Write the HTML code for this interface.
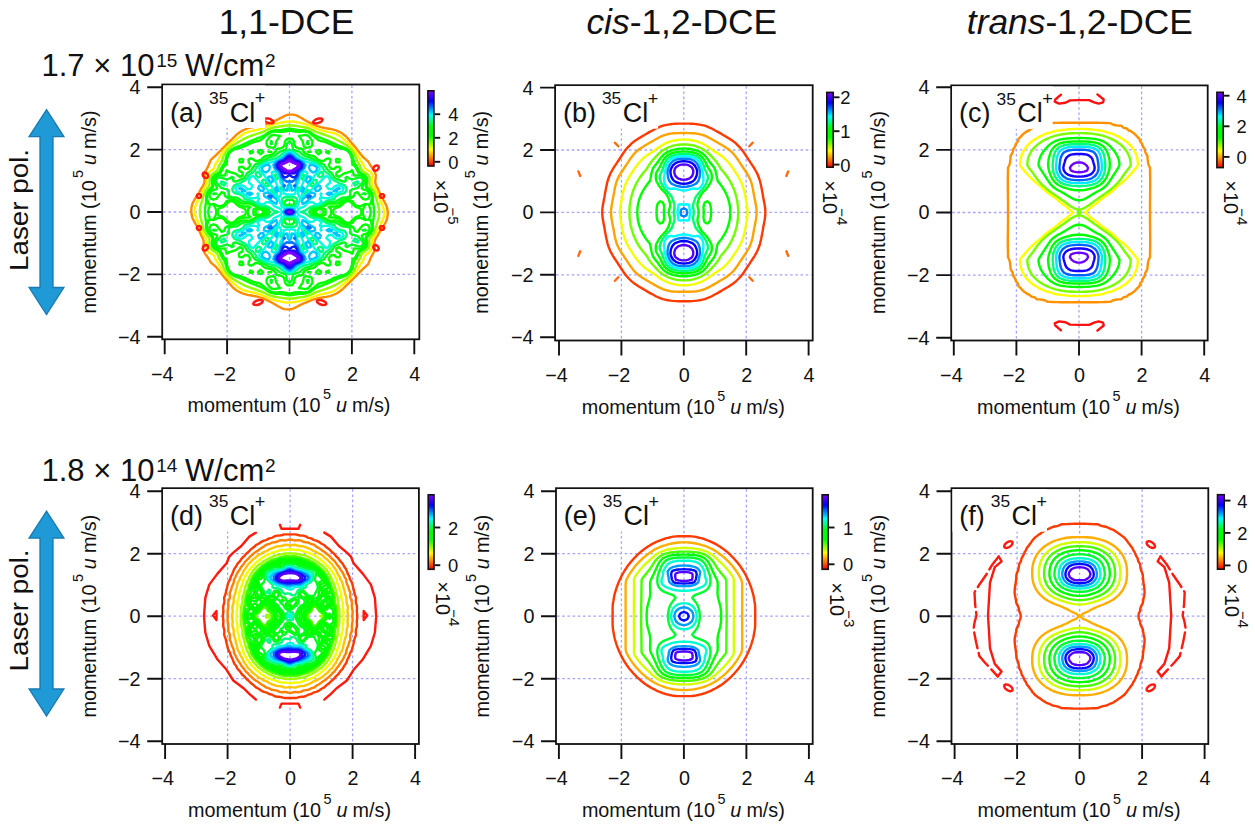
<!DOCTYPE html><html><head><meta charset="utf-8"><style>html,body{margin:0;padding:0;background:#fff;}svg{display:block}text{font-family:'Liberation Sans', sans-serif;fill:#111}</style></head><body><svg width="1255" height="826" viewBox="0 0 1255 826"><defs><linearGradient id="cbg" x1="0" y1="0" x2="0" y2="1"><stop offset="0.000" stop-color="#8000ff"/><stop offset="0.140" stop-color="#0000ff"/><stop offset="0.320" stop-color="#00ffff"/><stop offset="0.480" stop-color="#00ff00"/><stop offset="0.600" stop-color="#00ff00"/><stop offset="0.780" stop-color="#ffff00"/><stop offset="0.890" stop-color="#ff8000"/><stop offset="1.000" stop-color="#ff0000"/></linearGradient></defs><rect width="1255" height="826" fill="#fff"/><text x="218.7" y="34.3" font-size="35.4">1,1-DCE</text><text x="586.4" y="34.0" font-size="35.4"><tspan font-style="italic">cis</tspan>-1,2-DCE</text><text x="966.8" y="34.0" font-size="35.4"><tspan font-style="italic">trans</tspan>-1,2-DCE</text><text x="41.5" y="75.8" font-size="31.0">1.7 × 10</text><text x="156.3" y="66.8" font-size="19.0">15</text><text x="176.5" y="75.8" font-size="31.0" xml:space="preserve"> W/cm</text><text x="265.0" y="66.8" font-size="19.0">2</text><text x="41.5" y="480.8" font-size="31.0">1.8 × 10</text><text x="156.3" y="471.8" font-size="19.0">14</text><text x="176.5" y="480.8" font-size="31.0" xml:space="preserve"> W/cm</text><text x="265.0" y="471.8" font-size="19.0">2</text><path d="M46.5 109.7L63.9 136.6L53.0 136.6L53.0 287.5L63.9 287.5L46.5 314.5L29.1 287.5L40.0 287.5L40.0 136.6L29.1 136.6Z" fill="#1f9ad6" stroke="#1679b0" stroke-width="1.3" stroke-linejoin="miter"/><g transform="translate(27.6 271.0) rotate(-90) scale(1.07 1)"><text x="0.0" y="0.0" font-size="26.0">Laser pol.</text></g><path d="M46.5 511.2L63.9 538.1L53.0 538.1L53.0 689.0L63.9 689.0L46.5 716.0L29.1 689.0L40.0 689.0L40.0 538.1L29.1 538.1Z" fill="#1f9ad6" stroke="#1679b0" stroke-width="1.3" stroke-linejoin="miter"/><g transform="translate(27.6 671.5) rotate(-90) scale(1.07 1)"><text x="0.0" y="0.0" font-size="26.0">Laser pol.</text></g><path d="M227.1 85.5V338.3 M163.2 274.4H418.3 M289.5 85.5V338.3 M163.2 212.0H418.3 M351.9 85.5V338.3 M163.2 149.6H418.3" stroke="#a4a4ff" stroke-width="1.3" stroke-dasharray="2.6 2.6" fill="none"/><clipPath id="cpa"><rect x="162.2" y="84.5" width="257.1" height="254.8"/></clipPath><g clip-path="url(#cpa)"><g fill="none" stroke-width="2.4" stroke-linejoin="round" stroke-linecap="round"><path d="M294.7,114.9 292.1,114.6 289.5,114.6 286.9,115.0 286.8,115.0 284.3,116.2 281.6,117.5 281.3,117.7 279.0,118.8 276.4,120.1 276.0,120.3 273.8,121.2 271.2,122.3 269.7,122.9 268.5,123.3 265.9,124.3 263.3,125.2 262.0,125.5 260.7,125.9 258.1,126.3 255.4,126.7 252.8,127.1 250.2,127.6 248.4,128.1 247.6,128.4 244.9,129.5 242.3,130.6 242.1,130.8 239.7,132.3 238.1,133.4 237.1,134.2 235.2,136.0 234.5,136.7 232.6,138.6 231.8,139.3 229.9,141.2 229.2,141.8 227.1,143.9 226.6,144.4 224.5,146.5 224.0,147.0 221.9,149.1 221.4,149.8 219.4,151.7 218.7,152.5 216.7,154.3 216.1,155.1 213.9,157.0 213.5,157.3 211.1,159.6 210.9,159.8 209.8,162.2 208.8,164.8 208.3,165.9 207.6,167.4 206.1,170.1 205.6,170.9 204.8,172.7 204.3,175.3 204.4,177.9 204.6,180.6 204.2,183.2 203.0,185.8 203.0,185.8 201.3,188.4 200.4,190.2 199.9,191.0 198.4,193.7 197.8,194.7 196.7,196.3 195.2,198.6 194.9,198.9 193.5,201.5 192.5,203.5 192.3,204.1 191.6,206.8 191.3,209.4 191.3,212.0 191.6,214.6 192.2,217.2 192.5,218.0 193.4,219.9 194.7,222.5 195.2,223.2 196.2,225.1 197.7,227.7 197.8,227.8 199.0,230.3 200.2,233.0 200.4,233.3 201.3,235.6 202.7,238.2 203.0,239.0 203.6,240.8 203.7,243.4 203.3,246.1 203.2,248.7 203.9,251.3 205.1,253.9 205.6,254.5 207.2,256.6 208.3,258.3 209.0,259.2 210.4,261.8 210.9,262.5 213.0,264.4 213.5,264.8 216.1,267.0 216.1,267.0 218.2,269.7 218.7,270.2 220.2,272.3 221.4,273.7 222.3,274.9 224.0,277.0 224.4,277.5 226.6,280.1 226.7,280.1 228.8,282.8 229.2,283.3 231.0,285.4 231.8,286.3 233.4,288.0 234.5,288.8 236.8,290.6 237.1,290.8 239.7,292.2 241.9,293.2 242.3,293.4 244.9,294.2 247.6,294.9 250.2,295.3 252.8,295.7 253.6,295.9 255.4,296.2 258.1,296.8 260.7,297.6 263.2,298.5 263.3,298.5 265.9,299.7 268.5,300.9 268.9,301.1 271.2,302.3 273.8,303.7 273.9,303.7 276.4,305.3 278.1,306.3 279.0,306.8 281.6,308.1 283.7,309.0 284.3,309.1 286.9,309.4 289.5,309.4 292.1,309.0 292.2,309.0 294.7,307.8 297.4,306.5 297.7,306.3 300.0,305.2 302.6,303.9 303.0,303.7 305.2,302.8 307.8,301.7 309.3,301.1 310.5,300.7 313.1,299.7 315.7,298.8 317.0,298.5 318.3,298.1 320.9,297.7 323.6,297.3 326.2,296.9 328.8,296.4 330.6,295.9 331.4,295.6 334.1,294.5 336.7,293.4 336.9,293.2 339.3,291.7 340.9,290.6 341.9,289.8 343.8,288.0 344.5,287.3 346.4,285.4 347.2,284.7 349.1,282.8 349.8,282.2 351.9,280.1 352.4,279.6 354.5,277.5 355.0,277.0 357.1,274.9 357.6,274.2 359.6,272.3 360.3,271.5 362.3,269.7 362.9,268.9 365.1,267.0 365.5,266.7 367.9,264.4 368.1,264.2 369.2,261.8 370.2,259.2 370.7,258.1 371.4,256.6 372.9,253.9 373.4,253.1 374.2,251.3 374.7,248.7 374.6,246.1 374.4,243.4 374.8,240.8 376.0,238.2 376.0,238.2 377.7,235.6 378.6,233.8 379.1,233.0 380.6,230.3 381.2,229.3 382.3,227.7 383.8,225.4 384.1,225.1 385.5,222.5 386.5,220.5 386.7,219.9 387.4,217.2 387.7,214.6 387.7,212.0 387.4,209.4 386.8,206.8 386.5,206.0 385.6,204.1 384.3,201.5 383.8,200.8 382.8,198.9 381.3,196.3 381.2,196.2 380.0,193.7 378.8,191.0 378.6,190.7 377.7,188.4 376.3,185.8 376.0,185.0 375.4,183.2 375.3,180.6 375.7,177.9 375.8,175.3 375.1,172.7 373.9,170.1 373.4,169.5 371.8,167.4 370.7,165.7 370.0,164.8 368.6,162.2 368.1,161.5 366.0,159.6 365.5,159.2 362.9,157.0 362.9,157.0 360.8,154.3 360.3,153.8 358.8,151.7 357.6,150.3 356.7,149.1 355.0,147.0 354.6,146.5 352.4,143.9 352.3,143.9 350.2,141.2 349.8,140.7 348.0,138.6 347.2,137.7 345.6,136.0 344.5,135.2 342.2,133.4 341.9,133.2 339.3,131.8 337.1,130.8 336.7,130.6 334.1,129.8 331.4,129.1 328.8,128.7 326.2,128.3 325.4,128.1 323.6,127.8 320.9,127.2 318.3,126.4 315.8,125.5 315.7,125.5 313.1,124.3 310.5,123.1 310.1,122.9 307.8,121.7 305.2,120.3 305.1,120.3 302.6,118.7 300.9,117.7 300.0,117.2 297.4,115.9 295.3,115.0 294.7,114.9Z" stroke="#ff8c00"/><path d="M300.0,122.9 297.4,122.2 294.7,121.8 292.1,121.5 289.5,121.5 286.9,121.6 284.3,122.0 281.6,122.5 280.1,122.9 279.0,123.1 276.4,123.7 273.8,124.4 271.2,125.2 270.3,125.5 268.5,126.2 265.9,127.2 263.3,128.1 263.1,128.1 260.7,128.9 258.1,129.6 255.4,130.2 252.8,130.7 252.5,130.8 250.2,131.3 247.6,132.1 244.9,133.1 244.4,133.4 242.3,134.7 240.5,136.0 239.7,136.6 237.1,138.6 237.1,138.7 234.5,140.7 233.8,141.2 231.8,142.8 230.6,143.9 229.2,145.0 227.7,146.5 226.6,147.6 225.2,149.1 224.0,150.6 223.1,151.7 221.4,154.3 221.4,154.4 219.8,157.0 218.7,159.3 218.6,159.6 216.6,162.2 216.1,163.1 215.1,164.8 214.5,167.4 213.5,168.9 212.3,170.1 210.9,170.9 208.9,172.7 208.3,173.5 207.4,175.3 207.1,177.9 207.1,180.6 207.0,183.2 206.0,185.8 205.6,186.3 204.1,188.4 203.0,190.3 202.6,191.0 201.4,193.7 200.4,195.8 200.1,196.3 198.8,198.9 197.8,200.9 197.4,201.5 196.2,204.1 195.2,206.8 195.2,207.0 194.8,209.4 194.8,212.0 195.2,214.4 195.2,214.6 196.0,217.2 197.0,219.9 197.8,221.5 198.2,222.5 199.4,225.1 200.4,227.4 200.5,227.7 201.7,230.3 202.7,233.0 203.0,233.6 204.1,235.6 205.6,237.9 205.9,238.2 206.7,240.8 206.7,243.4 206.4,246.1 206.4,248.7 207.7,251.3 208.3,252.1 210.9,253.5 211.8,253.9 213.5,255.1 214.5,256.6 215.4,259.2 216.1,260.3 217.0,261.8 218.7,264.1 218.9,264.4 220.1,267.0 221.4,269.1 221.6,269.7 223.3,272.3 224.0,273.2 225.2,274.9 226.6,276.5 227.6,277.5 229.2,279.3 230.2,280.1 231.8,281.8 233.1,282.8 234.5,284.1 236.0,285.4 237.1,286.4 239.2,288.0 239.7,288.3 242.3,289.7 244.5,290.6 244.9,290.7 247.6,291.4 250.2,291.9 252.8,292.5 255.4,293.2 255.6,293.2 258.1,293.9 260.7,294.7 263.3,295.8 263.5,295.9 265.9,296.8 268.5,297.9 270.0,298.5 271.2,299.0 273.8,299.8 276.4,300.6 279.0,301.1 279.0,301.1 281.6,301.8 284.3,302.2 286.9,302.5 289.5,302.5 292.1,302.4 294.7,302.0 297.4,301.5 298.9,301.1 300.0,300.9 302.6,300.3 305.2,299.6 307.8,298.8 308.7,298.5 310.5,297.8 313.1,296.8 315.7,295.9 315.9,295.9 318.3,295.1 320.9,294.4 323.6,293.8 326.2,293.3 326.5,293.2 328.8,292.7 331.4,291.9 334.1,290.9 334.6,290.6 336.7,289.3 338.5,288.0 339.3,287.4 341.9,285.4 341.9,285.3 344.5,283.3 345.2,282.8 347.2,281.2 348.4,280.1 349.8,279.0 351.3,277.5 352.4,276.4 353.8,274.9 355.0,273.4 355.9,272.3 357.6,269.7 357.6,269.6 359.2,267.0 360.3,264.7 360.4,264.4 362.4,261.8 362.9,260.9 363.9,259.2 364.5,256.6 365.5,255.1 366.7,253.9 368.1,253.1 370.1,251.3 370.7,250.5 371.6,248.7 371.9,246.1 371.9,243.4 372.0,240.8 373.0,238.2 373.4,237.7 374.9,235.6 376.0,233.7 376.4,233.0 377.6,230.3 378.6,228.2 378.9,227.7 380.2,225.1 381.2,223.1 381.6,222.5 382.8,219.9 383.8,217.2 383.8,217.0 384.2,214.6 384.2,212.0 383.8,209.6 383.8,209.4 383.0,206.8 382.0,204.1 381.2,202.5 380.8,201.5 379.6,198.9 378.6,196.6 378.5,196.3 377.3,193.7 376.3,191.0 376.0,190.4 374.9,188.4 373.4,186.1 373.1,185.8 372.3,183.2 372.3,180.6 372.6,177.9 372.6,175.3 371.3,172.7 370.7,171.9 368.1,170.5 367.2,170.1 365.5,168.9 364.5,167.4 363.6,164.8 362.9,163.7 362.0,162.2 360.3,159.9 360.1,159.6 358.9,157.0 357.6,154.9 357.4,154.3 355.7,151.7 355.0,150.8 353.8,149.1 352.4,147.5 351.4,146.5 349.8,144.7 348.8,143.9 347.2,142.2 345.9,141.2 344.5,139.9 343.0,138.6 341.9,137.6 339.8,136.0 339.3,135.7 336.7,134.3 334.5,133.4 334.1,133.3 331.4,132.6 328.8,132.1 326.2,131.5 323.6,130.8 323.4,130.8 320.9,130.1 318.3,129.3 315.7,128.2 315.5,128.1 313.1,127.2 310.5,126.1 309.0,125.5 307.8,125.0 305.2,124.2 302.6,123.4 300.0,122.9 300.0,122.9Z" stroke="#fff300"/><path d="M292.1,125.5 289.5,125.3 286.9,125.5 286.6,125.5 284.3,125.8 281.6,126.2 279.0,126.6 276.4,127.0 273.8,127.5 271.4,128.1 271.2,128.2 268.5,129.2 265.9,130.4 265.1,130.8 263.3,131.6 260.7,132.6 258.2,133.4 258.1,133.4 255.4,134.3 252.8,135.2 250.6,136.0 250.2,136.2 247.6,137.2 244.9,138.4 244.6,138.6 242.3,139.8 239.7,141.2 239.7,141.2 237.1,142.7 235.2,143.9 234.5,144.2 231.8,146.0 231.2,146.5 229.2,148.1 228.2,149.1 226.6,151.0 226.0,151.7 224.4,154.3 224.0,155.3 223.2,157.0 222.3,159.6 221.4,161.9 221.2,162.2 219.5,164.8 218.7,166.6 218.4,167.4 217.3,170.1 216.1,171.3 214.3,172.7 213.5,173.2 210.9,175.1 210.7,175.3 209.6,177.9 209.5,180.6 209.7,183.2 209.2,185.8 208.3,187.0 207.2,188.4 205.6,190.5 205.3,191.0 204.2,193.7 203.3,196.3 203.0,197.3 202.5,198.9 201.8,201.5 201.0,204.1 200.4,206.5 200.3,206.8 199.9,209.4 199.8,212.0 200.0,214.6 200.4,217.0 200.4,217.2 201.1,219.9 201.9,222.5 202.6,225.1 203.0,226.4 203.4,227.7 204.2,230.3 205.3,233.0 205.6,233.5 207.2,235.6 208.3,237.0 209.2,238.2 209.6,240.8 209.4,243.4 209.3,246.1 210.3,248.7 210.9,249.2 213.5,250.9 214.2,251.3 216.1,252.7 217.3,253.9 218.4,256.6 218.7,257.4 219.5,259.2 221.2,261.8 221.4,262.1 222.3,264.4 223.3,267.0 224.0,268.6 224.5,269.7 226.0,272.3 226.6,273.0 228.2,274.9 229.2,276.0 231.1,277.5 231.8,278.1 234.5,279.9 234.9,280.1 237.1,281.5 239.5,282.8 239.7,282.9 242.3,284.3 244.5,285.4 244.9,285.6 247.6,286.7 250.2,287.7 250.9,288.0 252.8,288.6 255.4,289.5 258.1,290.5 258.4,290.6 260.7,291.4 263.3,292.4 265.1,293.2 265.9,293.6 268.5,294.8 271.2,295.8 271.3,295.9 273.8,296.5 276.4,297.0 279.0,297.4 281.6,297.9 284.3,298.2 286.5,298.5 286.9,298.5 289.5,298.7 292.1,298.5 292.4,298.5 294.7,298.2 297.4,297.8 300.0,297.4 302.6,297.0 305.2,296.5 307.6,295.9 307.8,295.8 310.5,294.8 313.1,293.6 313.9,293.2 315.7,292.4 318.3,291.4 320.8,290.6 320.9,290.6 323.6,289.7 326.2,288.8 328.4,288.0 328.8,287.8 331.4,286.8 334.1,285.6 334.4,285.4 336.7,284.2 339.3,282.8 339.3,282.8 341.9,281.3 343.8,280.1 344.5,279.8 347.2,278.0 347.8,277.5 349.8,275.9 350.8,274.9 352.4,273.0 353.0,272.3 354.6,269.7 355.0,268.7 355.8,267.0 356.7,264.4 357.6,262.1 357.8,261.8 359.5,259.2 360.3,257.4 360.6,256.6 361.7,253.9 362.9,252.7 364.7,251.3 365.5,250.8 368.1,248.9 368.3,248.7 369.4,246.1 369.5,243.4 369.3,240.8 369.8,238.2 370.7,237.0 371.8,235.6 373.4,233.5 373.7,233.0 374.8,230.3 375.7,227.7 376.0,226.7 376.5,225.1 377.2,222.5 378.0,219.9 378.6,217.5 378.7,217.2 379.1,214.6 379.2,212.0 379.0,209.4 378.6,207.0 378.6,206.8 377.9,204.1 377.1,201.5 376.4,198.9 376.0,197.6 375.6,196.3 374.8,193.7 373.7,191.0 373.4,190.5 371.8,188.4 370.7,187.0 369.8,185.8 369.4,183.2 369.6,180.6 369.7,177.9 368.7,175.3 368.1,174.8 365.5,173.1 364.8,172.7 362.9,171.3 361.7,170.1 360.6,167.4 360.3,166.6 359.5,164.8 357.8,162.2 357.6,161.9 356.7,159.6 355.7,157.0 355.0,155.4 354.5,154.3 353.0,151.7 352.4,151.0 350.8,149.1 349.8,148.0 347.9,146.5 347.2,145.9 344.5,144.1 344.1,143.9 341.9,142.5 339.5,141.2 339.3,141.1 336.7,139.7 334.5,138.6 334.1,138.4 331.4,137.3 328.8,136.3 328.1,136.0 326.2,135.4 323.6,134.5 320.9,133.5 320.6,133.4 318.3,132.6 315.7,131.6 313.9,130.8 313.1,130.4 310.5,129.2 307.8,128.2 307.7,128.1 305.2,127.5 302.6,127.0 300.0,126.6 297.4,126.1 294.7,125.8 292.5,125.5 292.1,125.5Z" stroke="#8eff00"/><path d="M305.2,130.4 302.6,130.2 300.0,130.2 297.4,130.0 294.7,129.5 292.1,129.0 289.5,128.7 286.9,129.0 284.3,129.5 281.6,130.0 279.0,130.2 276.4,130.2 273.8,130.4 272.6,130.8 271.2,131.2 268.5,132.4 267.0,133.4 265.9,134.3 263.3,135.7 262.6,136.0 260.7,137.1 258.1,138.0 256.4,138.6 255.4,139.2 252.8,140.1 250.2,141.2 250.1,141.2 247.6,142.4 244.9,143.6 244.4,143.9 242.3,144.8 239.7,146.0 238.3,146.5 237.1,146.9 234.5,147.9 232.2,149.1 231.8,149.3 229.2,151.6 229.1,151.7 227.4,154.3 226.6,156.2 226.3,157.0 225.6,159.6 225.1,162.2 224.0,163.8 223.4,164.8 221.6,167.4 221.4,167.9 220.6,170.1 218.8,172.7 218.7,172.7 216.1,174.3 214.4,175.3 213.5,176.1 212.1,177.9 211.8,180.6 212.2,183.2 212.4,185.8 210.9,188.2 210.7,188.4 208.3,190.8 208.1,191.0 206.8,193.7 206.2,196.3 206.1,198.9 206.1,201.5 205.8,204.1 205.6,204.8 205.3,206.8 205.0,209.4 204.9,212.0 205.0,214.6 205.3,217.2 205.6,219.1 205.8,219.9 206.1,222.5 206.1,225.1 206.2,227.7 206.8,230.3 208.1,233.0 208.3,233.2 210.7,235.6 210.9,235.8 212.4,238.2 212.2,240.8 211.8,243.4 212.0,246.1 213.5,248.0 214.4,248.7 216.1,249.7 218.7,251.3 218.8,251.3 220.6,253.9 221.4,256.1 221.6,256.6 223.4,259.2 224.0,260.2 225.1,261.8 225.6,264.4 226.3,267.0 226.6,267.7 227.4,269.7 229.1,272.3 229.2,272.4 231.8,274.7 232.2,274.9 234.5,276.1 237.1,277.1 238.3,277.5 239.7,278.1 242.3,279.2 244.4,280.1 244.9,280.4 247.6,281.6 250.1,282.8 250.2,282.8 252.8,283.9 255.4,284.8 256.5,285.4 258.1,286.0 260.7,286.9 262.6,288.0 263.3,288.3 265.9,289.7 267.0,290.6 268.5,291.6 271.2,292.8 272.6,293.2 273.8,293.6 276.4,293.8 279.0,293.8 281.6,294.0 284.3,294.5 286.9,295.0 289.5,295.3 292.1,295.0 294.7,294.5 297.4,294.0 300.0,293.8 302.6,293.8 305.2,293.6 306.4,293.2 307.8,292.8 310.5,291.6 312.0,290.6 313.1,289.7 315.7,288.3 316.4,288.0 318.3,286.9 320.9,286.0 322.6,285.4 323.6,284.8 326.2,283.9 328.8,282.8 328.9,282.8 331.4,281.6 334.1,280.4 334.6,280.1 336.7,279.2 339.3,278.0 340.7,277.5 341.9,277.1 344.5,276.1 346.8,274.9 347.2,274.7 349.8,272.4 349.9,272.3 351.6,269.7 352.4,267.8 352.7,267.0 353.4,264.4 353.9,261.8 355.0,260.2 355.6,259.2 357.4,256.6 357.6,256.1 358.4,253.9 360.2,251.3 360.3,251.3 362.9,249.7 364.6,248.7 365.5,247.9 366.9,246.1 367.2,243.4 366.8,240.8 366.6,238.2 368.1,235.8 368.3,235.6 370.7,233.2 370.9,233.0 372.2,230.3 372.8,227.7 372.9,225.1 372.9,222.5 373.2,219.9 373.4,219.2 373.7,217.2 374.0,214.6 374.1,212.0 374.0,209.4 373.7,206.8 373.4,204.9 373.2,204.1 372.9,201.5 372.9,198.9 372.8,196.3 372.2,193.7 370.9,191.0 370.7,190.8 368.3,188.4 368.1,188.2 366.6,185.8 366.8,183.2 367.2,180.6 367.0,177.9 365.5,176.0 364.6,175.3 362.9,174.3 360.3,172.7 360.2,172.7 358.4,170.1 357.6,167.9 357.4,167.4 355.6,164.8 355.0,163.8 353.9,162.2 353.4,159.6 352.7,157.0 352.4,156.3 351.6,154.3 349.9,151.7 349.8,151.6 347.2,149.3 346.8,149.1 344.5,147.9 341.9,146.9 340.7,146.5 339.3,145.9 336.7,144.8 334.6,143.9 334.1,143.6 331.4,142.4 328.9,141.2 328.8,141.2 326.2,140.1 323.6,139.2 322.5,138.6 320.9,138.0 318.3,137.1 316.4,136.0 315.7,135.7 313.1,134.3 312.0,133.4 310.5,132.4 307.8,131.2 306.4,130.8 305.2,130.4Z M232.7,201.5 234.5,202.4 236.3,204.1 237.1,205.1 239.6,206.8 239.7,206.8 242.3,207.6 244.9,209.0 245.3,209.4 245.9,212.0 245.3,214.6 244.9,215.0 242.3,216.4 239.7,217.2 239.6,217.2 237.1,218.9 236.3,219.9 234.5,221.6 232.7,222.5 231.8,222.7 229.2,222.6 229.0,222.5 226.6,220.0 226.5,219.9 224.0,217.5 223.5,217.2 221.4,216.5 218.7,215.3 218.1,214.6 217.6,212.0 218.1,209.4 218.7,208.7 221.4,207.5 223.5,206.8 224.0,206.5 226.5,204.1 226.6,204.0 229.0,201.5 229.2,201.4 231.8,201.3 232.7,201.5Z M350.0,201.5 352.4,204.0 352.5,204.1 355.0,206.5 355.5,206.8 357.6,207.5 360.3,208.7 360.9,209.4 361.4,212.0 360.9,214.6 360.3,215.3 357.6,216.5 355.5,217.2 355.0,217.5 352.5,219.9 352.4,220.0 350.0,222.5 349.8,222.6 347.2,222.7 346.3,222.5 344.5,221.6 342.7,219.9 341.9,218.9 339.4,217.2 339.3,217.2 336.7,216.4 334.1,215.0 333.7,214.6 333.1,212.0 333.7,209.4 334.1,209.0 336.7,207.6 339.3,206.8 339.4,206.8 341.9,205.1 342.7,204.1 344.5,202.4 346.3,201.5 347.2,201.3 349.8,201.4 350.0,201.5Z M260.9,209.4 263.3,211.2 263.8,212.0 263.3,212.8 260.9,214.6 260.7,214.7 258.1,214.8 257.1,214.6 255.4,212.4 255.3,212.0 255.4,211.6 257.1,209.4 258.1,209.2 260.7,209.3 260.9,209.4Z M321.9,209.4 323.6,211.6 323.7,212.0 323.6,212.4 321.9,214.6 320.9,214.8 318.3,214.7 318.1,214.6 315.7,212.8 315.2,212.0 315.7,211.2 318.1,209.4 318.3,209.3 320.9,209.2 321.9,209.4Z" stroke="#0eff00"/><path d="M289.5,130.6 288.1,130.8 286.9,131.0 284.3,131.5 281.6,131.7 279.0,131.8 276.4,131.5 273.8,131.6 271.2,132.2 268.8,133.4 268.5,133.7 265.9,135.8 265.5,136.0 263.3,138.2 262.1,138.6 260.7,140.2 258.1,141.1 257.0,141.2 255.4,141.6 252.8,142.4 250.2,143.7 249.5,143.9 247.6,144.7 244.9,146.3 243.9,146.5 242.3,146.9 239.7,148.2 237.1,148.5 235.0,149.1 234.5,149.3 231.8,150.7 230.7,151.7 229.2,153.4 228.6,154.3 227.6,157.0 227.0,159.6 226.9,162.2 226.6,163.3 226.2,164.8 224.0,166.4 223.3,167.4 221.9,170.1 221.4,171.4 220.7,172.7 218.7,173.6 216.1,175.1 215.8,175.3 213.5,177.2 212.9,177.9 212.6,180.6 213.0,183.2 213.4,185.8 212.2,188.4 210.9,189.3 209.1,191.0 208.3,192.5 207.7,193.7 207.1,196.3 207.2,198.9 207.8,201.5 208.3,203.6 210.1,204.1 209.4,206.8 208.5,209.4 208.3,212.0 208.5,214.6 209.4,217.2 210.1,219.9 208.3,220.4 207.8,222.5 207.2,225.1 207.1,227.7 207.7,230.3 208.3,231.5 209.1,233.0 210.9,234.7 212.2,235.6 213.4,238.2 213.0,240.8 212.5,243.4 212.9,246.1 213.5,246.8 215.8,248.7 216.1,248.9 218.7,250.4 220.7,251.3 221.4,252.6 221.9,253.9 223.3,256.6 224.0,257.6 226.2,259.2 226.6,260.7 226.9,261.8 227.0,264.4 227.6,267.0 228.6,269.7 229.2,270.6 230.7,272.3 231.8,273.3 234.5,274.7 235.0,274.9 237.1,275.5 239.7,275.8 242.3,277.1 243.9,277.5 244.9,277.7 247.6,279.3 249.5,280.1 250.2,280.3 252.8,281.6 255.4,282.4 257.0,282.8 258.1,282.9 260.7,283.8 262.1,285.4 263.3,285.8 265.5,288.0 265.9,288.2 268.5,290.3 268.8,290.6 271.2,291.8 273.8,292.4 276.4,292.5 279.0,292.2 281.6,292.3 284.3,292.5 286.9,293.0 288.1,293.2 289.5,293.4 290.9,293.2 292.1,293.0 294.7,292.5 297.4,292.3 300.0,292.2 302.6,292.5 305.2,292.4 307.8,291.8 310.2,290.6 310.5,290.3 313.1,288.2 313.5,288.0 315.7,285.8 316.9,285.4 318.3,283.8 320.9,282.9 322.0,282.8 323.6,282.4 326.2,281.6 328.8,280.3 329.5,280.1 331.4,279.3 334.1,277.7 335.1,277.5 336.7,277.1 339.3,275.8 341.9,275.5 344.0,274.9 344.5,274.7 347.2,273.3 348.3,272.3 349.8,270.6 350.4,269.7 351.4,267.0 352.0,264.4 352.1,261.8 352.4,260.7 352.8,259.2 355.0,257.6 355.7,256.6 357.1,253.9 357.6,252.6 358.3,251.3 360.3,250.4 362.9,248.9 363.2,248.7 365.5,246.8 366.1,246.1 366.4,243.4 366.0,240.8 365.6,238.2 366.8,235.6 368.1,234.7 369.9,233.0 370.7,231.5 371.3,230.3 371.9,227.7 371.8,225.1 371.2,222.5 370.7,220.4 368.9,219.9 369.6,217.2 370.5,214.6 370.7,212.0 370.5,209.4 369.6,206.8 368.9,204.1 370.7,203.6 371.2,201.5 371.8,198.9 371.9,196.3 371.3,193.7 370.7,192.5 369.9,191.0 368.1,189.3 366.8,188.4 365.6,185.8 366.0,183.2 366.5,180.6 366.1,177.9 365.5,177.2 363.2,175.3 362.9,175.1 360.3,173.6 358.3,172.7 357.6,171.4 357.1,170.1 355.7,167.4 355.0,166.4 352.8,164.8 352.4,163.3 352.1,162.2 352.0,159.6 351.4,157.0 350.4,154.3 349.8,153.4 348.3,151.7 347.2,150.7 344.5,149.3 344.0,149.1 341.9,148.5 339.3,148.2 336.7,146.9 335.1,146.5 334.1,146.3 331.4,144.7 329.5,143.9 328.8,143.7 326.2,142.4 323.6,141.6 322.0,141.2 320.9,141.1 318.3,140.2 316.9,138.6 315.7,138.2 313.5,136.0 313.1,135.8 310.5,133.7 310.2,133.4 307.8,132.2 305.2,131.6 302.6,131.5 300.0,131.8 297.4,131.7 294.7,131.5 292.1,131.0 290.9,130.8 289.5,130.6Z M253.0,272.3 252.8,272.5 250.2,272.8 249.6,272.3 250.2,270.6 252.8,271.7 253.0,272.3Z M271.2,272.3 271.2,272.3 268.5,272.4 268.4,272.3 268.5,272.2 271.2,272.2 271.2,272.3Z M310.6,272.3 310.5,272.4 307.8,272.3 307.8,272.3 307.8,272.2 310.5,272.2 310.6,272.3Z M329.4,272.3 328.8,272.8 326.2,272.5 326.0,272.3 326.2,271.7 328.8,270.6 329.4,272.3Z M242.6,261.8 243.2,264.4 242.3,265.1 239.7,264.7 239.4,264.4 239.6,261.8 239.7,261.7 242.3,261.6 242.6,261.8Z M339.4,261.8 339.6,264.4 339.3,264.7 336.7,265.1 335.8,264.4 336.4,261.8 336.7,261.6 339.3,261.7 339.4,261.8Z M235.2,201.5 237.1,203.3 238.1,204.1 239.7,205.4 242.3,206.2 244.9,206.5 247.6,206.4 250.2,206.7 250.4,206.8 250.2,206.9 248.0,209.4 247.6,211.4 247.5,212.0 247.6,212.6 248.0,214.6 250.2,217.1 250.4,217.2 250.2,217.3 247.6,217.6 244.9,217.5 242.3,217.8 239.7,218.6 238.1,219.9 237.1,220.7 235.2,222.5 234.5,222.9 231.8,223.5 229.2,223.6 226.6,222.8 226.2,222.5 224.7,219.9 224.0,219.2 221.4,218.0 218.7,217.7 216.1,218.8 214.2,219.9 213.5,220.0 212.1,219.9 213.5,219.3 214.8,217.2 216.0,214.6 216.1,213.5 216.2,212.0 216.1,210.5 216.0,209.4 214.8,206.8 213.5,204.7 212.1,204.1 213.5,204.0 214.2,204.1 216.1,205.2 218.7,206.3 221.4,206.0 224.0,204.8 224.7,204.1 226.2,201.5 226.6,201.2 229.2,200.4 231.8,200.5 234.5,201.1 235.2,201.5Z M352.8,201.5 354.3,204.1 355.0,204.8 357.6,206.0 360.3,206.3 362.9,205.2 364.8,204.1 365.5,204.0 366.9,204.1 365.5,204.7 364.2,206.8 363.0,209.4 362.9,210.5 362.8,212.0 362.9,213.5 363.0,214.6 364.2,217.2 365.5,219.3 366.9,219.9 365.5,220.0 364.8,219.9 362.9,218.8 360.3,217.7 357.6,218.0 355.0,219.2 354.3,219.9 352.8,222.5 352.4,222.8 349.8,223.6 347.2,223.5 344.5,222.9 343.8,222.5 341.9,220.7 340.9,219.9 339.3,218.6 336.7,217.8 334.1,217.5 331.4,217.6 328.8,217.3 328.6,217.2 328.8,217.1 331.0,214.6 331.4,212.6 331.5,212.0 331.4,211.4 331.0,209.4 328.8,206.9 328.6,206.8 328.8,206.7 331.4,206.4 334.1,206.5 336.7,206.2 339.3,205.4 340.9,204.1 341.9,203.3 343.8,201.5 344.5,201.1 347.2,200.5 349.8,200.4 352.4,201.2 352.8,201.5Z M263.0,209.4 263.3,209.6 265.0,212.0 263.3,214.4 263.0,214.6 260.7,215.2 258.1,215.5 255.4,215.5 253.5,214.6 253.4,212.0 253.5,209.4 255.4,208.5 258.1,208.5 260.7,208.8 263.0,209.4Z M325.5,209.4 325.6,212.0 325.5,214.6 323.6,215.5 320.9,215.5 318.3,215.2 316.0,214.6 315.7,214.4 314.0,212.0 315.7,209.6 316.0,209.4 318.3,208.8 320.9,208.5 323.6,208.5 325.5,209.4Z M243.2,159.6 242.6,162.2 242.3,162.4 239.7,162.3 239.6,162.2 239.4,159.6 239.7,159.3 242.3,158.9 243.2,159.6Z M339.6,159.6 339.4,162.2 339.3,162.3 336.7,162.4 336.4,162.2 335.8,159.6 336.7,158.9 339.3,159.3 339.6,159.6Z M253.0,151.7 252.8,152.3 250.2,153.4 249.6,151.7 250.2,151.2 252.8,151.5 253.0,151.7Z M271.2,151.7 271.2,151.8 268.5,151.8 268.4,151.7 268.5,151.6 271.2,151.7 271.2,151.7Z M310.6,151.7 310.5,151.8 307.8,151.8 307.8,151.7 307.8,151.7 310.5,151.6 310.6,151.7Z M329.4,151.7 328.8,153.4 326.2,152.3 326.0,151.7 326.2,151.5 328.8,151.2 329.4,151.7Z" stroke="#00ff00"/><path d="M273.8,276.3 271.2,276.4 268.5,277.0 267.6,277.5 266.5,280.1 266.7,282.8 268.4,285.4 268.5,285.6 270.6,288.0 271.2,288.5 273.8,289.2 276.4,288.6 279.0,288.3 280.0,288.0 279.0,287.1 278.2,285.4 276.4,282.9 276.4,282.8 275.7,280.1 275.1,277.5 273.8,276.3Z M310.5,277.0 307.8,276.4 305.2,276.3 303.9,277.5 303.3,280.1 302.6,282.8 302.6,282.9 300.8,285.4 300.0,287.1 299.0,288.0 300.0,288.3 302.6,288.6 305.2,289.2 307.8,288.5 308.4,288.0 310.5,285.6 310.6,285.4 312.3,282.8 312.5,280.1 311.4,277.5 310.5,277.0Z M289.5,138.4 288.6,138.6 286.9,139.0 285.1,141.2 284.6,143.9 284.3,145.2 283.7,146.5 281.6,148.1 279.0,148.5 276.7,149.1 276.4,149.3 275.4,151.7 273.8,153.3 272.0,154.3 271.2,154.7 268.5,155.4 265.9,155.9 264.0,157.0 263.3,157.5 261.4,159.6 260.7,160.0 258.1,160.9 255.4,161.0 253.4,159.6 252.8,158.9 250.2,158.4 248.5,159.6 248.7,162.2 250.2,164.6 250.3,164.8 250.2,165.1 249.2,167.4 247.6,168.7 244.9,169.0 243.3,167.4 242.3,166.8 239.7,167.0 239.1,167.4 238.8,170.1 239.7,171.1 242.3,172.3 242.5,172.7 242.7,175.3 242.3,175.7 239.7,176.8 237.5,175.3 237.1,174.7 234.5,173.2 232.0,172.7 231.8,172.7 229.2,171.9 226.6,170.4 225.9,172.7 225.1,175.3 224.0,175.5 221.4,175.4 218.7,175.5 216.1,176.9 214.9,177.9 214.1,180.6 214.8,183.2 216.1,185.5 216.3,185.8 217.2,188.4 216.1,189.3 213.5,190.0 211.6,191.0 210.9,191.6 209.7,193.7 209.4,196.3 210.9,198.7 211.3,198.9 213.5,199.6 216.0,198.9 216.1,198.9 218.4,196.3 218.7,195.7 220.6,193.7 221.4,192.2 224.0,193.0 224.3,193.7 225.4,196.3 226.6,197.2 229.2,198.3 231.8,198.9 231.9,198.9 234.5,199.5 237.1,200.5 238.6,201.5 239.7,202.5 242.3,203.6 244.9,203.6 247.6,203.4 250.2,203.6 251.5,204.1 252.8,204.9 255.4,206.2 257.3,206.8 258.1,207.0 260.7,207.6 263.3,208.3 265.8,209.4 265.9,209.5 267.3,212.0 265.9,214.5 265.8,214.6 263.3,215.7 260.7,216.4 258.1,217.0 257.3,217.2 255.4,217.8 252.8,219.1 251.5,219.9 250.2,220.4 247.6,220.6 244.9,220.4 242.3,220.4 239.7,221.5 238.6,222.5 237.1,223.5 234.5,224.5 231.9,225.1 231.8,225.1 229.2,225.7 226.6,226.8 225.4,227.7 224.3,230.3 224.0,231.0 221.4,231.8 220.6,230.3 218.7,228.3 218.4,227.7 216.1,225.1 216.0,225.1 213.5,224.4 211.3,225.1 210.9,225.3 209.4,227.7 209.7,230.3 210.9,232.4 211.6,233.0 213.5,234.0 216.1,234.7 217.2,235.6 216.3,238.2 216.1,238.5 214.8,240.8 214.1,243.4 214.9,246.1 216.1,247.1 218.7,248.5 221.4,248.6 224.0,248.5 225.1,248.7 225.9,251.3 226.6,253.6 229.2,252.1 231.8,251.3 232.0,251.3 234.5,250.8 237.1,249.3 237.5,248.7 239.7,247.2 242.3,248.3 242.7,248.7 242.5,251.3 242.3,251.7 239.7,252.9 238.8,253.9 239.1,256.6 239.7,257.0 242.3,257.2 243.3,256.6 244.9,255.0 247.6,255.3 249.2,256.6 250.2,258.9 250.3,259.2 250.2,259.4 248.7,261.8 248.5,264.4 250.2,265.6 252.8,265.1 253.4,264.4 255.4,263.0 258.1,263.1 260.7,264.0 261.4,264.4 263.3,266.5 264.0,267.0 265.9,268.1 268.5,268.6 271.2,269.3 272.0,269.7 273.8,270.7 275.4,272.3 276.4,274.7 276.7,274.9 279.0,275.5 281.6,275.9 283.7,277.5 284.3,278.8 284.6,280.1 285.1,282.8 286.9,285.0 288.6,285.4 289.5,285.6 290.4,285.4 292.1,285.0 293.9,282.8 294.4,280.1 294.7,278.8 295.3,277.5 297.4,275.9 300.0,275.5 302.3,274.9 302.6,274.7 303.6,272.3 305.2,270.7 307.0,269.7 307.8,269.3 310.5,268.6 313.1,268.1 315.0,267.0 315.7,266.5 317.6,264.4 318.3,264.0 320.9,263.1 323.6,263.0 325.6,264.4 326.2,265.1 328.8,265.6 330.5,264.4 330.3,261.8 328.8,259.4 328.7,259.2 328.8,258.9 329.8,256.6 331.4,255.3 334.1,255.0 335.7,256.6 336.7,257.2 339.3,257.0 339.9,256.6 340.2,253.9 339.3,252.9 336.7,251.7 336.5,251.3 336.3,248.7 336.7,248.3 339.3,247.2 341.5,248.7 341.9,249.3 344.5,250.8 347.0,251.3 347.2,251.3 349.8,252.1 352.4,253.6 353.1,251.3 353.9,248.7 355.0,248.5 357.6,248.6 360.3,248.5 362.9,247.1 364.1,246.1 364.9,243.4 364.2,240.8 362.9,238.5 362.7,238.2 361.8,235.6 362.9,234.7 365.5,234.0 367.4,233.0 368.1,232.4 369.3,230.3 369.6,227.7 368.1,225.3 367.7,225.1 365.5,224.4 363.0,225.1 362.9,225.1 360.6,227.7 360.3,228.3 358.4,230.3 357.6,231.8 355.0,231.0 354.7,230.3 353.6,227.7 352.4,226.8 349.8,225.7 347.2,225.1 347.1,225.1 344.5,224.5 341.9,223.5 340.4,222.5 339.3,221.5 336.7,220.4 334.1,220.4 331.4,220.6 328.8,220.4 327.5,219.9 326.2,219.1 323.6,217.8 321.7,217.2 320.9,217.0 318.3,216.4 315.7,215.7 313.2,214.6 313.1,214.5 311.7,212.0 313.1,209.5 313.2,209.4 315.7,208.3 318.3,207.6 320.9,207.0 321.7,206.8 323.6,206.2 326.2,204.9 327.5,204.1 328.8,203.6 331.4,203.4 334.1,203.6 336.7,203.6 339.3,202.5 340.4,201.5 341.9,200.5 344.5,199.5 347.1,198.9 347.2,198.9 349.8,198.3 352.4,197.2 353.6,196.3 354.7,193.7 355.0,193.0 357.6,192.2 358.4,193.7 360.3,195.7 360.6,196.3 362.9,198.9 363.0,198.9 365.5,199.6 367.7,198.9 368.1,198.7 369.6,196.3 369.3,193.7 368.1,191.6 367.4,191.0 365.5,190.0 362.9,189.3 361.8,188.4 362.7,185.8 362.9,185.5 364.2,183.2 364.9,180.6 364.1,177.9 362.9,176.9 360.3,175.5 357.6,175.4 355.0,175.5 353.9,175.3 353.1,172.7 352.4,170.4 349.8,171.9 347.2,172.7 347.0,172.7 344.5,173.2 341.9,174.7 341.5,175.3 339.3,176.8 336.7,175.7 336.3,175.3 336.5,172.7 336.7,172.3 339.3,171.1 340.2,170.1 339.9,167.4 339.3,167.0 336.7,166.8 335.7,167.4 334.1,169.0 331.4,168.7 329.8,167.4 328.8,165.1 328.7,164.8 328.8,164.6 330.3,162.2 330.5,159.6 328.8,158.4 326.2,158.9 325.6,159.6 323.6,161.0 320.9,160.9 318.3,160.0 317.6,159.6 315.7,157.5 315.0,157.0 313.1,155.9 310.5,155.4 307.8,154.7 307.0,154.3 305.2,153.3 303.6,151.7 302.6,149.3 302.3,149.1 300.0,148.5 297.4,148.1 295.3,146.5 294.7,145.2 294.4,143.9 293.9,141.2 292.1,139.0 290.4,138.6 289.5,138.4Z M260.7,269.7 258.1,271.7 257.9,272.3 258.1,272.6 260.7,274.1 263.1,272.3 260.7,269.7Z M320.9,271.7 318.3,269.7 315.9,272.3 318.3,274.1 320.9,272.6 321.1,272.3 320.9,271.7Z M289.5,219.9 289.5,220.2 289.5,219.9 289.5,219.9 289.5,219.9Z M289.5,204.1 289.5,204.1 289.5,204.1 289.5,203.8 289.5,204.1Z M260.7,149.9 258.1,151.4 257.9,151.7 258.1,152.3 260.7,154.3 263.1,151.7 260.7,149.9Z M320.9,151.4 318.3,149.9 315.9,151.7 318.3,154.3 320.9,152.3 321.1,151.7 320.9,151.4Z M279.0,135.7 276.4,135.4 273.8,134.8 271.2,135.5 270.6,136.0 268.5,138.4 268.4,138.6 266.7,141.2 266.5,143.9 267.6,146.5 268.5,147.0 271.2,147.6 273.8,147.7 275.1,146.5 275.7,143.9 276.4,141.2 276.4,141.1 278.2,138.6 279.0,136.9 280.0,136.0 279.0,135.7Z M307.8,135.5 305.2,134.8 302.6,135.4 300.0,135.7 299.0,136.0 300.0,136.9 300.8,138.6 302.6,141.1 302.6,141.2 303.3,143.9 303.9,146.5 305.2,147.7 307.8,147.6 310.5,147.0 311.4,146.5 312.5,143.9 312.3,141.2 310.6,138.6 310.5,138.4 308.4,136.0 307.8,135.5Z" stroke="#00ff00"/><path d="M271.2,279.8 270.6,280.1 271.0,282.8 271.2,283.0 271.6,282.8 271.8,280.1 271.2,279.8Z M289.5,141.2 289.5,141.2 286.9,143.9 286.9,143.9 286.5,146.5 286.1,149.1 284.3,150.4 281.6,151.2 279.9,151.7 279.0,152.2 276.6,154.3 276.4,154.5 273.8,156.1 271.2,156.8 270.5,157.0 268.5,157.6 265.9,159.0 265.2,159.6 263.3,160.8 260.8,162.2 260.7,162.3 258.1,163.2 255.4,164.3 254.8,164.8 253.1,167.4 252.8,167.9 251.2,170.1 250.2,170.9 247.6,172.7 247.6,172.7 245.9,175.3 244.9,177.3 244.5,177.9 242.3,179.0 239.7,179.9 238.3,180.6 237.1,181.2 234.5,181.6 232.9,180.6 233.5,177.9 231.8,176.9 230.8,177.9 229.2,178.6 226.6,179.3 224.0,178.7 221.5,177.9 221.4,177.9 218.7,177.4 217.7,177.9 216.1,179.7 215.8,180.6 216.1,181.6 217.1,183.2 218.7,185.1 219.3,185.8 221.4,187.8 223.0,188.4 224.0,188.7 226.6,189.1 228.9,191.0 228.6,193.7 229.1,196.3 229.2,196.3 231.8,197.1 234.5,197.4 237.1,197.7 238.7,198.9 239.7,199.4 242.3,201.1 243.7,201.5 244.9,201.7 247.6,201.8 250.2,202.1 252.8,203.0 254.5,204.1 255.4,204.7 258.1,205.8 260.7,206.5 261.9,206.8 263.3,207.1 265.9,207.9 268.4,209.4 268.5,209.7 269.9,212.0 268.5,214.3 268.4,214.6 265.9,216.1 263.3,216.9 261.9,217.2 260.7,217.5 258.1,218.2 255.4,219.3 254.5,219.9 252.8,221.0 250.2,221.9 247.6,222.2 244.9,222.3 243.7,222.5 242.3,222.9 239.7,224.6 238.7,225.1 237.1,226.3 234.5,226.6 231.8,226.9 229.2,227.7 229.1,227.7 228.6,230.3 228.9,233.0 226.6,234.9 224.0,235.3 223.0,235.6 221.4,236.2 219.3,238.2 218.7,238.9 217.1,240.8 216.1,242.4 215.8,243.4 216.1,244.3 217.7,246.1 218.7,246.6 221.4,246.1 221.5,246.1 224.0,245.3 226.6,244.7 229.2,245.4 230.8,246.1 231.8,247.1 233.5,246.1 232.9,243.4 234.5,242.4 237.1,242.8 238.3,243.4 239.7,244.1 242.3,245.0 244.5,246.1 244.9,246.7 245.9,248.7 247.6,251.3 247.6,251.3 250.2,253.1 251.2,253.9 252.8,256.1 253.1,256.6 254.8,259.2 255.4,259.7 258.1,260.8 260.7,261.7 260.8,261.8 263.3,263.2 265.2,264.4 265.9,265.0 268.5,266.4 270.5,267.0 271.2,267.2 273.8,267.9 276.4,269.5 276.6,269.7 279.0,271.8 279.9,272.3 281.6,272.8 284.3,273.6 286.1,274.9 286.5,277.5 286.9,280.1 286.9,280.1 289.5,282.8 289.5,282.8 289.5,282.8 292.1,280.1 292.1,280.1 292.5,277.5 292.9,274.9 294.7,273.6 297.4,272.8 299.1,272.3 300.0,271.8 302.4,269.7 302.6,269.5 305.2,267.9 307.8,267.2 308.5,267.0 310.5,266.4 313.1,265.0 313.8,264.4 315.7,263.2 318.2,261.8 318.3,261.7 320.9,260.8 323.6,259.7 324.2,259.2 325.9,256.6 326.2,256.1 327.8,253.9 328.8,253.1 331.4,251.3 331.4,251.3 333.1,248.7 334.1,246.7 334.5,246.1 336.7,245.0 339.3,244.1 340.7,243.4 341.9,242.8 344.5,242.4 346.1,243.4 345.5,246.1 347.2,247.1 348.2,246.1 349.8,245.4 352.4,244.7 355.0,245.3 357.5,246.1 357.6,246.1 360.3,246.6 361.3,246.1 362.9,244.3 363.2,243.4 362.9,242.4 361.9,240.8 360.3,238.9 359.7,238.2 357.6,236.2 356.0,235.6 355.0,235.3 352.4,234.9 350.1,233.0 350.4,230.3 349.9,227.7 349.8,227.7 347.2,226.9 344.5,226.6 341.9,226.3 340.3,225.1 339.3,224.6 336.7,222.9 335.3,222.5 334.1,222.3 331.4,222.2 328.8,221.9 326.2,221.0 324.5,219.9 323.6,219.3 320.9,218.2 318.3,217.5 317.1,217.2 315.7,216.9 313.1,216.1 310.6,214.6 310.5,214.3 309.1,212.0 310.5,209.7 310.6,209.4 313.1,207.9 315.7,207.1 317.1,206.8 318.3,206.5 320.9,205.8 323.6,204.7 324.5,204.1 326.2,203.0 328.8,202.1 331.4,201.8 334.1,201.7 335.3,201.5 336.7,201.1 339.3,199.4 340.3,198.9 341.9,197.7 344.5,197.4 347.2,197.1 349.8,196.3 349.9,196.3 350.4,193.7 350.1,191.0 352.4,189.1 355.0,188.7 356.0,188.4 357.6,187.8 359.7,185.8 360.3,185.1 361.9,183.2 362.9,181.6 363.2,180.6 362.9,179.7 361.3,177.9 360.3,177.4 357.6,177.9 357.5,177.9 355.0,178.7 352.4,179.3 349.8,178.6 348.2,177.9 347.2,176.9 345.5,177.9 346.1,180.6 344.5,181.6 341.9,181.2 340.7,180.6 339.3,179.9 336.7,179.0 334.5,177.9 334.1,177.3 333.1,175.3 331.4,172.7 331.4,172.7 328.8,170.9 327.8,170.1 326.2,167.9 325.9,167.4 324.2,164.8 323.6,164.3 320.9,163.2 318.3,162.3 318.2,162.2 315.7,160.8 313.8,159.6 313.1,159.0 310.5,157.6 308.5,157.0 307.8,156.8 305.2,156.1 302.6,154.5 302.4,154.3 300.0,152.2 299.1,151.7 297.4,151.2 294.7,150.4 292.9,149.1 292.5,146.5 292.1,143.9 292.1,143.9 289.5,141.2 289.5,141.2Z M307.8,279.8 307.2,280.1 307.4,282.8 307.8,283.0 308.0,282.8 308.4,280.1 307.8,279.8Z M266.0,240.8 265.9,240.9 265.8,240.8 265.9,240.7 266.0,240.8Z M313.2,240.8 313.1,240.9 313.0,240.8 313.1,240.7 313.2,240.8Z M216.1,230.1 213.5,229.6 213.2,230.3 213.5,230.5 216.1,230.5 216.3,230.3 216.1,230.1Z M365.5,229.6 362.9,230.1 362.7,230.3 362.9,230.5 365.5,230.5 365.8,230.3 365.5,229.6Z M294.2,219.9 294.3,222.5 292.1,224.2 289.5,224.4 286.9,224.2 284.7,222.5 284.8,219.9 286.9,218.7 289.5,218.2 292.1,218.7 294.2,219.9Z M294.3,201.5 294.2,204.1 292.1,205.3 289.5,205.8 286.9,205.3 284.8,204.1 284.7,201.5 286.9,199.8 289.5,199.6 292.1,199.8 294.3,201.5Z M216.1,193.5 213.5,193.5 213.2,193.7 213.5,194.4 216.1,193.9 216.3,193.7 216.1,193.5Z M365.5,193.5 362.9,193.5 362.7,193.7 362.9,193.9 365.5,194.4 365.8,193.7 365.5,193.5Z M266.0,183.2 265.9,183.3 265.8,183.2 265.9,183.1 266.0,183.2Z M313.2,183.2 313.1,183.3 313.0,183.2 313.1,183.1 313.2,183.2Z M271.2,141.0 271.0,141.2 270.6,143.9 271.2,144.2 271.8,143.9 271.6,141.2 271.2,141.0Z M307.8,141.0 307.4,141.2 307.2,143.9 307.8,144.2 308.4,143.9 308.0,141.2 307.8,141.0Z" stroke="#00ff20"/><path d="M292.1,150.9 289.5,149.8 286.9,150.9 285.8,151.7 284.3,152.7 281.7,154.3 281.6,154.4 279.0,156.6 278.5,157.0 276.4,157.9 273.8,158.8 271.2,159.4 270.5,159.6 268.5,160.2 265.9,161.5 264.8,162.2 263.3,162.9 260.7,164.1 259.0,164.8 258.1,165.7 256.2,167.4 255.4,169.5 255.1,170.1 252.8,172.5 252.6,172.7 250.2,174.0 248.9,175.3 247.6,177.8 247.5,177.9 244.9,180.5 244.7,180.6 242.3,181.6 240.0,183.2 239.7,183.3 237.1,184.2 234.5,185.4 233.9,185.8 232.4,188.4 232.7,191.0 234.5,193.1 236.9,193.7 237.1,193.7 239.7,194.4 242.3,195.7 243.1,196.3 244.7,198.9 244.9,199.0 247.6,199.7 250.2,200.2 252.8,201.1 253.4,201.5 255.4,202.7 257.0,204.1 258.1,204.6 260.7,205.3 263.3,205.7 265.9,206.0 267.9,206.8 268.5,207.0 271.2,208.7 272.1,209.4 273.8,210.6 276.4,211.3 277.9,212.0 276.4,212.7 273.8,213.4 272.1,214.6 271.2,215.3 268.5,217.0 267.9,217.2 265.9,218.0 263.3,218.3 260.7,218.7 258.1,219.4 257.0,219.9 255.4,221.3 253.4,222.5 252.8,222.9 250.2,223.8 247.6,224.3 244.9,225.0 244.7,225.1 243.1,227.7 242.3,228.3 239.7,229.6 237.1,230.3 236.9,230.3 234.5,230.9 232.7,233.0 232.4,235.6 233.9,238.2 234.5,238.6 237.1,239.8 239.7,240.7 240.0,240.8 242.3,242.4 244.7,243.4 244.9,243.5 247.5,246.1 247.6,246.2 248.9,248.7 250.2,250.0 252.6,251.3 252.8,251.5 255.1,253.9 255.4,254.5 256.2,256.6 258.1,258.3 259.0,259.2 260.7,259.9 263.3,261.1 264.8,261.8 265.9,262.5 268.5,263.8 270.5,264.4 271.2,264.6 273.8,265.2 276.4,266.1 278.5,267.0 279.0,267.4 281.6,269.6 281.7,269.7 284.3,271.3 285.8,272.3 286.9,273.1 289.5,274.2 292.1,273.1 293.2,272.3 294.7,271.3 297.3,269.7 297.4,269.6 300.0,267.4 300.5,267.0 302.6,266.1 305.2,265.2 307.8,264.6 308.5,264.4 310.5,263.8 313.1,262.5 314.2,261.8 315.7,261.1 318.3,259.9 320.0,259.2 320.9,258.3 322.8,256.6 323.6,254.5 323.9,253.9 326.2,251.5 326.4,251.3 328.8,250.0 330.1,248.7 331.4,246.2 331.5,246.1 334.1,243.5 334.3,243.4 336.7,242.4 339.0,240.8 339.3,240.7 341.9,239.8 344.5,238.6 345.1,238.2 346.6,235.6 346.3,233.0 344.5,230.9 342.1,230.3 341.9,230.3 339.3,229.6 336.7,228.3 335.9,227.7 334.3,225.1 334.1,225.0 331.4,224.3 328.8,223.8 326.2,222.9 325.6,222.5 323.6,221.3 322.0,219.9 320.9,219.4 318.3,218.7 315.7,218.3 313.1,218.0 311.1,217.2 310.5,217.0 307.8,215.3 306.9,214.6 305.2,213.4 302.6,212.7 301.1,212.0 302.6,211.3 305.2,210.6 306.9,209.4 307.8,208.7 310.5,207.0 311.1,206.8 313.1,206.0 315.7,205.7 318.3,205.3 320.9,204.6 322.0,204.1 323.6,202.7 325.6,201.5 326.2,201.1 328.8,200.2 331.4,199.7 334.1,199.0 334.3,198.9 335.9,196.3 336.7,195.7 339.3,194.4 341.9,193.7 342.1,193.7 344.5,193.1 346.3,191.0 346.6,188.4 345.1,185.8 344.5,185.4 341.9,184.2 339.3,183.3 339.0,183.2 336.7,181.6 334.3,180.6 334.1,180.5 331.5,177.9 331.4,177.8 330.1,175.3 328.8,174.0 326.4,172.7 326.2,172.5 323.9,170.1 323.6,169.5 322.8,167.4 320.9,165.7 320.0,164.8 318.3,164.1 315.7,162.9 314.2,162.2 313.1,161.5 310.5,160.2 308.5,159.6 307.8,159.4 305.2,158.8 302.6,157.9 300.5,157.0 300.0,156.6 297.4,154.4 297.3,154.3 294.7,152.7 293.2,151.7 292.1,150.9Z M261.1,248.7 260.7,249.4 259.0,251.3 258.1,252.0 256.2,251.3 255.8,248.7 258.1,246.6 260.7,247.7 261.1,248.7Z M323.2,248.7 322.8,251.3 320.9,252.0 320.0,251.3 318.3,249.4 317.9,248.7 318.3,247.7 320.9,246.6 323.2,248.7Z M278.1,246.1 277.3,248.7 276.4,249.9 274.6,248.7 275.3,246.1 276.4,244.2 278.1,246.1Z M303.7,246.1 304.4,248.7 302.6,249.9 301.7,248.7 300.9,246.1 302.6,244.2 303.7,246.1Z M268.6,238.2 268.5,238.3 267.8,240.8 266.0,243.4 265.9,243.5 263.3,244.4 262.3,243.4 262.4,240.8 263.3,240.0 265.2,238.2 265.9,237.5 268.5,238.1 268.6,238.2Z M313.8,238.2 315.7,240.0 316.6,240.8 316.7,243.4 315.7,244.4 313.1,243.5 313.0,243.4 311.2,240.8 310.5,238.3 310.4,238.2 310.5,238.1 313.1,237.5 313.8,238.2Z M224.0,238.4 221.4,240.0 220.6,240.8 221.4,242.6 224.0,241.7 225.8,240.8 224.0,238.4Z M357.6,240.0 355.0,238.4 353.2,240.8 355.0,241.7 357.6,242.6 358.4,240.8 357.6,240.0Z M281.7,233.0 282.2,235.6 281.6,237.2 280.0,235.6 281.6,233.0 281.6,232.9 281.7,233.0Z M297.4,233.0 299.0,235.6 297.4,237.2 296.8,235.6 297.3,233.0 297.4,232.9 297.4,233.0Z M274.9,230.3 273.8,233.0 273.8,233.0 271.2,234.0 270.7,233.0 271.2,232.5 272.9,230.3 273.8,229.6 274.9,230.3Z M306.1,230.3 307.8,232.5 308.3,233.0 307.8,234.0 305.2,233.0 305.2,233.0 304.1,230.3 305.2,229.6 306.1,230.3Z M292.9,217.2 294.7,218.1 296.1,219.9 296.9,222.5 297.0,225.1 294.7,226.7 292.1,226.7 289.5,226.7 286.9,226.7 284.3,226.7 282.0,225.1 282.1,222.5 282.9,219.9 284.3,218.1 286.1,217.2 286.9,217.1 289.5,216.9 292.1,217.1 292.9,217.2Z M297.0,198.9 296.9,201.5 296.1,204.1 294.7,205.9 292.9,206.8 292.1,206.9 289.5,207.1 286.9,206.9 286.1,206.8 284.3,205.9 282.9,204.1 282.1,201.5 282.0,198.9 284.3,197.3 286.9,197.3 289.5,197.3 292.1,197.3 294.7,197.3 297.0,198.9Z M273.8,191.0 274.9,193.7 273.8,194.4 272.9,193.7 271.2,191.5 270.7,191.0 271.2,190.0 273.8,191.0 273.8,191.0Z M308.3,191.0 307.8,191.5 306.1,193.7 305.2,194.4 304.1,193.7 305.2,191.0 305.2,191.0 307.8,190.0 308.3,191.0Z M282.2,188.4 281.7,191.0 281.6,191.1 281.6,191.0 280.0,188.4 281.6,186.8 282.2,188.4Z M299.0,188.4 297.4,191.0 297.4,191.1 297.3,191.0 296.8,188.4 297.4,186.8 299.0,188.4Z M266.0,180.6 267.8,183.2 268.5,185.7 268.6,185.8 268.5,185.9 265.9,186.5 265.2,185.8 263.3,184.0 262.4,183.2 262.3,180.6 263.3,179.6 265.9,180.5 266.0,180.6Z M316.7,180.6 316.6,183.2 315.7,184.0 313.8,185.8 313.1,186.5 310.5,185.9 310.4,185.8 310.5,185.7 311.2,183.2 313.0,180.6 313.1,180.5 315.7,179.6 316.7,180.6Z M224.0,182.3 221.4,181.4 220.6,183.2 221.4,184.0 224.0,185.6 225.8,183.2 224.0,182.3Z M357.6,181.4 355.0,182.3 353.2,183.2 355.0,185.6 357.6,184.0 358.4,183.2 357.6,181.4Z M277.3,175.3 278.1,177.9 276.4,179.8 275.3,177.9 274.6,175.3 276.4,174.1 277.3,175.3Z M304.4,175.3 303.7,177.9 302.6,179.8 300.9,177.9 301.7,175.3 302.6,174.1 304.4,175.3Z M259.0,172.7 260.7,174.6 261.1,175.3 260.7,176.3 258.1,177.4 255.8,175.3 256.2,172.7 258.1,172.0 259.0,172.7Z M322.8,172.7 323.2,175.3 320.9,177.4 318.3,176.3 317.9,175.3 318.3,174.6 320.0,172.7 320.9,172.0 322.8,172.7Z" stroke="#00ff7f"/><path d="M300.0,226.4 298.9,227.7 297.9,230.3 298.9,233.0 300.0,234.4 300.7,235.6 301.8,238.2 302.6,240.4 302.9,240.8 303.9,243.4 305.2,245.7 305.4,246.1 306.8,248.7 307.3,251.3 305.2,252.7 302.6,252.0 301.9,251.3 300.0,248.7 300.0,248.6 299.2,246.1 298.9,243.4 298.3,240.8 297.4,240.0 296.8,238.2 296.0,235.6 295.5,233.0 295.3,230.3 294.7,230.2 292.1,229.2 289.5,229.6 286.9,229.2 284.3,230.2 283.7,230.3 283.5,233.0 283.0,235.6 282.2,238.2 281.6,240.0 280.7,240.8 280.1,243.4 279.8,246.1 279.0,248.6 279.0,248.7 277.1,251.3 276.4,252.0 273.8,252.7 271.7,251.3 272.2,248.7 273.6,246.1 273.8,245.7 275.1,243.4 276.1,240.8 276.4,240.4 277.2,238.2 278.3,235.6 279.0,234.4 280.1,233.0 281.1,230.3 280.1,227.7 279.0,226.4 277.4,227.7 276.9,230.3 276.4,230.6 274.8,233.0 273.8,234.8 272.7,235.6 271.4,238.2 271.2,238.4 269.7,240.8 268.5,242.0 267.5,243.4 265.9,246.1 265.9,246.1 264.4,248.7 263.3,249.5 262.1,251.3 260.7,253.0 259.6,253.9 259.5,256.6 260.7,257.5 262.7,259.2 263.3,259.5 265.9,260.6 268.5,261.3 271.2,261.6 271.4,261.8 273.8,262.7 276.4,264.0 277.5,264.4 279.0,265.3 281.6,266.7 282.1,267.0 284.3,269.1 284.8,269.7 286.9,271.3 289.5,272.2 292.1,271.3 294.2,269.7 294.7,269.1 296.9,267.0 297.4,266.7 300.0,265.3 301.5,264.4 302.6,264.0 305.2,262.7 307.6,261.8 307.8,261.6 310.5,261.3 313.1,260.6 315.7,259.5 316.3,259.2 318.3,257.5 319.5,256.6 319.4,253.9 318.3,253.0 316.9,251.3 315.7,249.5 314.6,248.7 313.1,246.1 313.1,246.1 311.5,243.4 310.5,242.0 309.3,240.8 307.8,238.4 307.6,238.2 306.3,235.6 305.2,234.8 304.2,233.0 302.6,230.6 302.1,230.3 301.6,227.7 300.0,226.4Z M328.8,177.3 326.2,175.9 323.9,177.9 323.6,178.3 321.3,180.6 320.9,181.1 318.8,183.2 318.3,183.3 315.8,185.8 315.7,185.9 313.1,188.4 313.0,188.4 310.5,190.6 310.2,191.0 307.8,193.1 307.4,193.7 305.2,195.6 303.1,196.3 302.6,196.6 300.5,198.9 300.0,200.1 299.3,201.5 298.1,204.1 297.4,206.6 297.3,206.8 294.7,207.9 292.1,207.9 289.5,207.8 286.9,207.9 284.3,207.9 281.7,206.8 281.6,206.6 280.9,204.1 279.7,201.5 279.0,200.1 278.5,198.9 276.4,196.6 275.9,196.3 273.8,195.6 271.6,193.7 271.2,193.1 268.8,191.0 268.5,190.6 266.0,188.4 265.9,188.4 263.3,185.9 263.2,185.8 260.7,183.3 260.2,183.2 258.1,181.1 257.7,180.6 255.4,178.3 255.1,177.9 252.8,175.9 250.2,177.3 249.8,177.9 248.9,180.6 249.3,183.2 250.2,183.7 252.6,185.8 251.0,188.4 250.2,189.0 247.6,189.2 246.3,188.4 244.9,186.7 243.2,185.8 242.3,185.4 239.7,185.5 238.7,185.8 237.1,186.5 235.4,188.4 236.5,191.0 237.1,191.4 239.7,192.3 242.3,193.3 243.1,193.7 244.9,195.0 246.4,196.3 247.6,197.2 250.2,198.0 252.8,198.2 255.4,198.1 258.1,196.8 259.2,198.9 258.1,200.2 257.5,201.5 258.1,202.0 260.4,204.1 260.7,204.2 263.3,204.3 264.0,204.1 265.9,202.4 268.5,202.0 271.2,203.0 272.7,204.1 273.8,205.8 275.5,206.8 276.4,207.2 279.0,208.2 281.0,209.4 281.6,211.1 281.7,212.0 281.6,212.9 281.0,214.6 279.0,215.8 276.4,216.8 275.5,217.2 273.8,218.2 272.7,219.9 271.2,221.0 268.5,222.0 265.9,221.6 264.0,219.9 263.3,219.7 260.7,219.8 260.4,219.9 258.1,222.0 257.5,222.5 258.1,223.8 259.2,225.1 258.1,227.2 255.4,225.9 252.8,225.8 250.2,226.0 247.6,226.8 246.4,227.7 244.9,229.0 243.1,230.3 242.3,230.7 239.7,231.7 237.1,232.6 236.5,233.0 235.4,235.6 237.1,237.5 238.7,238.2 239.7,238.5 242.3,238.6 243.2,238.2 244.9,237.3 246.3,235.6 247.6,234.8 250.2,235.0 251.0,235.6 252.6,238.2 250.2,240.3 249.3,240.8 248.9,243.4 249.8,246.1 250.2,246.7 252.8,248.1 255.1,246.1 255.4,245.7 257.7,243.4 258.1,242.9 260.2,240.8 260.7,240.7 263.2,238.2 263.3,238.1 265.9,235.6 266.0,235.6 268.5,233.4 268.8,233.0 271.2,230.9 271.6,230.3 273.8,228.4 275.9,227.7 276.4,227.4 278.5,225.1 279.0,223.9 279.7,222.5 280.9,219.9 281.6,217.4 281.7,217.2 284.3,216.1 286.9,216.1 289.5,216.2 292.1,216.1 294.7,216.1 297.3,217.2 297.4,217.4 298.1,219.9 299.3,222.5 300.0,223.9 300.5,225.1 302.6,227.4 303.1,227.7 305.2,228.4 307.4,230.3 307.8,230.9 310.2,233.0 310.5,233.4 313.0,235.6 313.1,235.6 315.7,238.1 315.8,238.2 318.3,240.7 318.8,240.8 320.9,242.9 321.3,243.4 323.6,245.7 323.9,246.1 326.2,248.1 328.8,246.7 329.2,246.1 330.1,243.4 329.7,240.8 328.8,240.3 326.4,238.2 328.0,235.6 328.8,235.0 331.4,234.8 332.7,235.6 334.1,237.3 335.8,238.2 336.7,238.6 339.3,238.5 340.3,238.2 341.9,237.5 343.6,235.6 342.5,233.0 341.9,232.6 339.3,231.7 336.7,230.7 335.9,230.3 334.1,229.0 332.6,227.7 331.4,226.8 328.8,226.0 326.2,225.8 323.6,225.9 320.9,227.2 319.8,225.1 320.9,223.8 321.5,222.5 320.9,222.0 318.6,219.9 318.3,219.8 315.7,219.7 315.0,219.9 313.1,221.6 310.5,222.0 307.8,221.0 306.3,219.9 305.2,218.2 303.5,217.2 302.6,216.8 300.0,215.8 298.0,214.6 297.4,212.9 297.3,212.0 297.4,211.1 298.0,209.4 300.0,208.2 302.6,207.2 303.5,206.8 305.2,205.8 306.3,204.1 307.8,203.0 310.5,202.0 313.1,202.4 315.0,204.1 315.7,204.3 318.3,204.2 318.6,204.1 320.9,202.0 321.5,201.5 320.9,200.2 319.8,198.9 320.9,196.8 323.6,198.1 326.2,198.2 328.8,198.0 331.4,197.2 332.6,196.3 334.1,195.0 335.9,193.7 336.7,193.3 339.3,192.3 341.9,191.4 342.5,191.0 343.6,188.4 341.9,186.5 340.3,185.8 339.3,185.5 336.7,185.4 335.8,185.8 334.1,186.7 332.7,188.4 331.4,189.2 328.8,189.0 328.0,188.4 326.4,185.8 328.8,183.7 329.7,183.2 330.1,180.6 329.2,177.9 328.8,177.3Z M290.2,235.6 289.9,238.2 289.5,238.8 289.1,238.2 288.8,235.6 289.5,233.6 290.2,235.6Z M258.4,230.3 258.1,230.6 257.5,230.3 258.1,228.8 258.4,230.3Z M321.5,230.3 320.9,230.6 320.6,230.3 320.9,228.8 321.5,230.3Z M292.1,152.7 289.5,151.8 286.9,152.7 284.8,154.3 284.3,154.9 282.1,157.0 281.6,157.3 279.0,158.7 277.5,159.6 276.4,160.0 273.8,161.3 271.4,162.2 271.2,162.4 268.5,162.7 265.9,163.4 263.3,164.5 262.7,164.8 260.7,166.5 259.5,167.4 259.6,170.1 260.7,171.0 262.1,172.7 263.3,174.5 264.4,175.3 265.9,177.9 265.9,177.9 267.5,180.6 268.5,182.0 269.7,183.2 271.2,185.6 271.4,185.8 272.7,188.4 273.8,189.2 274.8,191.0 276.4,193.4 276.9,193.7 277.4,196.3 279.0,197.6 280.1,196.3 281.1,193.7 280.1,191.0 279.0,189.6 278.3,188.4 277.2,185.8 276.4,183.6 276.1,183.2 275.1,180.6 273.8,178.3 273.6,177.9 272.2,175.3 271.7,172.7 273.8,171.3 276.4,172.0 277.1,172.7 279.0,175.3 279.0,175.4 279.8,177.9 280.1,180.6 280.7,183.2 281.6,184.0 282.2,185.8 283.0,188.4 283.5,191.0 283.7,193.7 284.3,193.8 286.9,194.8 289.5,194.4 292.1,194.8 294.7,193.8 295.3,193.7 295.5,191.0 296.0,188.4 296.8,185.8 297.4,184.0 298.3,183.2 298.9,180.6 299.2,177.9 300.0,175.4 300.0,175.3 301.9,172.7 302.6,172.0 305.2,171.3 307.3,172.7 306.8,175.3 305.4,177.9 305.2,178.3 303.9,180.6 302.9,183.2 302.6,183.6 301.8,185.8 300.7,188.4 300.0,189.6 298.9,191.0 297.9,193.7 298.9,196.3 300.0,197.6 301.6,196.3 302.1,193.7 302.6,193.4 304.2,191.0 305.2,189.2 306.3,188.4 307.6,185.8 307.8,185.6 309.3,183.2 310.5,182.0 311.5,180.6 313.1,177.9 313.1,177.9 314.6,175.3 315.7,174.5 316.9,172.7 318.3,171.0 319.4,170.1 319.5,167.4 318.3,166.5 316.3,164.8 315.7,164.5 313.1,163.4 310.5,162.7 307.8,162.4 307.6,162.2 305.2,161.3 302.6,160.0 301.5,159.6 300.0,158.7 297.4,157.3 296.9,157.0 294.7,154.9 294.2,154.3 292.1,152.7Z M258.4,193.7 258.1,195.2 257.5,193.7 258.1,193.4 258.4,193.7Z M321.5,193.7 320.9,195.2 320.6,193.7 320.9,193.4 321.5,193.7Z M289.9,185.8 290.2,188.4 289.5,190.4 288.8,188.4 289.1,185.8 289.5,185.2 289.9,185.8Z" stroke="#00ffdf"/><path d="M294.7,234.3 292.1,233.4 291.5,235.6 291.3,238.2 289.5,240.6 287.7,238.2 287.5,235.6 286.9,233.4 284.3,234.3 283.8,235.6 283.2,238.2 283.0,240.8 282.2,243.4 281.6,244.1 280.9,246.1 280.0,248.7 279.1,251.3 279.0,251.4 276.4,253.9 276.2,253.9 273.9,256.6 273.8,257.8 273.2,259.2 273.8,259.5 275.2,261.8 276.4,262.5 279.0,263.8 280.5,264.4 281.6,265.1 284.2,267.0 284.3,267.1 286.7,269.7 286.9,269.8 289.5,270.9 292.1,269.8 292.3,269.7 294.7,267.1 294.8,267.0 297.4,265.1 298.5,264.4 300.0,263.8 302.6,262.5 303.8,261.8 305.2,259.5 305.8,259.2 305.2,257.8 305.1,256.6 302.8,253.9 302.6,253.9 300.0,251.4 299.9,251.3 299.0,248.7 298.1,246.1 297.4,244.1 296.8,243.4 296.0,240.8 295.8,238.2 295.2,235.6 294.7,234.3Z M268.5,253.2 265.9,251.5 263.3,252.7 262.3,253.9 262.1,256.6 263.3,257.6 265.9,258.9 267.8,259.2 268.5,259.3 268.9,259.2 270.1,256.6 269.0,253.9 268.5,253.2Z M315.7,252.7 313.1,251.5 310.5,253.2 310.0,253.9 308.9,256.6 310.1,259.2 310.5,259.3 311.2,259.2 313.1,258.9 315.7,257.6 316.9,256.6 316.7,253.9 315.7,252.7Z M271.2,241.3 269.2,243.4 268.5,244.9 268.0,246.1 268.5,247.2 271.2,247.5 272.0,246.1 273.2,243.4 271.2,241.3Z M307.8,241.3 305.8,243.4 307.0,246.1 307.8,247.5 310.5,247.2 311.0,246.1 310.5,244.9 309.8,243.4 307.8,241.3Z M263.3,232.9 263.2,233.0 260.7,233.1 258.2,235.6 259.1,238.2 260.7,238.7 261.2,238.2 263.3,236.1 263.9,235.6 263.3,233.0 263.3,232.9Z M315.7,232.9 315.7,233.0 315.1,235.6 315.7,236.1 317.8,238.2 318.3,238.7 319.9,238.2 320.8,235.6 318.3,233.1 315.8,233.0 315.7,232.9Z M239.7,235.0 239.3,235.6 239.7,235.8 242.2,235.6 239.7,235.0Z M276.4,232.1 275.8,233.0 275.1,235.6 276.4,236.9 277.1,235.6 278.1,233.0 276.4,232.1Z M302.6,232.1 300.9,233.0 301.9,235.6 302.6,236.9 303.9,235.6 303.2,233.0 302.6,232.1Z M339.3,235.0 336.8,235.6 339.3,235.8 339.7,235.6 339.3,235.0Z M244.9,232.7 242.3,232.8 241.9,233.0 242.3,235.4 244.9,233.2 245.5,233.0 244.9,232.7Z M336.7,232.8 334.1,232.7 333.5,233.0 334.1,233.2 336.7,235.4 337.1,233.0 336.7,232.8Z M250.2,228.9 247.6,229.8 246.9,230.3 247.6,231.4 250.2,231.4 252.4,230.3 250.2,228.9Z M276.4,220.2 273.8,221.4 272.2,222.5 271.2,223.3 269.2,225.1 268.5,225.6 265.9,226.8 264.4,227.7 263.9,230.3 265.9,231.3 268.5,231.5 269.9,230.3 271.2,229.5 273.2,227.7 273.8,226.8 276.2,225.1 276.4,224.4 277.0,222.5 276.4,220.2Z M305.2,221.4 302.6,220.2 302.0,222.5 302.6,224.4 302.8,225.1 305.2,226.8 305.8,227.7 307.8,229.5 309.1,230.3 310.5,231.5 313.1,231.3 315.1,230.3 314.6,227.7 313.1,226.8 310.5,225.6 309.8,225.1 307.8,223.3 306.8,222.5 305.2,221.4Z M331.4,229.8 328.8,228.9 326.6,230.3 328.8,231.4 331.4,231.4 332.1,230.3 331.4,229.8Z M292.1,208.8 289.5,208.6 286.9,208.8 285.0,209.4 284.3,210.0 283.2,212.0 284.3,214.0 285.0,214.6 286.9,215.2 289.5,215.4 292.1,215.2 294.0,214.6 294.7,214.0 295.8,212.0 294.7,210.0 294.0,209.4 292.1,208.8Z M268.5,192.5 265.9,192.7 263.9,193.7 264.4,196.3 265.9,197.2 268.5,198.4 269.2,198.9 271.2,200.7 272.2,201.5 273.8,202.6 276.4,203.8 277.0,201.5 276.4,199.6 276.2,198.9 273.8,197.2 273.2,196.3 271.2,194.5 269.9,193.7 268.5,192.5Z M313.1,192.7 310.5,192.5 309.1,193.7 307.8,194.5 305.8,196.3 305.2,197.2 302.8,198.9 302.6,199.6 302.0,201.5 302.6,203.8 305.2,202.6 306.8,201.5 307.8,200.7 309.8,198.9 310.5,198.4 313.1,197.2 314.6,196.3 315.1,193.7 313.1,192.7Z M250.2,192.6 247.6,192.6 246.9,193.7 247.6,194.2 250.2,195.1 252.4,193.7 250.2,192.6Z M331.4,192.6 328.8,192.6 326.6,193.7 328.8,195.1 331.4,194.2 332.1,193.7 331.4,192.6Z M244.9,190.8 242.3,188.6 241.9,191.0 242.3,191.2 244.9,191.3 245.5,191.0 244.9,190.8Z M260.7,185.3 259.1,185.8 258.2,188.4 260.7,190.9 263.2,191.0 263.3,191.1 263.3,191.0 263.9,188.4 263.3,187.9 261.2,185.8 260.7,185.3Z M276.4,187.1 275.1,188.4 275.8,191.0 276.4,191.9 278.1,191.0 277.1,188.4 276.4,187.1Z M302.6,187.1 301.9,188.4 300.9,191.0 302.6,191.9 303.2,191.0 303.9,188.4 302.6,187.1Z M318.3,185.3 317.8,185.8 315.7,187.9 315.1,188.4 315.7,191.0 315.7,191.1 315.8,191.0 318.3,190.9 320.8,188.4 319.9,185.8 318.3,185.3Z M336.7,188.6 334.1,190.8 333.5,191.0 334.1,191.3 336.7,191.2 337.1,191.0 336.7,188.6Z M239.7,188.2 239.3,188.4 239.7,189.0 242.2,188.4 239.7,188.2Z M292.1,154.2 289.5,153.1 286.9,154.2 286.7,154.3 284.3,156.9 284.2,157.0 281.6,158.9 280.5,159.6 279.0,160.2 276.4,161.5 275.2,162.2 273.8,164.5 273.2,164.8 273.8,166.2 273.9,167.4 276.2,170.1 276.4,170.1 279.0,172.6 279.1,172.7 280.0,175.3 280.9,177.9 281.6,179.9 282.2,180.6 283.0,183.2 283.2,185.8 283.8,188.4 284.3,189.7 286.9,190.6 287.5,188.4 287.7,185.8 289.5,183.4 291.3,185.8 291.5,188.4 292.1,190.6 294.7,189.7 295.2,188.4 295.8,185.8 296.0,183.2 296.8,180.6 297.4,179.9 298.1,177.9 299.0,175.3 299.9,172.7 300.0,172.6 302.6,170.1 302.8,170.1 305.1,167.4 305.2,166.2 305.8,164.8 305.2,164.5 303.8,162.2 302.6,161.5 300.0,160.2 298.5,159.6 297.4,158.9 294.8,157.0 294.7,156.9 292.3,154.3 292.1,154.2Z M339.3,188.2 336.8,188.4 339.3,189.0 339.7,188.4 339.3,188.2Z M271.2,176.5 268.5,176.8 268.0,177.9 268.5,179.1 269.2,180.6 271.2,182.7 273.2,180.6 272.0,177.9 271.2,176.5Z M310.5,176.8 307.8,176.5 307.0,177.9 305.8,180.6 307.8,182.7 309.8,180.6 310.5,179.1 311.0,177.9 310.5,176.8Z M268.5,164.7 267.8,164.8 265.9,165.1 263.3,166.4 262.1,167.4 262.3,170.1 263.3,171.3 265.9,172.5 268.5,170.8 269.0,170.1 270.1,167.4 268.9,164.8 268.5,164.7Z M310.5,164.7 310.1,164.8 308.9,167.4 310.0,170.1 310.5,170.8 313.1,172.5 315.7,171.3 316.7,170.1 316.9,167.4 315.7,166.4 313.1,165.1 311.2,164.8 310.5,164.7Z" stroke="#00c6ff"/><path d="M292.1,242.2 289.5,242.7 286.9,242.2 285.4,243.4 284.3,243.9 282.3,246.1 281.6,246.8 281.0,248.7 280.4,251.3 279.0,253.4 278.5,253.9 276.4,255.7 275.6,256.6 275.3,259.2 276.4,260.7 277.3,261.8 279.0,262.8 281.6,263.8 282.9,264.4 284.3,265.5 285.6,267.0 286.9,268.3 289.5,269.6 292.1,268.3 293.4,267.0 294.7,265.5 296.1,264.4 297.4,263.8 300.0,262.8 301.7,261.8 302.6,260.7 303.7,259.2 303.4,256.6 302.6,255.7 300.5,253.9 300.0,253.4 298.6,251.3 298.0,248.7 297.4,246.8 296.7,246.1 294.7,243.9 293.6,243.4 292.1,242.2Z M284.3,237.7 284.1,238.2 284.3,238.9 284.8,238.2 284.3,237.7Z M294.7,237.7 294.2,238.2 294.7,238.9 294.9,238.2 294.7,237.7Z M271.2,226.2 268.5,227.6 268.3,227.7 268.5,228.2 271.2,228.3 271.9,227.7 271.2,226.2Z M310.5,227.6 307.8,226.2 307.1,227.7 307.8,228.3 310.5,228.2 310.7,227.7 310.5,227.6Z M289.5,209.3 289.2,209.4 286.9,209.7 284.5,212.0 286.9,214.3 289.2,214.6 289.5,214.7 289.8,214.6 292.1,214.3 294.5,212.0 292.1,209.7 289.8,209.4 289.5,209.3Z M271.2,195.7 268.5,195.8 268.3,196.3 268.5,196.4 271.2,197.8 271.9,196.3 271.2,195.7Z M310.5,195.8 307.8,195.7 307.1,196.3 307.8,197.8 310.5,196.4 310.7,196.3 310.5,195.8Z M284.3,185.1 284.1,185.8 284.3,186.3 284.8,185.8 284.3,185.1Z M294.7,185.1 294.2,185.8 294.7,186.3 294.9,185.8 294.7,185.1Z M292.1,155.7 289.5,154.4 286.9,155.7 285.6,157.0 284.3,158.5 282.9,159.6 281.6,160.2 279.0,161.2 277.3,162.2 276.4,163.3 275.3,164.8 275.6,167.4 276.4,168.3 278.5,170.1 279.0,170.6 280.4,172.7 281.0,175.3 281.6,177.2 282.3,177.9 284.3,180.1 285.4,180.6 286.9,181.8 289.5,181.3 292.1,181.8 293.6,180.6 294.7,180.1 296.7,177.9 297.4,177.2 298.0,175.3 298.6,172.7 300.0,170.6 300.5,170.1 302.6,168.3 303.4,167.4 303.7,164.8 302.6,163.3 301.7,162.2 300.0,161.2 297.4,160.2 296.1,159.6 294.7,158.5 293.4,157.0 292.1,155.7Z" stroke="#0071ff"/><path d="M294.7,246.4 292.1,247.1 290.3,248.7 289.5,248.9 288.7,248.7 286.9,247.1 284.3,246.4 282.3,248.7 281.7,251.3 281.6,251.4 280.4,253.9 279.0,254.9 277.2,256.6 276.8,259.2 279.0,261.7 279.1,261.8 281.6,262.9 284.3,264.0 284.8,264.4 286.9,266.8 287.1,267.0 289.5,268.3 291.9,267.0 292.1,266.8 294.2,264.4 294.7,264.0 297.4,262.9 299.9,261.8 300.0,261.7 302.2,259.2 301.8,256.6 300.0,254.9 298.6,253.9 297.4,251.4 297.3,251.3 296.7,248.7 294.7,246.4Z M292.1,210.6 289.5,209.9 286.9,210.6 285.4,212.0 286.9,213.4 289.5,214.1 292.1,213.4 293.6,212.0 292.1,210.6Z M289.5,155.7 287.1,157.0 286.9,157.2 284.8,159.6 284.3,160.0 281.6,161.1 279.1,162.2 279.0,162.3 276.8,164.8 277.2,167.4 279.0,169.1 280.4,170.1 281.6,172.6 281.7,172.7 282.3,175.3 284.3,177.6 286.9,176.9 288.7,175.3 289.5,175.1 290.3,175.3 292.1,176.9 294.7,177.6 296.7,175.3 297.3,172.7 297.4,172.6 298.6,170.1 300.0,169.1 301.8,167.4 302.2,164.8 300.0,162.3 299.9,162.2 297.4,161.1 294.7,160.0 294.2,159.6 292.1,157.2 291.9,157.0 289.5,155.7Z" stroke="#001cff"/><path d="M294.7,250.7 292.1,250.7 289.5,250.8 286.9,250.7 284.3,250.7 284.1,251.3 282.4,253.9 281.6,254.4 279.0,256.2 278.6,256.6 278.0,259.2 279.0,260.3 281.4,261.8 281.6,261.9 284.3,262.8 286.3,264.4 286.9,265.1 289.5,267.0 292.1,265.1 292.7,264.4 294.7,262.8 297.4,261.9 297.6,261.8 300.0,260.3 301.0,259.2 300.4,256.6 300.0,256.2 297.4,254.4 296.6,253.9 294.9,251.3 294.7,250.7Z M292.1,211.5 289.5,210.5 286.9,211.5 286.3,212.0 286.9,212.5 289.5,213.5 292.1,212.5 292.7,212.0 292.1,211.5Z M292.1,158.9 289.5,157.0 286.9,158.9 286.3,159.6 284.3,161.2 281.6,162.1 281.4,162.2 279.0,163.7 278.0,164.8 278.6,167.4 279.0,167.8 281.6,169.6 282.4,170.1 284.1,172.7 284.3,173.3 286.9,173.3 289.5,173.2 292.1,173.3 294.7,173.3 294.9,172.7 296.6,170.1 297.4,169.6 300.0,167.8 300.4,167.4 301.0,164.8 300.0,163.7 297.6,162.2 297.4,162.1 294.7,161.2 292.7,159.6 292.1,158.9Z" stroke="#2500ff"/><path d="M292.1,252.3 289.5,252.0 286.9,252.3 284.4,253.9 284.3,254.0 281.6,255.6 280.3,256.6 279.3,259.2 281.6,260.8 284.3,261.7 284.6,261.8 286.9,263.4 288.6,264.4 289.5,265.1 290.4,264.4 292.1,263.4 294.4,261.8 294.7,261.7 297.4,260.8 299.7,259.2 298.7,256.6 297.4,255.6 294.7,254.0 294.6,253.9 292.1,252.3Z M289.5,211.1 287.4,212.0 289.5,212.9 291.6,212.0 289.5,211.1Z M289.5,158.9 288.6,159.6 286.9,160.6 284.6,162.2 284.3,162.3 281.6,163.2 279.3,164.8 280.3,167.4 281.6,168.4 284.3,170.0 284.4,170.1 286.9,171.7 289.5,172.0 292.1,171.7 294.6,170.1 294.7,170.0 297.4,168.4 298.7,167.4 299.7,164.8 297.4,163.2 294.7,162.3 294.4,162.2 292.1,160.6 290.4,159.6 289.5,158.9Z" stroke="#5b00ff"/><path d="M292.1,253.6 289.5,252.9 286.9,253.6 286.3,253.9 284.3,255.3 282.2,256.6 281.6,257.7 281.0,259.2 281.6,259.6 284.3,260.5 286.9,261.7 287.1,261.8 289.5,263.1 291.9,261.8 292.1,261.7 294.7,260.5 297.4,259.6 298.0,259.2 297.4,257.7 296.8,256.6 294.7,255.3 292.7,253.9 292.1,253.6Z M289.5,211.7 288.9,212.0 289.5,212.3 290.1,212.0 289.5,211.7Z M289.5,160.9 287.1,162.2 286.9,162.3 284.3,163.5 281.6,164.4 281.0,164.8 281.6,166.3 282.2,167.4 284.3,168.7 286.3,170.1 286.9,170.4 289.5,171.1 292.1,170.4 292.7,170.1 294.7,168.7 296.8,167.4 297.4,166.3 298.0,164.8 297.4,164.4 294.7,163.5 292.1,162.3 291.9,162.2 289.5,160.9Z" stroke="#8000ff"/></g><g fill="none" stroke-width="2.4" stroke-linejoin="round" stroke-linecap="round"><path d="M273.7,122.4 272.4,123.3 269.8,123.4 266.8,122.4 264.7,120.9 264.1,119.4 265.4,118.5 268.0,118.4 271.0,119.4 273.1,120.9 273.7,122.4Z" stroke="#ff1a10"/><path d="M322.7,119.4 322.1,120.9 320.0,122.4 317.0,123.4 314.4,123.3 313.1,122.4 313.7,120.9 315.8,119.4 318.8,118.4 321.4,118.5 322.7,119.4Z" stroke="#ff1a10"/><path d="M207.6,177.6 206.2,178.1 204.5,177.6 203.1,176.2 202.6,174.4 203.2,173.0 204.6,172.5 206.3,173.0 207.7,174.4 208.2,176.2 207.6,177.6Z" stroke="#ff1a10"/><path d="M207.6,245.5 208.2,246.9 207.7,248.7 206.3,250.1 204.6,250.6 203.2,250.1 202.6,248.7 203.1,246.9 204.5,245.5 206.2,245.0 207.6,245.5Z" stroke="#ff1a10"/><path d="M378.2,165.8 378.8,167.2 378.3,169.0 376.9,170.4 375.2,170.9 373.8,170.4 373.2,169.0 373.7,167.2 375.1,165.8 376.8,165.3 378.2,165.8Z" stroke="#ff1a10"/><path d="M378.2,250.1 376.8,250.6 375.1,250.1 373.7,248.7 373.2,246.9 373.8,245.5 375.2,245.0 376.9,245.5 378.3,246.9 378.8,248.7 378.2,250.1Z" stroke="#ff1a10"/><path d="M262.8,301.0 262.2,302.5 260.1,304.0 257.1,305.0 254.5,304.9 253.2,304.0 253.8,302.5 255.9,301.0 258.9,300.0 261.5,300.1 262.8,301.0Z" stroke="#ff1a10"/><path d="M326.4,304.0 325.1,304.9 322.5,305.0 319.5,304.0 317.4,302.5 316.8,301.0 318.1,300.1 320.7,300.0 323.7,301.0 325.8,302.5 326.4,304.0Z" stroke="#ff1a10"/><path d="M201.2,196.0 200.8,197.2 199.7,197.9 198.3,197.9 197.2,197.2 196.8,196.0 197.2,194.8 198.3,194.1 199.7,194.1 200.8,194.8 201.2,196.0Z" stroke="#ff1a10"/><path d="M201.2,228.0 200.8,229.2 199.7,229.9 198.3,229.9 197.2,229.2 196.8,228.0 197.2,226.8 198.3,226.1 199.7,226.1 200.8,226.8 201.2,228.0Z" stroke="#ff1a10"/><path d="M384.2,196.0 383.8,197.2 382.7,197.9 381.3,197.9 380.2,197.2 379.8,196.0 380.2,194.8 381.3,194.1 382.7,194.1 383.8,194.8 384.2,196.0Z" stroke="#ff1a10"/><path d="M384.2,228.0 383.8,229.2 382.7,229.9 381.3,229.9 380.2,229.2 379.8,228.0 380.2,226.8 381.3,226.1 382.7,226.1 383.8,226.8 384.2,228.0Z" stroke="#ff1a10"/></g></g><rect x="162.2" y="84.5" width="257.1" height="254.8" fill="none" stroke="#111" stroke-width="1.8"/><path d="M147.2 336.8H162.2 M164.7 339.3V354.3 M147.2 274.4H162.2 M227.1 339.3V354.3 M147.2 212.0H162.2 M289.5 339.3V354.3 M147.2 149.6H162.2 M351.9 339.3V354.3 M147.2 87.2H162.2 M414.3 339.3V354.3" stroke="#111" stroke-width="1.9" fill="none"/><text x="140.6" y="343.7" font-size="19.8" text-anchor="end">−4</text><text x="162.3" y="380.7" font-size="19.8" text-anchor="middle">−4</text><text x="140.6" y="281.3" font-size="19.8" text-anchor="end">−2</text><text x="224.7" y="380.7" font-size="19.8" text-anchor="middle">−2</text><text x="140.6" y="218.9" font-size="19.8" text-anchor="end">0</text><text x="290.0" y="380.7" font-size="19.8" text-anchor="middle">0</text><text x="140.6" y="156.5" font-size="19.8" text-anchor="end">2</text><text x="352.4" y="380.7" font-size="19.8" text-anchor="middle">2</text><text x="140.6" y="94.1" font-size="19.8" text-anchor="end">4</text><text x="414.8" y="380.7" font-size="19.8" text-anchor="middle">4</text><text x="187.5" y="412.3" font-size="19.8">momentum (10</text><text x="323.0" y="399.3" font-size="14.4">5</text><text x="335.9" y="412.3" font-size="19.8" font-style="italic">u</text><text x="352.0" y="412.3" font-size="19.8">m/s)</text><g transform="translate(95.5 312.0) rotate(-90)"><text x="-1.4" y="0.0" font-size="19.8">momentum (10</text><text x="134.1" y="-13.0" font-size="14.4">5</text><text x="147.0" y="0.0" font-size="19.8" font-style="italic">u</text><text x="163.1" y="0.0" font-size="19.8">m/s)</text></g><rect x="163.2" y="85.5" width="102.0" height="42.5" fill="#fff"/><text x="170.0" y="121.5" font-size="27.0">(a)</text><text x="209.0" y="103.6" font-size="17.4">35</text><text x="229.8" y="121.5" font-size="27.0">Cl</text><text x="254.8" y="104.0" font-size="18.0">+</text><rect x="427.9" y="90.8" width="6.0" height="75.2" fill="url(#cbg)" stroke="#111" stroke-width="1.6"/><path d="M434.7 114.2H440.2" stroke="#111" stroke-width="1.9"/><text x="448.2" y="121.3" font-size="18.4">4</text><path d="M434.7 137.8H440.2" stroke="#111" stroke-width="1.9"/><text x="448.2" y="144.9" font-size="18.4">2</text><path d="M434.7 161.8H440.2" stroke="#111" stroke-width="1.9"/><text x="448.2" y="168.9" font-size="18.4">0</text><g transform="translate(434.2 179.4) rotate(90)"><text x="0.0" y="0.0" font-size="20.0">×10</text><text x="28.0" y="-13.6" font-size="15.0">−5</text></g><path d="M621.4 86.2V339.5 M556.1 274.8H811.7 M683.8 86.2V339.5 M556.1 212.4H811.7 M746.2 86.2V339.5 M556.1 150.0H811.7" stroke="#a4a4ff" stroke-width="1.3" stroke-dasharray="2.6 2.6" fill="none"/><clipPath id="cpb"><rect x="555.1" y="85.2" width="257.6" height="255.3"/></clipPath><g clip-path="url(#cpb)"><g fill="none" stroke-width="2.4" stroke-linejoin="round" stroke-linecap="round"><path d="M704.8,125.7 702.1,125.1 699.5,124.6 696.9,124.2 694.3,123.9 691.7,123.7 689.0,123.6 686.4,123.6 683.8,123.6 681.2,123.6 678.6,123.6 675.9,123.7 673.3,123.9 670.7,124.2 668.1,124.6 665.5,125.1 662.8,125.7 662.3,125.9 660.2,126.7 657.6,127.8 655.9,128.5 655.0,129.0 652.4,130.5 651.0,131.2 649.7,131.9 647.1,133.4 646.5,133.8 644.5,135.0 642.0,136.4 641.9,136.5 639.2,138.1 637.8,139.0 636.6,139.8 634.0,141.6 633.9,141.6 631.4,143.7 630.8,144.3 628.8,146.3 628.2,146.9 626.1,149.3 625.9,149.5 624.0,152.1 623.5,152.8 622.3,154.7 620.9,156.8 620.5,157.4 618.8,160.0 618.3,160.7 617.1,162.6 615.7,164.7 615.3,165.2 613.6,167.8 613.0,168.8 612.1,170.5 610.6,173.1 610.4,173.5 609.5,175.7 608.5,178.3 607.8,180.3 607.6,181.0 607.0,183.6 606.4,186.2 605.9,188.8 605.4,191.4 605.2,192.6 604.9,194.1 604.5,196.7 604.0,199.3 603.5,201.9 603.0,204.5 602.6,207.2 602.6,207.3 602.3,209.8 602.3,212.4 602.3,215.0 602.6,217.5 602.6,217.6 603.0,220.3 603.5,222.9 604.0,225.5 604.5,228.1 604.9,230.7 605.2,232.2 605.4,233.4 605.9,236.0 606.4,238.6 607.0,241.2 607.6,243.8 607.8,244.5 608.5,246.5 609.5,249.1 610.4,251.3 610.6,251.7 612.1,254.3 613.0,256.0 613.6,257.0 615.3,259.6 615.7,260.1 617.1,262.2 618.3,264.1 618.8,264.8 620.5,267.4 620.9,268.0 622.3,270.1 623.5,272.0 624.0,272.7 625.9,275.3 626.1,275.5 628.2,277.9 628.8,278.5 630.8,280.5 631.4,281.1 633.9,283.2 634.0,283.2 636.6,285.0 637.8,285.8 639.2,286.7 641.9,288.3 642.0,288.4 644.5,289.8 646.5,291.0 647.1,291.4 649.7,292.9 651.0,293.6 652.4,294.3 655.0,295.8 655.9,296.3 657.6,297.0 660.2,298.1 662.3,298.9 662.8,299.1 665.5,299.7 668.1,300.2 670.7,300.6 673.3,300.9 675.9,301.1 678.6,301.2 681.2,301.2 683.8,301.2 686.4,301.2 689.0,301.2 691.7,301.1 694.3,300.9 696.9,300.6 699.5,300.2 702.1,299.7 704.8,299.1 705.3,298.9 707.4,298.1 710.0,297.0 711.7,296.3 712.6,295.8 715.2,294.3 716.6,293.6 717.9,292.9 720.5,291.4 721.1,291.0 723.1,289.8 725.6,288.4 725.7,288.3 728.4,286.7 729.8,285.8 731.0,285.0 733.6,283.2 733.7,283.2 736.2,281.1 736.8,280.5 738.8,278.5 739.4,277.9 741.5,275.5 741.7,275.3 743.6,272.7 744.1,272.0 745.3,270.1 746.7,268.0 747.1,267.4 748.8,264.8 749.3,264.1 750.5,262.2 751.9,260.1 752.3,259.6 754.0,257.0 754.6,256.0 755.5,254.3 757.0,251.7 757.2,251.3 758.1,249.1 759.1,246.5 759.8,244.5 760.0,243.8 760.6,241.2 761.2,238.6 761.7,236.0 762.2,233.4 762.4,232.2 762.7,230.7 763.1,228.1 763.6,225.5 764.1,222.9 764.6,220.3 765.0,217.6 765.0,217.5 765.3,215.0 765.3,212.4 765.3,209.8 765.0,207.3 765.0,207.2 764.6,204.5 764.1,201.9 763.6,199.3 763.1,196.7 762.7,194.1 762.4,192.6 762.2,191.4 761.7,188.8 761.2,186.2 760.6,183.6 760.0,181.0 759.8,180.3 759.1,178.3 758.1,175.7 757.2,173.5 757.0,173.1 755.5,170.5 754.6,168.8 754.0,167.8 752.3,165.2 751.9,164.7 750.5,162.6 749.3,160.7 748.8,160.0 747.1,157.4 746.7,156.8 745.3,154.7 744.1,152.8 743.6,152.1 741.7,149.5 741.5,149.3 739.4,146.9 738.8,146.3 736.8,144.3 736.2,143.7 733.7,141.6 733.6,141.6 731.0,139.8 729.8,139.0 728.4,138.1 725.7,136.5 725.6,136.4 723.1,135.0 721.1,133.8 720.5,133.4 717.9,131.9 716.6,131.2 715.2,130.5 712.6,129.0 711.7,128.5 710.0,127.8 707.4,126.7 705.3,125.9 704.8,125.7Z" stroke="#ff3a00"/><path d="M696.9,133.6 694.3,133.3 691.7,133.2 689.0,133.1 686.4,133.0 683.8,133.0 681.2,133.0 678.6,133.1 675.9,133.2 673.3,133.3 670.7,133.6 669.9,133.8 668.1,134.1 665.5,134.8 662.8,135.7 661.3,136.4 660.2,136.9 657.6,138.2 656.2,139.0 655.0,139.7 652.4,141.2 651.6,141.6 649.7,142.7 647.1,144.3 647.1,144.3 644.5,145.8 642.7,146.9 641.9,147.4 639.2,149.2 638.9,149.5 636.6,151.4 635.8,152.1 634.0,154.0 633.4,154.7 631.4,157.3 631.3,157.4 629.5,160.0 628.8,161.1 627.8,162.6 626.1,165.1 626.1,165.2 624.3,167.8 623.5,169.1 622.6,170.5 620.9,173.0 620.9,173.1 619.3,175.7 618.3,177.6 617.9,178.3 616.8,181.0 616.0,183.6 615.7,184.7 615.3,186.2 614.7,188.8 614.3,191.4 613.8,194.1 613.3,196.7 613.0,198.2 612.8,199.3 612.3,201.9 611.8,204.5 611.4,207.2 611.1,209.8 611.0,212.4 611.1,215.0 611.4,217.6 611.8,220.3 612.3,222.9 612.8,225.5 613.0,226.6 613.3,228.1 613.8,230.7 614.3,233.4 614.7,236.0 615.3,238.6 615.7,240.1 616.0,241.2 616.8,243.8 617.9,246.5 618.3,247.2 619.3,249.1 620.9,251.7 620.9,251.8 622.6,254.3 623.5,255.7 624.3,257.0 626.1,259.6 626.1,259.7 627.8,262.2 628.8,263.7 629.5,264.8 631.3,267.4 631.4,267.5 633.4,270.1 634.0,270.8 635.8,272.7 636.6,273.4 638.9,275.3 639.2,275.6 641.9,277.4 642.7,277.9 644.5,279.0 647.1,280.5 647.1,280.5 649.7,282.1 651.6,283.2 652.4,283.6 655.0,285.1 656.2,285.8 657.6,286.6 660.2,287.9 661.3,288.4 662.8,289.1 665.5,290.0 668.1,290.7 669.9,291.0 670.7,291.2 673.3,291.5 675.9,291.6 678.6,291.7 681.2,291.8 683.8,291.8 686.4,291.8 689.0,291.7 691.7,291.6 694.3,291.5 696.9,291.2 697.7,291.0 699.5,290.7 702.1,290.0 704.8,289.1 706.3,288.4 707.4,287.9 710.0,286.6 711.4,285.8 712.6,285.1 715.2,283.6 716.0,283.2 717.9,282.1 720.5,280.5 720.5,280.5 723.1,279.0 724.9,277.9 725.7,277.4 728.4,275.6 728.7,275.3 731.0,273.4 731.8,272.7 733.6,270.8 734.2,270.1 736.2,267.5 736.3,267.4 738.1,264.8 738.8,263.7 739.8,262.2 741.5,259.7 741.5,259.6 743.3,257.0 744.1,255.7 745.0,254.3 746.7,251.8 746.7,251.7 748.3,249.1 749.3,247.2 749.7,246.5 750.8,243.8 751.6,241.2 751.9,240.1 752.3,238.6 752.9,236.0 753.3,233.4 753.8,230.7 754.3,228.1 754.6,226.6 754.8,225.5 755.3,222.9 755.8,220.3 756.2,217.6 756.5,215.0 756.6,212.4 756.5,209.8 756.2,207.2 755.8,204.5 755.3,201.9 754.8,199.3 754.6,198.2 754.3,196.7 753.8,194.1 753.3,191.4 752.9,188.8 752.3,186.2 751.9,184.7 751.6,183.6 750.8,181.0 749.7,178.3 749.3,177.6 748.3,175.7 746.7,173.1 746.7,173.0 745.0,170.5 744.1,169.1 743.3,167.8 741.5,165.2 741.5,165.1 739.8,162.6 738.8,161.1 738.1,160.0 736.3,157.4 736.2,157.3 734.2,154.7 733.6,154.0 731.8,152.1 731.0,151.4 728.7,149.5 728.4,149.2 725.7,147.4 724.9,146.9 723.1,145.8 720.5,144.3 720.5,144.3 717.9,142.7 716.0,141.6 715.2,141.2 712.6,139.7 711.4,139.0 710.0,138.2 707.4,136.9 706.3,136.4 704.8,135.7 702.1,134.8 699.5,134.1 697.7,133.8 696.9,133.6Z" stroke="#ffa300"/><path d="M696.9,141.4 694.3,140.7 691.7,140.2 689.0,139.8 686.4,139.6 683.8,139.6 681.2,139.6 678.6,139.8 675.9,140.2 673.3,140.7 670.7,141.4 670.0,141.6 668.1,142.3 665.5,143.4 663.9,144.3 662.8,144.8 660.2,146.4 659.5,146.9 657.6,148.2 655.8,149.5 655.0,150.2 652.4,152.0 652.1,152.1 649.7,153.6 647.9,154.7 647.1,155.2 644.5,157.2 644.3,157.4 641.9,159.7 641.5,160.0 639.2,162.5 639.1,162.6 637.0,165.2 636.6,165.7 635.1,167.8 634.0,169.4 633.3,170.5 631.6,173.1 631.4,173.4 629.9,175.7 628.8,177.7 628.4,178.3 627.0,181.0 626.1,182.8 625.8,183.6 624.8,186.2 624.0,188.8 623.5,190.5 623.3,191.4 622.7,194.1 622.2,196.7 621.7,199.3 621.2,201.9 620.9,203.8 620.8,204.5 620.4,207.2 620.2,209.8 620.1,212.4 620.2,215.0 620.4,217.6 620.8,220.3 620.9,221.0 621.2,222.9 621.7,225.5 622.2,228.1 622.7,230.7 623.3,233.4 623.5,234.3 624.0,236.0 624.8,238.6 625.8,241.2 626.1,242.0 627.0,243.8 628.4,246.5 628.8,247.1 629.9,249.1 631.4,251.4 631.6,251.7 633.3,254.3 634.0,255.4 635.1,257.0 636.6,259.1 637.0,259.6 639.1,262.2 639.2,262.3 641.5,264.8 641.9,265.1 644.3,267.4 644.5,267.6 647.1,269.6 647.9,270.1 649.7,271.2 652.1,272.7 652.4,272.8 655.0,274.6 655.8,275.3 657.6,276.6 659.5,277.9 660.2,278.4 662.8,280.0 663.9,280.5 665.5,281.4 668.1,282.5 670.0,283.2 670.7,283.4 673.3,284.1 675.9,284.6 678.6,285.0 681.2,285.2 683.8,285.2 686.4,285.2 689.0,285.0 691.7,284.6 694.3,284.1 696.9,283.4 697.6,283.2 699.5,282.5 702.1,281.4 703.7,280.5 704.8,280.0 707.4,278.4 708.1,277.9 710.0,276.6 711.8,275.3 712.6,274.6 715.2,272.8 715.5,272.7 717.9,271.2 719.7,270.1 720.5,269.6 723.1,267.6 723.3,267.4 725.7,265.1 726.1,264.8 728.4,262.3 728.5,262.2 730.6,259.6 731.0,259.1 732.5,257.0 733.6,255.4 734.3,254.3 736.0,251.7 736.2,251.4 737.7,249.1 738.8,247.1 739.2,246.5 740.6,243.8 741.5,242.0 741.8,241.2 742.8,238.6 743.6,236.0 744.1,234.3 744.3,233.4 744.9,230.7 745.4,228.1 745.9,225.5 746.4,222.9 746.7,221.0 746.8,220.3 747.2,217.6 747.4,215.0 747.5,212.4 747.4,209.8 747.2,207.2 746.8,204.5 746.7,203.8 746.4,201.9 745.9,199.3 745.4,196.7 744.9,194.1 744.3,191.4 744.1,190.5 743.6,188.8 742.8,186.2 741.8,183.6 741.5,182.8 740.6,181.0 739.2,178.3 738.8,177.7 737.7,175.7 736.2,173.4 736.0,173.1 734.3,170.5 733.6,169.4 732.5,167.8 731.0,165.7 730.6,165.2 728.5,162.6 728.4,162.5 726.1,160.0 725.7,159.7 723.3,157.4 723.1,157.2 720.5,155.2 719.7,154.7 717.9,153.6 715.5,152.1 715.2,152.0 712.6,150.2 711.8,149.5 710.0,148.2 708.1,146.9 707.4,146.4 704.8,144.8 703.7,144.3 702.1,143.4 699.5,142.3 697.6,141.6 696.9,141.4Z" stroke="#f1ff00"/><path d="M696.9,146.6 694.3,145.7 691.7,145.1 689.0,144.7 686.4,144.5 683.8,144.4 681.2,144.5 678.6,144.7 675.9,145.1 673.3,145.7 670.7,146.6 669.9,146.9 668.1,147.5 665.5,148.8 664.3,149.5 662.8,150.4 660.6,152.1 660.2,152.5 657.7,154.7 657.6,154.9 655.2,157.4 655.0,157.6 652.8,160.0 652.4,160.5 650.7,162.6 649.7,164.0 648.8,165.2 647.4,167.8 647.1,168.5 645.4,170.5 644.5,171.5 643.2,173.1 641.9,174.7 641.2,175.7 639.3,178.3 639.2,178.5 637.7,181.0 636.6,182.9 636.3,183.6 635.0,186.2 634.0,188.5 633.9,188.8 632.9,191.4 632.1,194.1 631.4,196.6 631.4,196.7 630.7,199.3 630.3,201.9 629.9,204.5 629.6,207.2 629.5,209.8 629.4,212.4 629.5,215.0 629.6,217.6 629.9,220.3 630.3,222.9 630.7,225.5 631.4,228.1 631.4,228.2 632.1,230.7 632.9,233.4 633.9,236.0 634.0,236.3 635.0,238.6 636.3,241.2 636.6,241.9 637.7,243.8 639.2,246.3 639.3,246.5 641.2,249.1 641.9,250.1 643.2,251.7 644.5,253.3 645.4,254.3 647.1,256.3 647.4,257.0 648.8,259.6 649.7,260.8 650.7,262.2 652.4,264.3 652.8,264.8 655.0,267.2 655.2,267.4 657.6,269.9 657.7,270.1 660.2,272.3 660.6,272.7 662.8,274.4 664.3,275.3 665.5,276.0 668.1,277.3 669.9,277.9 670.7,278.2 673.3,279.1 675.9,279.7 678.6,280.1 681.2,280.3 683.8,280.4 686.4,280.3 689.0,280.1 691.7,279.7 694.3,279.1 696.9,278.2 697.7,277.9 699.5,277.3 702.1,276.0 703.3,275.3 704.8,274.4 707.0,272.7 707.4,272.3 709.9,270.1 710.0,269.9 712.4,267.4 712.6,267.2 714.8,264.8 715.2,264.3 716.9,262.2 717.9,260.8 718.8,259.6 720.2,257.0 720.5,256.3 722.2,254.3 723.1,253.3 724.4,251.7 725.7,250.1 726.4,249.1 728.3,246.5 728.4,246.3 729.9,243.8 731.0,241.9 731.3,241.2 732.6,238.6 733.6,236.3 733.7,236.0 734.7,233.4 735.5,230.7 736.2,228.2 736.2,228.1 736.9,225.5 737.3,222.9 737.7,220.3 738.0,217.6 738.1,215.0 738.2,212.4 738.1,209.8 738.0,207.2 737.7,204.5 737.3,201.9 736.9,199.3 736.2,196.7 736.2,196.6 735.5,194.1 734.7,191.4 733.7,188.8 733.6,188.5 732.6,186.2 731.3,183.6 731.0,182.9 729.9,181.0 728.4,178.5 728.3,178.3 726.4,175.7 725.7,174.7 724.4,173.1 723.1,171.5 722.2,170.5 720.5,168.5 720.2,167.8 718.8,165.2 717.9,164.0 716.9,162.6 715.2,160.5 714.8,160.0 712.6,157.6 712.4,157.4 710.0,154.9 709.9,154.7 707.4,152.5 707.0,152.1 704.8,150.4 703.3,149.5 702.1,148.8 699.5,147.5 697.7,146.9 696.9,146.6Z" stroke="#71ff00"/><path d="M691.7,149.3 689.0,148.8 686.4,148.6 683.8,148.5 681.2,148.6 678.6,148.8 675.9,149.3 675.0,149.5 673.3,149.8 670.7,150.6 668.1,151.7 667.3,152.1 665.5,153.2 663.5,154.7 662.8,155.5 661.1,157.4 660.2,158.6 659.2,160.0 657.6,162.3 657.4,162.6 655.2,165.2 655.0,165.6 653.3,167.8 652.4,170.1 652.2,170.5 651.5,173.1 651.0,175.7 650.6,178.3 649.9,181.0 649.7,181.3 647.9,183.6 647.1,184.6 645.9,186.2 644.5,188.3 644.2,188.8 642.6,191.4 641.9,192.9 641.3,194.1 640.2,196.7 639.3,199.3 639.2,199.4 638.6,201.9 638.0,204.5 637.6,207.2 637.4,209.8 637.3,212.4 637.4,215.0 637.6,217.6 638.0,220.3 638.6,222.9 639.2,225.4 639.3,225.5 640.2,228.1 641.3,230.7 641.9,231.9 642.6,233.4 644.2,236.0 644.5,236.5 645.9,238.6 647.1,240.2 647.9,241.2 649.7,243.5 649.9,243.8 650.6,246.5 651.0,249.1 651.5,251.7 652.2,254.3 652.4,254.7 653.3,257.0 655.0,259.2 655.2,259.6 657.4,262.2 657.6,262.5 659.2,264.8 660.2,266.2 661.1,267.4 662.8,269.3 663.5,270.1 665.5,271.6 667.3,272.7 668.1,273.1 670.7,274.2 673.3,275.0 675.0,275.3 675.9,275.5 678.6,276.0 681.2,276.2 683.8,276.3 686.4,276.2 689.0,276.0 691.7,275.5 692.6,275.3 694.3,275.0 696.9,274.2 699.5,273.1 700.3,272.7 702.1,271.6 704.1,270.1 704.8,269.3 706.5,267.4 707.4,266.2 708.4,264.8 710.0,262.5 710.2,262.2 712.4,259.6 712.6,259.2 714.3,257.0 715.2,254.7 715.4,254.3 716.1,251.7 716.6,249.1 717.0,246.5 717.7,243.8 717.9,243.5 719.7,241.2 720.5,240.2 721.7,238.6 723.1,236.5 723.4,236.0 725.0,233.4 725.7,231.9 726.3,230.7 727.4,228.1 728.3,225.5 728.4,225.4 729.0,222.9 729.6,220.3 730.0,217.6 730.2,215.0 730.3,212.4 730.2,209.8 730.0,207.2 729.6,204.5 729.0,201.9 728.4,199.4 728.3,199.3 727.4,196.7 726.3,194.1 725.7,192.9 725.0,191.4 723.4,188.8 723.1,188.3 721.7,186.2 720.5,184.6 719.7,183.6 717.9,181.3 717.7,181.0 717.0,178.3 716.6,175.7 716.1,173.1 715.4,170.5 715.2,170.1 714.3,167.8 712.6,165.6 712.4,165.2 710.2,162.6 710.0,162.3 708.4,160.0 707.4,158.6 706.5,157.4 704.8,155.5 704.1,154.7 702.1,153.2 700.3,152.1 699.5,151.7 696.9,150.6 694.3,149.8 692.6,149.5 691.7,149.3Z M661.6,201.9 662.8,202.6 663.7,204.5 664.1,207.2 664.0,209.8 663.8,212.4 664.0,215.0 664.1,217.6 663.7,220.3 662.8,222.2 661.6,222.9 660.2,223.5 659.4,222.9 657.6,220.9 657.4,220.3 656.8,217.6 656.6,215.0 656.6,212.4 656.6,209.8 656.8,207.2 657.4,204.5 657.6,203.9 659.4,201.9 660.2,201.3 661.6,201.9Z M708.2,201.9 710.0,203.9 710.2,204.5 710.8,207.2 711.0,209.8 711.0,212.4 711.0,215.0 710.8,217.6 710.2,220.3 710.0,220.9 708.2,222.9 707.4,223.5 706.0,222.9 704.8,222.2 703.9,220.3 703.5,217.6 703.6,215.0 703.8,212.4 703.6,209.8 703.5,207.2 703.9,204.5 704.8,202.6 706.0,201.9 707.4,201.3 708.2,201.9Z" stroke="#00ff00"/><path d="M689.0,151.8 686.4,151.6 683.8,151.5 681.2,151.6 678.6,151.8 676.6,152.1 675.9,152.2 673.3,152.7 670.7,153.6 668.5,154.7 668.1,155.0 665.5,157.2 665.3,157.4 663.3,160.0 662.8,161.0 661.9,162.6 660.7,165.2 660.2,166.4 659.3,167.8 657.6,170.5 657.6,170.5 656.2,173.1 655.8,175.7 655.8,178.3 656.3,181.0 657.6,183.2 657.8,183.6 659.3,186.2 660.2,187.2 661.3,188.8 662.8,190.3 663.8,191.4 665.5,193.2 666.2,194.1 667.7,196.7 668.1,197.3 668.9,199.3 669.7,201.9 670.2,204.5 669.9,207.2 669.2,209.8 668.8,212.4 669.2,215.0 669.9,217.6 670.2,220.3 669.7,222.9 668.9,225.5 668.1,227.5 667.7,228.1 666.2,230.7 665.5,231.6 663.8,233.4 662.8,234.5 661.3,236.0 660.2,237.6 659.3,238.6 657.8,241.2 657.6,241.6 656.3,243.8 655.8,246.5 655.8,249.1 656.2,251.7 657.6,254.3 657.6,254.3 659.3,257.0 660.2,258.4 660.7,259.6 661.9,262.2 662.8,263.8 663.3,264.8 665.3,267.4 665.5,267.6 668.1,269.8 668.5,270.1 670.7,271.2 673.3,272.1 675.9,272.6 676.6,272.7 678.6,273.0 681.2,273.2 683.8,273.3 686.4,273.2 689.0,273.0 691.0,272.7 691.7,272.6 694.3,272.1 696.9,271.2 699.1,270.1 699.5,269.8 702.1,267.6 702.3,267.4 704.3,264.8 704.8,263.8 705.7,262.2 706.9,259.6 707.4,258.4 708.3,257.0 710.0,254.3 710.0,254.3 711.4,251.7 711.8,249.1 711.8,246.5 711.3,243.8 710.0,241.6 709.8,241.2 708.3,238.6 707.4,237.6 706.3,236.0 704.8,234.5 703.8,233.4 702.1,231.6 701.4,230.7 699.9,228.1 699.5,227.5 698.7,225.5 697.9,222.9 697.4,220.3 697.7,217.6 698.4,215.0 698.8,212.4 698.4,209.8 697.7,207.2 697.4,204.5 697.9,201.9 698.7,199.3 699.5,197.3 699.9,196.7 701.4,194.1 702.1,193.2 703.8,191.4 704.8,190.3 706.3,188.8 707.4,187.2 708.3,186.2 709.8,183.6 710.0,183.2 711.3,181.0 711.8,178.3 711.8,175.7 711.4,173.1 710.0,170.5 710.0,170.5 708.3,167.8 707.4,166.4 706.9,165.2 705.7,162.6 704.8,161.0 704.3,160.0 702.3,157.4 702.1,157.2 699.5,155.0 699.1,154.7 696.9,153.6 694.3,152.7 691.7,152.2 691.0,152.1 689.0,151.8Z" stroke="#00ff00"/><path d="M691.7,154.6 689.0,154.2 686.4,154.0 683.8,153.9 681.2,154.0 678.6,154.2 675.9,154.6 675.4,154.7 673.3,155.3 670.7,156.4 669.2,157.4 668.1,158.3 666.6,160.0 665.5,162.0 665.1,162.6 664.0,165.2 663.1,167.8 662.8,168.8 662.2,170.5 661.0,173.1 660.2,174.8 659.8,175.7 659.7,178.3 660.2,180.2 660.4,181.0 661.5,183.6 662.8,186.0 663.0,186.2 664.8,188.8 665.5,189.5 667.2,191.4 668.1,192.4 669.7,194.1 670.7,195.5 671.8,196.7 672.7,199.3 673.3,201.1 673.7,201.9 674.4,204.5 674.6,207.2 674.1,209.8 673.7,212.4 674.1,215.0 674.6,217.6 674.4,220.3 673.7,222.9 673.3,223.7 672.7,225.5 671.8,228.1 670.7,229.3 669.7,230.7 668.1,232.4 667.2,233.4 665.5,235.3 664.8,236.0 663.0,238.6 662.8,238.8 661.5,241.2 660.4,243.8 660.2,244.6 659.7,246.5 659.8,249.1 660.2,250.0 661.0,251.7 662.2,254.3 662.8,256.0 663.1,257.0 664.0,259.6 665.1,262.2 665.5,262.8 666.6,264.8 668.1,266.5 669.2,267.4 670.7,268.4 673.3,269.5 675.4,270.1 675.9,270.2 678.6,270.6 681.2,270.8 683.8,270.9 686.4,270.8 689.0,270.6 691.7,270.2 692.2,270.1 694.3,269.5 696.9,268.4 698.4,267.4 699.5,266.5 701.0,264.8 702.1,262.8 702.5,262.2 703.6,259.6 704.5,257.0 704.8,256.0 705.4,254.3 706.6,251.7 707.4,250.0 707.8,249.1 707.9,246.5 707.4,244.6 707.2,243.8 706.1,241.2 704.8,238.8 704.6,238.6 702.8,236.0 702.1,235.3 700.4,233.4 699.5,232.4 697.9,230.7 696.9,229.3 695.8,228.1 694.9,225.5 694.3,223.7 693.9,222.9 693.2,220.3 693.0,217.6 693.5,215.0 693.9,212.4 693.5,209.8 693.0,207.2 693.2,204.5 693.9,201.9 694.3,201.1 694.9,199.3 695.8,196.7 696.9,195.5 697.9,194.1 699.5,192.4 700.4,191.4 702.1,189.5 702.8,188.8 704.6,186.2 704.8,186.0 706.1,183.6 707.2,181.0 707.4,180.2 707.9,178.3 707.8,175.7 707.4,174.8 706.6,173.1 705.4,170.5 704.8,168.8 704.5,167.8 703.6,165.2 702.5,162.6 702.1,162.0 701.0,160.0 699.5,158.3 698.4,157.4 696.9,156.4 694.3,155.3 692.2,154.7 691.7,154.6Z" stroke="#00ff70"/><path d="M696.9,235.8 696.1,236.0 694.3,236.3 692.1,236.0 691.7,235.9 689.0,235.2 686.4,234.6 683.8,234.3 681.2,234.6 678.6,235.2 675.9,235.9 675.5,236.0 673.3,236.3 671.5,236.0 670.7,235.8 670.1,236.0 668.1,236.6 666.3,238.6 665.5,239.8 664.8,241.2 664.2,243.8 664.2,246.5 664.4,249.1 664.6,251.7 665.2,254.3 665.5,255.3 665.9,257.0 666.8,259.6 668.0,262.2 668.1,262.3 670.1,264.8 670.7,265.4 673.3,266.9 674.7,267.4 675.9,267.8 678.6,268.3 681.2,268.5 683.8,268.6 686.4,268.5 689.0,268.3 691.7,267.8 692.9,267.4 694.3,266.9 696.9,265.4 697.5,264.8 699.5,262.3 699.6,262.2 700.8,259.6 701.7,257.0 702.1,255.3 702.4,254.3 703.0,251.7 703.2,249.1 703.4,246.5 703.4,243.8 702.8,241.2 702.1,239.8 701.3,238.6 699.5,236.6 697.5,236.0 696.9,235.8Z M686.4,204.3 684.9,204.5 683.8,204.7 682.7,204.5 681.2,204.3 678.8,204.5 678.6,204.6 678.2,207.2 677.8,209.8 677.6,212.4 677.8,215.0 678.2,217.6 678.6,220.2 678.8,220.3 681.2,220.5 682.7,220.3 683.8,220.1 684.9,220.3 686.4,220.5 688.8,220.3 689.0,220.2 689.4,217.6 689.8,215.0 690.0,212.4 689.8,209.8 689.4,207.2 689.0,204.6 688.8,204.5 686.4,204.3Z M691.7,157.0 689.0,156.5 686.4,156.3 683.8,156.2 681.2,156.3 678.6,156.5 675.9,157.0 674.7,157.4 673.3,157.9 670.7,159.4 670.1,160.0 668.1,162.5 668.0,162.6 666.8,165.2 665.9,167.8 665.5,169.5 665.2,170.5 664.6,173.1 664.4,175.7 664.2,178.3 664.2,181.0 664.8,183.6 665.5,185.0 666.3,186.2 668.1,188.2 670.1,188.8 670.7,189.0 671.5,188.8 673.3,188.5 675.5,188.8 675.9,188.9 678.6,189.6 681.2,190.2 683.8,190.5 686.4,190.2 689.0,189.6 691.7,188.9 692.1,188.8 694.3,188.5 696.1,188.8 696.9,189.0 697.5,188.8 699.5,188.2 701.3,186.2 702.1,185.0 702.8,183.6 703.4,181.0 703.4,178.3 703.2,175.7 703.0,173.1 702.4,170.5 702.1,169.5 701.7,167.8 700.8,165.2 699.6,162.6 699.5,162.5 697.5,160.0 696.9,159.4 694.3,157.9 692.9,157.4 691.7,157.0Z" stroke="#00ffff"/><path d="M689.0,238.5 686.4,238.0 683.8,237.8 681.2,238.0 678.6,238.5 678.1,238.6 675.9,239.2 673.3,240.3 671.6,241.2 670.7,242.0 669.3,243.8 668.3,246.5 668.1,247.6 667.8,249.1 667.5,251.7 667.7,254.3 668.1,255.5 668.5,257.0 669.6,259.6 670.7,261.3 671.4,262.2 673.3,263.9 675.1,264.8 675.9,265.2 678.6,265.8 681.2,266.1 683.8,266.2 686.4,266.1 689.0,265.8 691.7,265.2 692.5,264.8 694.3,263.9 696.2,262.2 696.9,261.3 698.0,259.6 699.1,257.0 699.5,255.5 699.9,254.3 700.1,251.7 699.8,249.1 699.5,247.6 699.3,246.5 698.3,243.8 696.9,242.0 696.0,241.2 694.3,240.3 691.7,239.2 689.5,238.6 689.0,238.5Z M686.4,209.5 683.8,208.3 681.2,209.5 681.0,209.8 680.5,212.4 681.0,215.0 681.2,215.3 683.8,216.5 686.4,215.3 686.6,215.0 687.1,212.4 686.6,209.8 686.4,209.5Z M691.7,159.6 689.0,159.0 686.4,158.7 683.8,158.6 681.2,158.7 678.6,159.0 675.9,159.6 675.1,160.0 673.3,160.9 671.4,162.6 670.7,163.5 669.6,165.2 668.5,167.8 668.1,169.3 667.7,170.5 667.5,173.1 667.8,175.7 668.1,177.2 668.3,178.3 669.3,181.0 670.7,182.8 671.6,183.6 673.3,184.5 675.9,185.6 678.1,186.2 678.6,186.3 681.2,186.8 683.8,187.0 686.4,186.8 689.0,186.3 689.5,186.2 691.7,185.6 694.3,184.5 696.0,183.6 696.9,182.8 698.3,181.0 699.3,178.3 699.5,177.2 699.8,175.7 700.1,173.1 699.9,170.5 699.5,169.3 699.1,167.8 698.0,165.2 696.9,163.5 696.2,162.6 694.3,160.9 692.5,160.0 691.7,159.6Z" stroke="#007fff"/><path d="M686.4,241.2 683.8,241.0 681.2,241.2 680.9,241.2 678.6,241.8 675.9,242.8 674.3,243.8 673.3,244.8 672.1,246.5 671.0,249.1 670.7,250.6 670.5,251.7 670.5,254.3 670.7,254.9 671.5,257.0 673.1,259.6 673.3,259.8 675.9,261.9 676.6,262.2 678.6,262.9 681.2,263.4 683.8,263.5 686.4,263.4 689.0,262.9 691.0,262.2 691.7,261.9 694.3,259.8 694.5,259.6 696.1,257.0 696.9,254.9 697.1,254.3 697.1,251.7 696.9,250.6 696.6,249.1 695.5,246.5 694.3,244.8 693.3,243.8 691.7,242.8 689.0,241.8 686.7,241.2 686.4,241.2Z M689.0,161.9 686.4,161.4 683.8,161.3 681.2,161.4 678.6,161.9 676.6,162.6 675.9,162.9 673.3,165.0 673.1,165.2 671.5,167.8 670.7,169.9 670.5,170.5 670.5,173.1 670.7,174.2 671.0,175.7 672.1,178.3 673.3,180.0 674.3,181.0 675.9,182.0 678.6,183.0 680.9,183.6 681.2,183.6 683.8,183.8 686.4,183.6 686.7,183.6 689.0,183.0 691.7,182.0 693.3,181.0 694.3,180.0 695.5,178.3 696.6,175.7 696.9,174.2 697.1,173.1 697.1,170.5 696.9,169.9 696.1,167.8 694.5,165.2 694.3,165.0 691.7,162.9 691.0,162.6 689.0,161.9Z" stroke="#0000ff"/><path d="M689.0,246.1 686.4,245.3 683.8,245.0 681.2,245.3 678.6,246.1 678.0,246.5 675.9,248.3 675.3,249.1 674.4,251.7 674.3,254.3 675.4,257.0 675.9,257.5 678.6,259.3 679.2,259.6 681.2,260.2 683.8,260.4 686.4,260.2 688.4,259.6 689.0,259.3 691.7,257.5 692.2,257.0 693.3,254.3 693.2,251.7 692.3,249.1 691.7,248.3 689.6,246.5 689.0,246.1Z M686.4,164.6 683.8,164.4 681.2,164.6 679.2,165.2 678.6,165.5 675.9,167.3 675.4,167.8 674.3,170.5 674.4,173.1 675.3,175.7 675.9,176.5 678.0,178.3 678.6,178.7 681.2,179.5 683.8,179.8 686.4,179.5 689.0,178.7 689.6,178.3 691.7,176.5 692.3,175.7 693.2,173.1 693.3,170.5 692.2,167.8 691.7,167.3 689.0,165.5 688.4,165.2 686.4,164.6Z" stroke="#5200ff"/></g><g fill="none" stroke-width="2.4" stroke-linejoin="round" stroke-linecap="round"><path d="M578.4,171.4 580.2,176.0" stroke="#ff6a10"/><path d="M578.4,255.9 580.2,251.3" stroke="#ff6a10"/><path d="M786.4,176.0 788.2,171.4" stroke="#ff6a10"/><path d="M786.4,251.3 788.2,255.9" stroke="#ff6a10"/><path d="M614.9,142.7 618.3,146.3" stroke="#ff6a10"/><path d="M614.9,280.8 618.3,277.2" stroke="#ff6a10"/><path d="M749.3,146.3 752.7,142.7" stroke="#ff6a10"/><path d="M749.3,277.2 752.7,280.8" stroke="#ff6a10"/></g></g><rect x="555.1" y="85.2" width="257.6" height="255.3" fill="none" stroke="#111" stroke-width="1.8"/><path d="M540.1 337.2H555.1 M559.0 340.5V355.5 M540.1 274.8H555.1 M621.4 340.5V355.5 M540.1 212.4H555.1 M683.8 340.5V355.5 M540.1 150.0H555.1 M746.2 340.5V355.5 M540.1 87.6H555.1 M808.6 340.5V355.5" stroke="#111" stroke-width="1.9" fill="none"/><text x="533.5" y="344.1" font-size="19.8" text-anchor="end">−4</text><text x="556.6" y="381.9" font-size="19.8" text-anchor="middle">−4</text><text x="533.5" y="281.7" font-size="19.8" text-anchor="end">−2</text><text x="619.0" y="381.9" font-size="19.8" text-anchor="middle">−2</text><text x="533.5" y="219.3" font-size="19.8" text-anchor="end">0</text><text x="684.3" y="381.9" font-size="19.8" text-anchor="middle">0</text><text x="533.5" y="156.9" font-size="19.8" text-anchor="end">2</text><text x="746.7" y="381.9" font-size="19.8" text-anchor="middle">2</text><text x="533.5" y="94.5" font-size="19.8" text-anchor="end">4</text><text x="809.1" y="381.9" font-size="19.8" text-anchor="middle">4</text><text x="581.8" y="413.5" font-size="19.8">momentum (10</text><text x="717.3" y="400.5" font-size="14.4">5</text><text x="730.2" y="413.5" font-size="19.8" font-style="italic">u</text><text x="746.3" y="413.5" font-size="19.8">m/s)</text><g transform="translate(488.4 312.4) rotate(-90)"><text x="-1.4" y="0.0" font-size="19.8">momentum (10</text><text x="134.1" y="-13.0" font-size="14.4">5</text><text x="147.0" y="0.0" font-size="19.8" font-style="italic">u</text><text x="163.1" y="0.0" font-size="19.8">m/s)</text></g><rect x="556.1" y="86.2" width="102.0" height="42.5" fill="#fff"/><text x="562.9" y="122.2" font-size="27.0">(b)</text><text x="601.9" y="104.3" font-size="17.4">35</text><text x="622.7" y="122.2" font-size="27.0">Cl</text><text x="647.7" y="104.7" font-size="18.0">+</text><rect x="826.8" y="92.4" width="6.4" height="74.8" fill="url(#cbg)" stroke="#111" stroke-width="1.6"/><path d="M834.0 97.3H839.5" stroke="#111" stroke-width="1.9"/><text x="840.2" y="104.4" font-size="18.4">2</text><path d="M834.0 131.2H839.5" stroke="#111" stroke-width="1.9"/><text x="840.2" y="138.3" font-size="18.4">1</text><path d="M834.0 164.6H839.5" stroke="#111" stroke-width="1.9"/><text x="840.2" y="171.7" font-size="18.4">0</text><g transform="translate(823.2 180.2) rotate(90)"><text x="0.0" y="0.0" font-size="20.0">×10</text><text x="28.0" y="-13.6" font-size="15.0">−4</text></g><path d="M1016.4 86.4V339.5 M952.2 275.1H1206.7 M1079.0 86.4V339.5 M952.2 212.5H1206.7 M1141.6 86.4V339.5 M952.2 149.9H1206.7" stroke="#a4a4ff" stroke-width="1.3" stroke-dasharray="2.6 2.6" fill="none"/><clipPath id="cpc"><rect x="951.2" y="85.4" width="256.5" height="255.1"/></clipPath><g clip-path="url(#cpc)"><g fill="none" stroke-width="2.4" stroke-linejoin="round" stroke-linecap="round"><path d="M1107.9,123.1 1105.3,123.0 1102.7,122.9 1100.0,122.9 1097.4,122.8 1094.8,122.8 1092.1,122.8 1089.5,122.8 1086.9,122.8 1084.3,122.8 1081.6,122.8 1079.0,122.8 1076.4,122.8 1073.7,122.8 1071.1,122.8 1068.5,122.8 1065.9,122.8 1063.2,122.8 1060.6,122.8 1058.0,122.9 1055.3,122.9 1052.7,123.0 1050.1,123.1 1048.5,123.1 1047.4,123.3 1044.8,124.8 1042.2,125.3 1039.6,125.6 1036.9,125.7 1036.9,125.7 1034.3,127.9 1031.7,128.3 1031.5,128.4 1029.0,130.5 1027.4,131.0 1026.4,131.8 1023.8,133.6 1023.7,133.6 1021.2,136.2 1021.1,136.3 1018.5,138.9 1018.5,138.9 1017.9,141.5 1015.9,143.8 1015.8,144.1 1014.9,146.8 1013.3,149.0 1013.2,149.4 1012.8,152.0 1011.3,154.7 1010.6,156.1 1010.5,157.3 1010.3,159.9 1010.0,162.5 1009.3,165.2 1008.0,167.7 1008.0,167.8 1008.0,170.4 1007.9,173.1 1007.9,175.7 1007.8,178.3 1007.8,180.9 1007.8,183.6 1007.8,186.2 1007.8,188.8 1007.9,191.5 1007.9,194.1 1007.9,196.7 1007.9,199.4 1008.0,202.0 1008.0,204.6 1008.0,207.2 1008.0,209.9 1008.0,212.5 1008.0,215.1 1008.0,217.8 1008.0,220.4 1008.0,223.0 1007.9,225.6 1007.9,228.3 1007.9,230.9 1007.9,233.5 1007.8,236.2 1007.8,238.8 1007.8,241.4 1007.8,244.1 1007.8,246.7 1007.9,249.3 1007.9,251.9 1008.0,254.6 1008.0,257.2 1008.0,257.3 1009.3,259.8 1010.0,262.5 1010.3,265.1 1010.5,267.7 1010.6,268.9 1011.3,270.3 1012.8,273.0 1013.2,275.6 1013.3,276.0 1014.9,278.2 1015.8,280.9 1015.9,281.2 1017.9,283.5 1018.5,286.1 1018.5,286.1 1021.1,288.7 1021.2,288.8 1023.7,291.4 1023.8,291.4 1026.4,293.2 1027.4,294.0 1029.0,294.5 1031.5,296.6 1031.7,296.7 1034.3,297.1 1036.9,299.3 1036.9,299.3 1039.6,299.4 1042.2,299.7 1044.8,300.2 1047.4,301.7 1048.5,301.9 1050.1,301.9 1052.7,302.0 1055.3,302.1 1058.0,302.1 1060.6,302.2 1063.2,302.2 1065.9,302.2 1068.5,302.2 1071.1,302.2 1073.7,302.2 1076.4,302.2 1079.0,302.2 1081.6,302.2 1084.3,302.2 1086.9,302.2 1089.5,302.2 1092.1,302.2 1094.8,302.2 1097.4,302.2 1100.0,302.1 1102.7,302.1 1105.3,302.0 1107.9,301.9 1109.5,301.9 1110.6,301.7 1113.2,300.2 1115.8,299.7 1118.4,299.4 1121.1,299.3 1121.1,299.3 1123.7,297.1 1126.3,296.7 1126.5,296.6 1129.0,294.5 1130.6,294.0 1131.6,293.2 1134.2,291.4 1134.3,291.4 1136.8,288.8 1136.9,288.7 1139.5,286.1 1139.5,286.1 1140.1,283.5 1142.1,281.2 1142.2,280.9 1143.1,278.2 1144.7,276.0 1144.8,275.6 1145.2,273.0 1146.7,270.3 1147.4,268.9 1147.5,267.7 1147.7,265.1 1148.0,262.5 1148.7,259.8 1150.0,257.3 1150.0,257.2 1150.0,254.6 1150.1,251.9 1150.1,249.3 1150.2,246.7 1150.2,244.1 1150.2,241.4 1150.2,238.8 1150.2,236.2 1150.1,233.5 1150.1,230.9 1150.1,228.3 1150.1,225.6 1150.0,223.0 1150.0,220.4 1150.0,217.8 1150.0,215.1 1150.0,212.5 1150.0,209.9 1150.0,207.2 1150.0,204.6 1150.0,202.0 1150.1,199.4 1150.1,196.7 1150.1,194.1 1150.1,191.5 1150.2,188.8 1150.2,186.2 1150.2,183.6 1150.2,180.9 1150.2,178.3 1150.1,175.7 1150.1,173.1 1150.0,170.4 1150.0,167.8 1150.0,167.7 1148.7,165.2 1148.0,162.5 1147.7,159.9 1147.5,157.3 1147.4,156.1 1146.7,154.7 1145.2,152.0 1144.8,149.4 1144.7,149.0 1143.1,146.8 1142.2,144.1 1142.1,143.8 1140.1,141.5 1139.5,138.9 1139.5,138.9 1136.9,136.3 1136.8,136.2 1134.3,133.6 1134.2,133.6 1131.6,131.8 1130.6,131.0 1129.0,130.5 1126.5,128.4 1126.3,128.3 1123.7,127.9 1121.1,125.7 1121.1,125.7 1118.4,125.6 1115.8,125.3 1113.2,124.8 1110.6,123.3 1109.5,123.1 1107.9,123.1Z" stroke="#ff9100"/><path d="M1102.7,130.9 1100.0,130.5 1097.4,130.2 1094.8,129.9 1092.1,129.6 1089.5,129.3 1086.9,129.1 1084.3,129.0 1081.6,128.9 1079.0,128.9 1076.4,128.9 1073.7,129.0 1071.1,129.1 1068.5,129.3 1065.9,129.6 1063.2,129.9 1060.6,130.2 1058.0,130.5 1055.3,130.9 1055.2,131.0 1052.7,131.8 1050.1,132.7 1047.4,133.2 1046.1,133.6 1044.8,134.2 1042.2,135.5 1040.0,136.3 1039.6,136.5 1036.9,138.2 1035.5,138.9 1034.3,139.7 1031.7,141.5 1031.7,141.5 1029.0,143.9 1028.9,144.1 1026.4,146.7 1026.4,146.8 1024.5,149.4 1023.8,150.6 1023.1,152.0 1021.8,154.7 1021.2,156.5 1021.0,157.3 1020.5,159.9 1020.2,162.5 1020.0,165.2 1021.2,166.9 1021.8,167.8 1023.8,170.1 1024.1,170.4 1026.4,173.1 1026.4,173.1 1028.7,175.7 1029.0,176.0 1031.2,178.3 1031.7,178.8 1034.0,180.9 1034.3,181.3 1036.9,183.4 1037.1,183.6 1039.6,185.4 1040.4,186.2 1042.2,187.9 1043.2,188.8 1044.8,190.3 1046.2,191.5 1047.4,192.6 1049.6,194.1 1050.1,194.5 1052.7,196.2 1053.4,196.7 1055.3,198.1 1056.9,199.4 1058.0,200.4 1060.0,202.0 1060.6,202.6 1063.2,204.5 1063.4,204.6 1065.9,206.3 1067.0,207.2 1068.5,208.6 1070.0,209.9 1071.1,211.1 1073.1,212.5 1071.1,213.9 1070.0,215.1 1068.5,216.4 1067.0,217.8 1065.9,218.7 1063.4,220.4 1063.2,220.5 1060.6,222.4 1060.0,223.0 1058.0,224.6 1056.9,225.6 1055.3,226.9 1053.4,228.3 1052.7,228.8 1050.1,230.5 1049.6,230.9 1047.4,232.4 1046.2,233.5 1044.8,234.7 1043.2,236.2 1042.2,237.1 1040.4,238.8 1039.6,239.6 1037.1,241.4 1036.9,241.6 1034.3,243.7 1034.0,244.1 1031.7,246.2 1031.2,246.7 1029.0,249.0 1028.7,249.3 1026.4,251.9 1026.4,251.9 1024.1,254.6 1023.8,254.9 1021.8,257.2 1021.2,258.1 1020.0,259.8 1020.2,262.5 1020.5,265.1 1021.0,267.7 1021.2,268.5 1021.8,270.3 1023.1,273.0 1023.8,274.4 1024.5,275.6 1026.4,278.2 1026.4,278.3 1028.9,280.9 1029.0,281.1 1031.7,283.5 1031.7,283.5 1034.3,285.3 1035.5,286.1 1036.9,286.8 1039.6,288.5 1040.0,288.7 1042.2,289.5 1044.8,290.8 1046.1,291.4 1047.4,291.8 1050.1,292.3 1052.7,293.2 1055.2,294.0 1055.3,294.1 1058.0,294.5 1060.6,294.8 1063.2,295.1 1065.9,295.4 1068.5,295.7 1071.1,295.9 1073.7,296.0 1076.4,296.1 1079.0,296.1 1081.6,296.1 1084.3,296.0 1086.9,295.9 1089.5,295.7 1092.1,295.4 1094.8,295.1 1097.4,294.8 1100.0,294.5 1102.7,294.1 1102.8,294.0 1105.3,293.2 1107.9,292.3 1110.6,291.8 1111.9,291.4 1113.2,290.8 1115.8,289.5 1118.0,288.7 1118.4,288.5 1121.1,286.8 1122.5,286.1 1123.7,285.3 1126.3,283.5 1126.3,283.5 1129.0,281.1 1129.1,280.9 1131.6,278.3 1131.6,278.2 1133.5,275.6 1134.2,274.4 1134.9,273.0 1136.2,270.3 1136.8,268.5 1137.0,267.7 1137.5,265.1 1137.8,262.5 1138.0,259.8 1136.8,258.1 1136.2,257.2 1134.2,254.9 1133.9,254.6 1131.6,251.9 1131.6,251.9 1129.3,249.3 1129.0,249.0 1126.8,246.7 1126.3,246.2 1124.0,244.1 1123.7,243.7 1121.1,241.6 1120.9,241.4 1118.4,239.6 1117.6,238.8 1115.8,237.1 1114.8,236.2 1113.2,234.7 1111.8,233.5 1110.6,232.4 1108.4,230.9 1107.9,230.5 1105.3,228.8 1104.6,228.3 1102.7,226.9 1101.1,225.6 1100.0,224.6 1098.0,223.0 1097.4,222.4 1094.8,220.5 1094.6,220.4 1092.1,218.7 1091.0,217.8 1089.5,216.4 1088.0,215.1 1086.9,213.9 1084.9,212.5 1086.9,211.1 1088.0,209.9 1089.5,208.6 1091.0,207.2 1092.1,206.3 1094.6,204.6 1094.8,204.5 1097.4,202.6 1098.0,202.0 1100.0,200.4 1101.1,199.4 1102.7,198.1 1104.6,196.7 1105.3,196.2 1107.9,194.5 1108.4,194.1 1110.6,192.6 1111.8,191.5 1113.2,190.3 1114.8,188.8 1115.8,187.9 1117.6,186.2 1118.4,185.4 1120.9,183.6 1121.1,183.4 1123.7,181.3 1124.0,180.9 1126.3,178.8 1126.8,178.3 1129.0,176.0 1129.3,175.7 1131.6,173.1 1131.6,173.1 1133.9,170.4 1134.2,170.1 1136.2,167.8 1136.8,166.9 1138.0,165.2 1137.8,162.5 1137.5,159.9 1137.0,157.3 1136.8,156.5 1136.2,154.7 1134.9,152.0 1134.2,150.6 1133.5,149.4 1131.6,146.8 1131.6,146.7 1129.1,144.1 1129.0,143.9 1126.3,141.5 1126.3,141.5 1123.7,139.7 1122.5,138.9 1121.1,138.2 1118.4,136.5 1118.0,136.3 1115.8,135.5 1113.2,134.2 1111.9,133.6 1110.6,133.2 1107.9,132.7 1105.3,131.8 1102.8,131.0 1102.7,130.9Z" stroke="#ffff00"/><path d="M1084.3,216.9 1081.6,215.8 1079.0,215.4 1076.4,215.8 1073.7,216.9 1072.3,217.8 1071.1,218.5 1068.5,220.3 1068.4,220.4 1065.9,222.3 1064.9,223.0 1063.2,224.3 1061.2,225.6 1060.6,226.1 1058.0,227.9 1057.4,228.3 1055.3,229.8 1053.6,230.9 1052.7,231.6 1050.1,233.4 1049.9,233.5 1047.4,235.5 1046.6,236.2 1044.8,237.8 1043.6,238.8 1042.2,240.2 1040.9,241.4 1039.6,243.0 1038.6,244.1 1036.9,246.3 1036.6,246.7 1034.8,249.3 1034.3,250.0 1033.0,251.9 1031.7,253.6 1031.0,254.6 1029.0,257.0 1028.9,257.2 1027.3,259.8 1027.4,262.5 1027.8,265.1 1028.5,267.7 1029.0,269.3 1029.5,270.3 1030.9,273.0 1031.7,274.2 1032.7,275.6 1034.3,277.4 1035.1,278.2 1036.9,279.9 1038.1,280.9 1039.6,281.9 1041.9,283.5 1042.2,283.7 1044.8,285.1 1046.7,286.1 1047.4,286.4 1050.1,287.5 1052.7,288.5 1053.4,288.7 1055.3,289.3 1058.0,289.9 1060.6,290.5 1063.2,290.9 1065.9,291.3 1067.0,291.4 1068.5,291.5 1071.1,291.7 1073.7,291.8 1076.4,291.9 1079.0,291.9 1081.6,291.9 1084.3,291.8 1086.9,291.7 1089.5,291.5 1091.0,291.4 1092.1,291.3 1094.8,290.9 1097.4,290.5 1100.0,289.9 1102.7,289.3 1104.6,288.7 1105.3,288.5 1107.9,287.5 1110.6,286.4 1111.3,286.1 1113.2,285.1 1115.8,283.7 1116.1,283.5 1118.4,281.9 1119.9,280.9 1121.1,279.9 1122.9,278.2 1123.7,277.4 1125.3,275.6 1126.3,274.2 1127.1,273.0 1128.5,270.3 1129.0,269.3 1129.5,267.7 1130.2,265.1 1130.6,262.5 1130.7,259.8 1129.1,257.2 1129.0,257.0 1127.0,254.6 1126.3,253.6 1125.0,251.9 1123.7,250.0 1123.2,249.3 1121.4,246.7 1121.1,246.3 1119.4,244.1 1118.4,243.0 1117.1,241.4 1115.8,240.2 1114.4,238.8 1113.2,237.8 1111.4,236.2 1110.6,235.5 1108.1,233.5 1107.9,233.4 1105.3,231.6 1104.4,230.9 1102.7,229.8 1100.6,228.3 1100.0,227.9 1097.4,226.1 1096.8,225.6 1094.8,224.3 1093.1,223.0 1092.1,222.3 1089.6,220.4 1089.5,220.3 1086.9,218.5 1085.7,217.8 1084.3,216.9Z M1079.0,210.5 1077.5,212.5 1079.0,214.5 1080.5,212.5 1079.0,210.5Z M1089.5,133.5 1086.9,133.3 1084.3,133.2 1081.6,133.1 1079.0,133.1 1076.4,133.1 1073.7,133.2 1071.1,133.3 1068.5,133.5 1067.0,133.6 1065.9,133.7 1063.2,134.1 1060.6,134.5 1058.0,135.1 1055.3,135.7 1053.4,136.3 1052.7,136.5 1050.1,137.5 1047.4,138.6 1046.7,138.9 1044.8,139.9 1042.2,141.3 1041.9,141.5 1039.6,143.1 1038.1,144.1 1036.9,145.1 1035.1,146.8 1034.3,147.6 1032.7,149.4 1031.7,150.8 1030.9,152.0 1029.5,154.7 1029.0,155.7 1028.5,157.3 1027.8,159.9 1027.4,162.5 1027.3,165.2 1028.9,167.8 1029.0,168.0 1031.0,170.4 1031.7,171.4 1033.0,173.1 1034.3,175.0 1034.8,175.7 1036.6,178.3 1036.9,178.7 1038.6,180.9 1039.6,182.0 1040.9,183.6 1042.2,184.8 1043.6,186.2 1044.8,187.2 1046.6,188.8 1047.4,189.5 1049.9,191.5 1050.1,191.6 1052.7,193.4 1053.6,194.1 1055.3,195.2 1057.4,196.7 1058.0,197.1 1060.6,198.9 1061.2,199.4 1063.2,200.7 1064.9,202.0 1065.9,202.7 1068.4,204.6 1068.5,204.7 1071.1,206.5 1072.3,207.2 1073.7,208.1 1076.4,209.2 1079.0,209.6 1081.6,209.2 1084.3,208.1 1085.7,207.2 1086.9,206.5 1089.5,204.7 1089.6,204.6 1092.1,202.7 1093.1,202.0 1094.8,200.7 1096.8,199.4 1097.4,198.9 1100.0,197.1 1100.6,196.7 1102.7,195.2 1104.4,194.1 1105.3,193.4 1107.9,191.6 1108.1,191.5 1110.6,189.5 1111.4,188.8 1113.2,187.2 1114.4,186.2 1115.8,184.8 1117.1,183.6 1118.4,182.0 1119.4,180.9 1121.1,178.7 1121.4,178.3 1123.2,175.7 1123.7,175.0 1125.0,173.1 1126.3,171.4 1127.0,170.4 1129.0,168.0 1129.1,167.8 1130.7,165.2 1130.6,162.5 1130.2,159.9 1129.5,157.3 1129.0,155.7 1128.5,154.7 1127.1,152.0 1126.3,150.8 1125.3,149.4 1123.7,147.6 1122.9,146.8 1121.1,145.1 1119.9,144.1 1118.4,143.1 1116.1,141.5 1115.8,141.3 1113.2,139.9 1111.3,138.9 1110.6,138.6 1107.9,137.5 1105.3,136.5 1104.6,136.3 1102.7,135.7 1100.0,135.1 1097.4,134.5 1094.8,134.1 1092.1,133.7 1091.0,133.6 1089.5,133.5Z" stroke="#78ff00"/><path d="M1081.6,225.0 1079.0,224.7 1076.4,225.0 1074.4,225.6 1073.7,225.9 1071.1,227.2 1069.5,228.3 1068.5,228.8 1065.9,230.5 1065.2,230.9 1063.2,232.0 1060.6,233.5 1060.6,233.5 1058.0,234.8 1055.8,236.2 1055.3,236.5 1052.7,238.5 1052.4,238.8 1050.1,241.4 1050.1,241.5 1048.2,244.1 1047.4,245.3 1046.5,246.7 1044.9,249.3 1044.8,249.5 1043.1,251.9 1042.2,253.4 1041.4,254.6 1039.8,257.2 1039.6,257.6 1038.5,259.8 1038.7,262.5 1039.2,265.1 1039.6,266.2 1040.1,267.7 1041.4,270.3 1042.2,271.6 1043.0,273.0 1044.8,275.2 1045.1,275.6 1047.4,278.2 1047.4,278.3 1050.1,280.7 1050.3,280.9 1052.7,282.5 1054.5,283.5 1055.3,283.9 1058.0,284.9 1060.6,285.6 1063.2,286.0 1064.1,286.1 1065.9,286.4 1068.5,286.6 1071.1,286.8 1073.7,286.9 1076.4,287.0 1079.0,287.0 1081.6,287.0 1084.3,286.9 1086.9,286.8 1089.5,286.6 1092.1,286.4 1093.9,286.1 1094.8,286.0 1097.4,285.6 1100.0,284.9 1102.7,283.9 1103.5,283.5 1105.3,282.5 1107.7,280.9 1107.9,280.7 1110.6,278.3 1110.6,278.2 1112.9,275.6 1113.2,275.2 1115.0,273.0 1115.8,271.6 1116.6,270.3 1117.9,267.7 1118.4,266.2 1118.8,265.1 1119.3,262.5 1119.5,259.8 1118.4,257.6 1118.2,257.2 1116.6,254.6 1115.8,253.4 1114.9,251.9 1113.2,249.5 1113.1,249.3 1111.5,246.7 1110.6,245.3 1109.8,244.1 1107.9,241.5 1107.9,241.4 1105.6,238.8 1105.3,238.5 1102.7,236.5 1102.2,236.2 1100.0,234.8 1097.4,233.5 1097.4,233.5 1094.8,232.0 1092.8,230.9 1092.1,230.5 1089.5,228.8 1088.5,228.3 1086.9,227.2 1084.3,225.9 1083.6,225.6 1081.6,225.0Z M1092.1,138.6 1089.5,138.4 1086.9,138.2 1084.3,138.1 1081.6,138.0 1079.0,138.0 1076.4,138.0 1073.7,138.1 1071.1,138.2 1068.5,138.4 1065.9,138.6 1064.1,138.9 1063.2,139.0 1060.6,139.4 1058.0,140.1 1055.3,141.1 1054.5,141.5 1052.7,142.5 1050.3,144.1 1050.1,144.3 1047.4,146.7 1047.4,146.8 1045.1,149.4 1044.8,149.8 1043.0,152.0 1042.2,153.4 1041.4,154.7 1040.1,157.3 1039.6,158.8 1039.2,159.9 1038.7,162.5 1038.5,165.2 1039.6,167.4 1039.8,167.8 1041.4,170.4 1042.2,171.6 1043.1,173.1 1044.8,175.5 1044.9,175.7 1046.5,178.3 1047.4,179.7 1048.2,180.9 1050.1,183.5 1050.1,183.6 1052.4,186.2 1052.7,186.5 1055.3,188.5 1055.8,188.8 1058.0,190.2 1060.6,191.5 1060.6,191.5 1063.2,193.0 1065.2,194.1 1065.9,194.5 1068.5,196.2 1069.5,196.7 1071.1,197.8 1073.7,199.1 1074.4,199.4 1076.4,200.0 1079.0,200.3 1081.6,200.0 1083.6,199.4 1084.3,199.1 1086.9,197.8 1088.5,196.7 1089.5,196.2 1092.1,194.5 1092.8,194.1 1094.8,193.0 1097.4,191.5 1097.4,191.5 1100.0,190.2 1102.2,188.8 1102.7,188.5 1105.3,186.5 1105.6,186.2 1107.9,183.6 1107.9,183.5 1109.8,180.9 1110.6,179.7 1111.5,178.3 1113.1,175.7 1113.2,175.5 1114.9,173.1 1115.8,171.6 1116.6,170.4 1118.2,167.8 1118.4,167.4 1119.5,165.2 1119.3,162.5 1118.8,159.9 1118.4,158.8 1117.9,157.3 1116.6,154.7 1115.8,153.4 1115.0,152.0 1113.2,149.8 1112.9,149.4 1110.6,146.8 1110.6,146.7 1107.9,144.3 1107.7,144.1 1105.3,142.5 1103.5,141.5 1102.7,141.1 1100.0,140.1 1097.4,139.4 1094.8,139.0 1093.9,138.9 1092.1,138.6Z" stroke="#00ff00"/><path d="M1086.9,235.5 1084.3,235.0 1081.6,234.8 1079.0,234.7 1076.4,234.8 1073.7,235.0 1071.1,235.5 1068.6,236.2 1068.5,236.2 1065.9,236.8 1063.2,237.6 1060.6,238.8 1060.6,238.8 1058.0,240.2 1056.3,241.4 1055.3,242.3 1053.7,244.1 1052.7,245.6 1052.0,246.7 1050.8,249.3 1050.1,251.4 1049.8,251.9 1048.9,254.6 1048.4,257.2 1048.1,259.8 1048.3,262.5 1048.5,265.1 1049.0,267.7 1049.8,270.3 1050.1,271.0 1050.7,273.0 1052.1,275.6 1052.7,276.3 1054.3,278.2 1055.3,279.1 1058.0,280.8 1058.1,280.9 1060.6,281.9 1063.2,282.5 1065.9,283.0 1068.5,283.2 1071.1,283.4 1073.7,283.5 1075.5,283.5 1076.4,283.5 1079.0,283.5 1081.6,283.5 1082.5,283.5 1084.3,283.5 1086.9,283.4 1089.5,283.2 1092.1,283.0 1094.8,282.5 1097.4,281.9 1099.9,280.9 1100.0,280.8 1102.7,279.1 1103.7,278.2 1105.3,276.3 1105.9,275.6 1107.3,273.0 1107.9,271.0 1108.2,270.3 1109.0,267.7 1109.5,265.1 1109.7,262.5 1109.9,259.8 1109.6,257.2 1109.1,254.6 1108.2,251.9 1107.9,251.4 1107.2,249.3 1106.0,246.7 1105.3,245.6 1104.3,244.1 1102.7,242.3 1101.7,241.4 1100.0,240.2 1097.4,238.8 1097.4,238.8 1094.8,237.6 1092.1,236.8 1089.5,236.2 1089.4,236.2 1086.9,235.5Z M1081.6,141.5 1079.0,141.5 1076.4,141.5 1075.5,141.5 1073.7,141.5 1071.1,141.6 1068.5,141.8 1065.9,142.0 1063.2,142.5 1060.6,143.1 1058.1,144.1 1058.0,144.2 1055.3,145.9 1054.3,146.8 1052.7,148.7 1052.1,149.4 1050.7,152.0 1050.1,154.0 1049.8,154.7 1049.0,157.3 1048.5,159.9 1048.3,162.5 1048.1,165.2 1048.4,167.8 1048.9,170.4 1049.8,173.1 1050.1,173.6 1050.8,175.7 1052.0,178.3 1052.7,179.4 1053.7,180.9 1055.3,182.7 1056.3,183.6 1058.0,184.8 1060.6,186.2 1060.6,186.2 1063.2,187.4 1065.9,188.2 1068.5,188.8 1068.6,188.8 1071.1,189.5 1073.7,190.0 1076.4,190.2 1079.0,190.3 1081.6,190.2 1084.3,190.0 1086.9,189.5 1089.4,188.8 1089.5,188.8 1092.1,188.2 1094.8,187.4 1097.4,186.2 1097.4,186.2 1100.0,184.8 1101.7,183.6 1102.7,182.7 1104.3,180.9 1105.3,179.4 1106.0,178.3 1107.2,175.7 1107.9,173.6 1108.2,173.1 1109.1,170.4 1109.6,167.8 1109.9,165.2 1109.7,162.5 1109.5,159.9 1109.0,157.3 1108.2,154.7 1107.9,154.0 1107.3,152.0 1105.9,149.4 1105.3,148.7 1103.7,146.8 1102.7,145.9 1100.0,144.2 1099.9,144.1 1097.4,143.1 1094.8,142.5 1092.1,142.0 1089.5,141.8 1086.9,141.6 1084.3,141.5 1082.5,141.5 1081.6,141.5Z" stroke="#00ff00"/><path d="M1094.8,241.2 1092.1,240.3 1089.5,239.8 1086.9,239.4 1084.3,239.1 1081.6,239.0 1079.0,238.9 1076.4,239.0 1073.7,239.1 1071.1,239.4 1068.5,239.8 1065.9,240.3 1063.2,241.2 1062.7,241.4 1060.6,242.4 1058.4,244.1 1058.0,244.4 1056.1,246.7 1055.3,248.2 1054.8,249.3 1053.8,251.9 1053.1,254.6 1052.8,257.2 1052.7,259.8 1052.9,262.5 1053.1,265.1 1053.5,267.7 1054.1,270.3 1055.1,273.0 1055.3,273.4 1056.8,275.6 1058.0,276.7 1060.0,278.2 1060.6,278.5 1063.2,279.5 1065.9,280.1 1068.5,280.5 1071.1,280.7 1073.7,280.8 1076.4,280.8 1079.0,280.8 1081.6,280.8 1084.3,280.8 1086.9,280.7 1089.5,280.5 1092.1,280.1 1094.8,279.5 1097.4,278.5 1098.0,278.2 1100.0,276.7 1101.2,275.6 1102.7,273.4 1102.9,273.0 1103.9,270.3 1104.5,267.7 1104.9,265.1 1105.1,262.5 1105.3,259.8 1105.2,257.2 1104.9,254.6 1104.2,251.9 1103.2,249.3 1102.7,248.2 1101.9,246.7 1100.0,244.4 1099.6,244.1 1097.4,242.4 1095.3,241.4 1094.8,241.2Z M1097.4,146.5 1094.8,145.5 1092.1,144.9 1089.5,144.5 1086.9,144.3 1084.3,144.2 1081.6,144.2 1079.0,144.2 1076.4,144.2 1073.7,144.2 1071.1,144.3 1068.5,144.5 1065.9,144.9 1063.2,145.5 1060.6,146.5 1060.0,146.8 1058.0,148.3 1056.8,149.4 1055.3,151.6 1055.1,152.0 1054.1,154.7 1053.5,157.3 1053.1,159.9 1052.9,162.5 1052.7,165.2 1052.8,167.8 1053.1,170.4 1053.8,173.1 1054.8,175.7 1055.3,176.8 1056.1,178.3 1058.0,180.6 1058.4,180.9 1060.6,182.6 1062.7,183.6 1063.2,183.8 1065.9,184.7 1068.5,185.2 1071.1,185.6 1073.7,185.9 1076.4,186.0 1079.0,186.1 1081.6,186.0 1084.3,185.9 1086.9,185.6 1089.5,185.2 1092.1,184.7 1094.8,183.8 1095.3,183.6 1097.4,182.6 1099.6,180.9 1100.0,180.6 1101.9,178.3 1102.7,176.8 1103.2,175.7 1104.2,173.1 1104.9,170.4 1105.2,167.8 1105.3,165.2 1105.1,162.5 1104.9,159.9 1104.5,157.3 1103.9,154.7 1102.9,152.0 1102.7,151.6 1101.2,149.4 1100.0,148.3 1098.0,146.8 1097.4,146.5Z" stroke="#00ff7f"/><path d="M1092.1,243.4 1089.5,242.8 1086.9,242.3 1084.3,242.1 1081.6,242.0 1079.0,241.9 1076.4,242.0 1073.7,242.1 1071.1,242.3 1068.5,242.8 1065.9,243.4 1064.2,244.1 1063.2,244.5 1060.6,246.4 1060.3,246.7 1058.4,249.3 1058.0,250.1 1057.2,251.9 1056.4,254.6 1056.1,257.2 1056.2,259.8 1056.4,262.5 1056.6,265.1 1057.1,267.7 1057.8,270.3 1058.0,270.7 1059.2,273.0 1060.6,274.6 1061.9,275.6 1063.2,276.3 1065.9,277.2 1068.5,277.8 1071.1,278.0 1073.7,278.2 1076.4,278.2 1076.5,278.2 1079.0,278.2 1081.5,278.2 1081.6,278.2 1084.3,278.2 1086.9,278.0 1089.5,277.8 1092.1,277.2 1094.8,276.3 1096.1,275.6 1097.4,274.6 1098.8,273.0 1100.0,270.7 1100.2,270.3 1100.9,267.7 1101.4,265.1 1101.6,262.5 1101.8,259.8 1101.9,257.2 1101.6,254.6 1100.8,251.9 1100.0,250.1 1099.6,249.3 1097.7,246.7 1097.4,246.4 1094.8,244.5 1093.8,244.1 1092.1,243.4Z M1079.0,146.8 1076.5,146.8 1076.4,146.8 1073.7,146.8 1071.1,147.0 1068.5,147.2 1065.9,147.8 1063.2,148.7 1061.9,149.4 1060.6,150.4 1059.2,152.0 1058.0,154.3 1057.8,154.7 1057.1,157.3 1056.6,159.9 1056.4,162.5 1056.2,165.2 1056.1,167.8 1056.4,170.4 1057.2,173.1 1058.0,174.9 1058.4,175.7 1060.3,178.3 1060.6,178.6 1063.2,180.5 1064.2,180.9 1065.9,181.6 1068.5,182.2 1071.1,182.7 1073.7,182.9 1076.4,183.0 1079.0,183.1 1081.6,183.0 1084.3,182.9 1086.9,182.7 1089.5,182.2 1092.1,181.6 1093.8,180.9 1094.8,180.5 1097.4,178.6 1097.7,178.3 1099.6,175.7 1100.0,174.9 1100.8,173.1 1101.6,170.4 1101.9,167.8 1101.8,165.2 1101.6,162.5 1101.4,159.9 1100.9,157.3 1100.2,154.7 1100.0,154.3 1098.8,152.0 1097.4,150.4 1096.1,149.4 1094.8,148.7 1092.1,147.8 1089.5,147.2 1086.9,147.0 1084.3,146.8 1081.6,146.8 1081.5,146.8 1079.0,146.8Z" stroke="#00eaff"/><path d="M1089.5,245.9 1086.9,245.4 1084.3,245.1 1081.6,244.9 1079.0,244.9 1076.4,244.9 1073.7,245.1 1071.1,245.4 1068.5,245.9 1066.3,246.7 1065.9,246.9 1063.2,248.7 1062.6,249.3 1060.8,251.9 1060.6,252.3 1059.7,254.6 1059.4,257.2 1059.6,259.8 1059.9,262.5 1060.3,265.1 1060.6,266.7 1060.9,267.7 1062.1,270.3 1063.2,271.8 1064.6,273.0 1065.9,273.6 1068.5,274.5 1071.1,274.9 1073.7,275.2 1076.4,275.3 1079.0,275.3 1081.6,275.3 1084.3,275.2 1086.9,274.9 1089.5,274.5 1092.1,273.6 1093.4,273.0 1094.8,271.8 1095.9,270.3 1097.1,267.7 1097.4,266.7 1097.7,265.1 1098.1,262.5 1098.4,259.8 1098.6,257.2 1098.3,254.6 1097.4,252.3 1097.2,251.9 1095.4,249.3 1094.8,248.7 1092.1,246.9 1091.7,246.7 1089.5,245.9Z M1092.1,151.4 1089.5,150.5 1086.9,150.1 1084.3,149.8 1081.6,149.7 1079.0,149.7 1076.4,149.7 1073.7,149.8 1071.1,150.1 1068.5,150.5 1065.9,151.4 1064.6,152.0 1063.2,153.2 1062.1,154.7 1060.9,157.3 1060.6,158.3 1060.3,159.9 1059.9,162.5 1059.6,165.2 1059.4,167.8 1059.7,170.4 1060.6,172.7 1060.8,173.1 1062.6,175.7 1063.2,176.3 1065.9,178.1 1066.3,178.3 1068.5,179.1 1071.1,179.6 1073.7,179.9 1076.4,180.1 1079.0,180.1 1081.6,180.1 1084.3,179.9 1086.9,179.6 1089.5,179.1 1091.7,178.3 1092.1,178.1 1094.8,176.3 1095.4,175.7 1097.2,173.1 1097.4,172.7 1098.3,170.4 1098.6,167.8 1098.4,165.2 1098.1,162.5 1097.7,159.9 1097.4,158.3 1097.1,157.3 1095.9,154.7 1094.8,153.2 1093.4,152.0 1092.1,151.4Z" stroke="#0063ff"/><path d="M1086.9,249.2 1084.3,248.7 1081.6,248.5 1079.0,248.4 1076.4,248.5 1073.7,248.7 1071.1,249.2 1070.6,249.3 1068.5,250.1 1065.9,251.8 1065.7,251.9 1063.8,254.6 1063.3,257.2 1063.8,259.8 1064.6,262.5 1065.3,265.1 1065.9,266.4 1066.8,267.7 1068.5,269.2 1070.9,270.3 1071.1,270.4 1073.7,270.8 1076.4,271.0 1079.0,271.0 1081.6,271.0 1084.3,270.8 1086.9,270.4 1087.1,270.3 1089.5,269.2 1091.2,267.7 1092.1,266.4 1092.7,265.1 1093.4,262.5 1094.2,259.8 1094.7,257.2 1094.2,254.6 1092.3,251.9 1092.1,251.8 1089.5,250.1 1087.4,249.3 1086.9,249.2Z M1086.9,154.6 1084.3,154.2 1081.6,154.0 1079.0,154.0 1076.4,154.0 1073.7,154.2 1071.1,154.6 1070.9,154.7 1068.5,155.8 1066.8,157.3 1065.9,158.6 1065.3,159.9 1064.6,162.5 1063.8,165.2 1063.3,167.8 1063.8,170.4 1065.7,173.1 1065.9,173.2 1068.5,174.9 1070.6,175.7 1071.1,175.8 1073.7,176.3 1076.4,176.5 1079.0,176.6 1081.6,176.5 1084.3,176.3 1086.9,175.8 1087.4,175.7 1089.5,174.9 1092.1,173.2 1092.3,173.1 1094.2,170.4 1094.7,167.8 1094.2,165.2 1093.4,162.5 1092.7,159.9 1092.1,158.6 1091.2,157.3 1089.5,155.8 1087.1,154.7 1086.9,154.6Z" stroke="#1700ff"/><path d="M1086.9,254.4 1084.3,253.4 1081.6,252.9 1079.0,252.8 1076.4,252.9 1073.7,253.4 1071.1,254.4 1070.8,254.6 1069.9,257.2 1071.1,259.1 1071.8,259.8 1073.7,261.4 1076.4,262.4 1077.3,262.5 1079.0,262.6 1080.7,262.5 1081.6,262.4 1084.3,261.4 1086.2,259.8 1086.9,259.1 1088.1,257.2 1087.2,254.6 1086.9,254.4Z M1079.0,162.4 1077.3,162.5 1076.4,162.6 1073.7,163.6 1071.8,165.2 1071.1,165.9 1069.9,167.8 1070.8,170.4 1071.1,170.6 1073.7,171.6 1076.4,172.1 1079.0,172.2 1081.6,172.1 1084.3,171.6 1086.9,170.6 1087.2,170.4 1088.1,167.8 1086.9,165.9 1086.2,165.2 1084.3,163.6 1081.6,162.6 1080.7,162.5 1079.0,162.4Z" stroke="#6e00ff"/></g><g fill="none" stroke-width="2.4" stroke-linejoin="round" stroke-linecap="round"><path d="M1061.0,94.7 1055.3,99.5 1054.7,101.7 1059.1,103.6 1065.5,102.7 1070.0,100.4 1079.5,100.1 1089.1,100.1 1094.2,102.3 1098.6,103.6 1103.1,102.3 1103.7,99.5 1097.4,94.4" stroke="#ff1010"/><path d="M1061.0,330.3 1055.3,325.5 1054.7,323.3 1059.1,321.4 1065.5,322.3 1070.0,324.6 1079.5,324.9 1089.1,324.9 1094.2,322.7 1098.6,321.4 1103.1,322.7 1103.7,325.5 1097.4,330.6" stroke="#ff1010"/></g></g><rect x="951.2" y="85.4" width="256.5" height="255.1" fill="none" stroke="#111" stroke-width="1.8"/><path d="M936.2 337.7H951.2 M953.8 340.5V355.5 M936.2 275.1H951.2 M1016.4 340.5V355.5 M936.2 212.5H951.2 M1079.0 340.5V355.5 M936.2 149.9H951.2 M1141.6 340.5V355.5 M936.2 87.3H951.2 M1204.2 340.5V355.5" stroke="#111" stroke-width="1.9" fill="none"/><text x="929.6" y="344.6" font-size="19.8" text-anchor="end">−4</text><text x="951.4" y="381.9" font-size="19.8" text-anchor="middle">−4</text><text x="929.6" y="282.0" font-size="19.8" text-anchor="end">−2</text><text x="1014.0" y="381.9" font-size="19.8" text-anchor="middle">−2</text><text x="929.6" y="219.4" font-size="19.8" text-anchor="end">0</text><text x="1079.5" y="381.9" font-size="19.8" text-anchor="middle">0</text><text x="929.6" y="156.8" font-size="19.8" text-anchor="end">2</text><text x="1142.1" y="381.9" font-size="19.8" text-anchor="middle">2</text><text x="929.6" y="94.2" font-size="19.8" text-anchor="end">4</text><text x="1204.7" y="381.9" font-size="19.8" text-anchor="middle">4</text><text x="977.0" y="413.5" font-size="19.8">momentum (10</text><text x="1112.5" y="400.5" font-size="14.4">5</text><text x="1125.4" y="413.5" font-size="19.8" font-style="italic">u</text><text x="1141.5" y="413.5" font-size="19.8">m/s)</text><g transform="translate(884.5 312.5) rotate(-90)"><text x="-1.4" y="0.0" font-size="19.8">momentum (10</text><text x="134.1" y="-13.0" font-size="14.4">5</text><text x="147.0" y="0.0" font-size="19.8" font-style="italic">u</text><text x="163.1" y="0.0" font-size="19.8">m/s)</text></g><rect x="952.2" y="86.4" width="100.5" height="42.5" fill="#fff"/><text x="959.0" y="122.4" font-size="27.0">(c)</text><text x="996.5" y="104.5" font-size="17.4">35</text><text x="1017.3" y="122.4" font-size="27.0">Cl</text><text x="1042.3" y="104.9" font-size="18.0">+</text><rect x="1216.9" y="92.3" width="6.3" height="75.3" fill="url(#cbg)" stroke="#111" stroke-width="1.6"/><path d="M1224.0 95.7H1229.5" stroke="#111" stroke-width="1.9"/><text x="1236.5" y="102.8" font-size="18.4">4</text><path d="M1224.0 126.3H1229.5" stroke="#111" stroke-width="1.9"/><text x="1236.5" y="133.4" font-size="18.4">2</text><path d="M1224.0 156.9H1229.5" stroke="#111" stroke-width="1.9"/><text x="1236.5" y="164.0" font-size="18.4">0</text><g transform="translate(1223.6 180.2) rotate(90)"><text x="0.0" y="0.0" font-size="20.0">×10</text><text x="28.0" y="-13.6" font-size="15.0">−4</text></g><path d="M227.6 489.2V743.0 M163.2 678.7H417.9 M290.1 489.2V743.0 M163.2 616.2H417.9 M352.6 489.2V743.0 M163.2 553.7H417.9" stroke="#a4a4ff" stroke-width="1.3" stroke-dasharray="2.6 2.6" fill="none"/><clipPath id="cpd"><rect x="162.2" y="488.2" width="256.7" height="255.8"/></clipPath><g clip-path="url(#cpd)"><g fill="none" stroke-width="2.4" stroke-linejoin="round" stroke-linecap="round"><path d="M295.3,534.4 292.7,534.4 290.1,534.5 287.5,534.4 284.8,534.4 282.8,534.8 282.2,535.0 279.6,535.6 277.0,535.6 274.3,536.4 272.5,537.5 271.7,537.8 269.1,538.4 266.5,539.9 266.0,540.1 263.8,540.6 261.2,541.8 260.1,542.7 258.6,543.7 256.0,545.0 255.7,545.3 253.3,547.6 252.7,548.0 250.7,549.4 249.7,550.6 248.1,552.1 246.7,553.2 245.5,554.5 244.5,555.8 242.8,557.4 241.7,558.5 240.2,560.8 240.0,561.1 237.6,563.6 237.5,563.7 236.2,566.3 235.0,568.0 234.2,569.0 233.2,571.6 232.3,573.8 232.1,574.2 230.8,576.8 230.1,579.5 229.7,580.1 228.5,582.1 227.7,584.7 227.1,587.3 227.1,587.3 226.3,590.0 225.9,592.6 225.1,595.2 224.5,596.7 224.1,597.8 224.4,600.5 224.2,603.1 223.3,605.7 223.2,608.3 223.4,611.0 223.1,613.6 222.9,616.2 223.1,618.8 223.4,621.5 223.2,624.1 223.3,626.7 224.2,629.3 224.4,632.0 224.1,634.6 224.5,635.7 225.1,637.2 225.9,639.8 226.3,642.5 227.1,645.1 227.1,645.1 227.7,647.7 228.5,650.3 229.7,652.3 230.1,653.0 230.8,655.6 232.1,658.2 232.3,658.6 233.2,660.8 234.2,663.5 235.0,664.4 236.2,666.1 237.5,668.7 237.6,668.8 240.0,671.3 240.2,671.6 241.7,674.0 242.8,675.0 244.5,676.6 245.5,677.9 246.7,679.2 248.1,680.3 249.7,681.8 250.7,683.0 252.7,684.5 253.3,684.8 255.7,687.1 256.0,687.4 258.6,688.7 260.1,689.7 261.2,690.6 263.8,691.8 266.0,692.3 266.5,692.5 269.1,694.0 271.7,694.6 272.5,695.0 274.3,696.0 277.0,696.8 279.6,696.8 282.2,697.4 282.8,697.6 284.8,698.0 287.5,698.0 290.1,697.9 292.7,698.0 295.3,698.0 297.4,697.6 298.0,697.4 300.6,696.8 303.2,696.8 305.8,696.0 307.7,695.0 308.5,694.6 311.1,694.0 313.7,692.5 314.2,692.3 316.3,691.8 319.0,690.6 320.1,689.7 321.6,688.7 324.2,687.4 324.5,687.1 326.8,684.8 327.5,684.5 329.5,683.0 330.5,681.8 332.1,680.3 333.5,679.2 334.7,677.9 335.7,676.6 337.3,675.0 338.5,674.0 340.0,671.6 340.2,671.3 342.6,668.8 342.7,668.7 344.0,666.1 345.2,664.4 346.0,663.5 347.0,660.8 347.8,658.6 348.1,658.2 349.4,655.6 350.1,653.0 350.5,652.3 351.7,650.3 352.5,647.7 353.1,645.1 353.1,645.1 353.9,642.5 354.3,639.8 355.1,637.2 355.7,635.7 356.1,634.6 355.8,632.0 356.0,629.3 356.9,626.7 357.0,624.1 356.8,621.5 357.1,618.8 357.3,616.2 357.1,613.6 356.8,611.0 357.0,608.3 356.9,605.7 356.0,603.1 355.8,600.5 356.1,597.8 355.7,596.7 355.1,595.2 354.3,592.6 353.9,590.0 353.1,587.3 353.1,587.3 352.5,584.7 351.7,582.1 350.5,580.1 350.1,579.5 349.4,576.8 348.1,574.2 347.8,573.8 347.0,571.6 346.0,569.0 345.2,568.0 344.0,566.3 342.7,563.7 342.6,563.6 340.2,561.1 340.0,560.8 338.5,558.5 337.3,557.4 335.7,555.8 334.7,554.5 333.5,553.2 332.1,552.1 330.5,550.6 329.5,549.4 327.5,548.0 326.8,547.6 324.5,545.3 324.2,545.0 321.6,543.7 320.1,542.7 319.0,541.8 316.3,540.6 314.2,540.1 313.7,539.9 311.1,538.4 308.5,537.8 307.7,537.5 305.8,536.4 303.2,535.6 300.6,535.6 298.0,535.0 297.4,534.8 295.3,534.4Z" stroke="#ff3a00"/><path d="M292.7,539.9 290.1,539.5 287.5,539.9 286.9,540.1 284.8,540.5 282.2,540.1 279.6,540.5 277.0,541.8 274.3,542.3 271.7,542.6 271.6,542.7 269.1,544.0 266.5,544.7 265.5,545.3 263.8,546.6 261.5,548.0 261.2,548.1 258.6,550.0 258.0,550.6 256.0,551.7 253.9,553.2 253.3,553.8 251.0,555.8 250.7,556.0 248.4,558.5 248.1,558.9 245.6,561.1 245.5,561.2 243.8,563.7 242.8,565.1 241.6,566.3 240.2,568.7 240.1,569.0 238.3,571.6 237.6,572.5 236.7,574.2 235.6,576.8 235.0,577.8 234.1,579.5 233.8,582.1 232.9,584.7 232.3,585.7 231.7,587.3 231.1,590.0 229.9,592.6 229.9,595.2 229.9,597.8 229.7,598.2 228.7,600.5 228.2,603.1 228.4,605.7 228.1,608.3 227.6,611.0 227.6,613.6 227.9,616.2 227.6,618.8 227.6,621.5 228.1,624.1 228.4,626.7 228.2,629.3 228.7,632.0 229.7,634.2 229.9,634.6 229.9,637.2 229.9,639.8 231.1,642.5 231.7,645.1 232.3,646.7 232.9,647.7 233.8,650.3 234.1,653.0 235.0,654.6 235.6,655.6 236.7,658.2 237.6,659.9 238.3,660.8 240.1,663.5 240.2,663.7 241.6,666.1 242.8,667.3 243.8,668.7 245.5,671.2 245.6,671.3 248.1,673.5 248.4,674.0 250.7,676.4 251.0,676.6 253.3,678.6 253.9,679.2 256.0,680.7 258.0,681.8 258.6,682.4 261.2,684.3 261.5,684.5 263.8,685.8 265.5,687.1 266.5,687.7 269.1,688.4 271.6,689.7 271.7,689.8 274.3,690.1 277.0,690.6 279.6,691.9 282.2,692.3 284.8,691.9 286.9,692.3 287.5,692.5 290.1,692.9 292.7,692.5 293.3,692.3 295.3,691.9 298.0,692.3 300.6,691.9 303.2,690.6 305.8,690.1 308.5,689.8 308.6,689.7 311.1,688.4 313.7,687.7 314.7,687.1 316.3,685.8 318.7,684.5 319.0,684.3 321.6,682.4 322.2,681.8 324.2,680.7 326.3,679.2 326.8,678.6 329.2,676.6 329.5,676.4 331.8,674.0 332.1,673.5 334.6,671.3 334.7,671.2 336.4,668.7 337.3,667.3 338.6,666.1 340.0,663.7 340.1,663.5 341.9,660.8 342.6,659.9 343.5,658.2 344.6,655.6 345.2,654.6 346.1,653.0 346.4,650.3 347.3,647.7 347.8,646.7 348.5,645.1 349.1,642.5 350.3,639.8 350.3,637.2 350.3,634.6 350.5,634.2 351.5,632.0 352.0,629.3 351.8,626.7 352.1,624.1 352.6,621.5 352.6,618.8 352.3,616.2 352.6,613.6 352.6,611.0 352.1,608.3 351.8,605.7 352.0,603.1 351.5,600.5 350.5,598.2 350.3,597.8 350.3,595.2 350.3,592.6 349.1,590.0 348.5,587.3 347.8,585.7 347.3,584.7 346.4,582.1 346.1,579.5 345.2,577.8 344.6,576.8 343.5,574.2 342.6,572.5 341.9,571.6 340.1,569.0 340.0,568.7 338.6,566.3 337.3,565.1 336.4,563.7 334.7,561.2 334.6,561.1 332.1,558.9 331.8,558.5 329.5,556.0 329.2,555.8 326.8,553.8 326.3,553.2 324.2,551.7 322.2,550.6 321.6,550.0 319.0,548.1 318.7,548.0 316.3,546.6 314.7,545.3 313.7,544.7 311.1,544.0 308.6,542.7 308.5,542.6 305.8,542.3 303.2,541.8 300.6,540.5 298.0,540.1 295.3,540.5 293.3,540.1 292.7,539.9Z" stroke="#ff8000"/><path d="M295.3,544.8 292.7,545.0 291.2,545.3 290.1,545.5 289.0,545.3 287.5,545.0 284.8,544.8 283.5,545.3 282.2,545.8 279.6,546.3 277.0,546.3 274.3,547.3 273.0,548.0 271.7,548.3 269.1,549.4 267.4,550.6 266.5,551.1 263.8,551.9 261.9,553.2 261.2,553.7 258.6,555.0 257.3,555.8 256.0,557.2 254.4,558.5 253.3,559.1 251.4,561.1 250.7,562.0 248.8,563.7 248.1,564.3 246.8,566.3 245.5,568.3 244.8,569.0 243.3,571.6 242.8,573.0 242.3,574.2 240.6,576.8 240.2,577.8 239.7,579.5 238.0,582.1 237.6,583.3 237.2,584.7 236.8,587.3 235.8,590.0 235.5,592.6 235.0,594.2 234.6,595.2 233.7,597.8 233.7,600.5 233.5,603.1 232.6,605.7 232.4,608.3 232.7,611.0 232.4,613.6 232.3,613.9 232.1,616.2 232.3,618.5 232.4,618.8 232.7,621.5 232.4,624.1 232.6,626.7 233.5,629.3 233.7,632.0 233.7,634.6 234.6,637.2 235.0,638.2 235.5,639.8 235.8,642.5 236.8,645.1 237.2,647.7 237.6,649.1 238.0,650.3 239.7,653.0 240.2,654.6 240.6,655.6 242.3,658.2 242.8,659.4 243.3,660.8 244.8,663.5 245.5,664.1 246.8,666.1 248.1,668.1 248.8,668.7 250.7,670.4 251.4,671.3 253.3,673.3 254.4,674.0 256.0,675.2 257.3,676.6 258.6,677.4 261.2,678.7 261.9,679.2 263.8,680.5 266.5,681.3 267.4,681.8 269.1,683.0 271.7,684.1 273.0,684.5 274.3,685.1 277.0,686.1 279.6,686.1 282.2,686.6 283.5,687.1 284.8,687.6 287.5,687.4 289.0,687.1 290.1,686.9 291.2,687.1 292.7,687.4 295.3,687.6 296.7,687.1 298.0,686.6 300.6,686.1 303.2,686.1 305.8,685.1 307.2,684.5 308.5,684.1 311.1,683.0 312.8,681.8 313.7,681.3 316.3,680.5 318.3,679.2 319.0,678.7 321.6,677.4 322.9,676.6 324.2,675.2 325.8,674.0 326.8,673.3 328.8,671.3 329.5,670.4 331.4,668.7 332.1,668.1 333.4,666.1 334.7,664.1 335.4,663.5 336.9,660.8 337.3,659.4 337.9,658.2 339.6,655.6 340.0,654.6 340.5,653.0 342.2,650.3 342.6,649.1 343.0,647.7 343.4,645.1 344.4,642.5 344.7,639.8 345.2,638.2 345.6,637.2 346.5,634.6 346.5,632.0 346.7,629.3 347.6,626.7 347.8,624.1 347.5,621.5 347.8,618.8 347.8,618.5 348.1,616.2 347.8,613.9 347.8,613.6 347.5,611.0 347.8,608.3 347.6,605.7 346.7,603.1 346.5,600.5 346.5,597.8 345.6,595.2 345.2,594.2 344.7,592.6 344.4,590.0 343.4,587.3 343.0,584.7 342.6,583.3 342.2,582.1 340.5,579.5 340.0,577.8 339.6,576.8 337.9,574.2 337.3,573.0 336.9,571.6 335.4,569.0 334.7,568.3 333.4,566.3 332.1,564.3 331.4,563.7 329.5,562.0 328.8,561.1 326.8,559.1 325.8,558.5 324.2,557.2 322.9,555.8 321.6,555.0 319.0,553.7 318.3,553.2 316.3,551.9 313.7,551.1 312.8,550.6 311.1,549.4 308.5,548.3 307.2,548.0 305.8,547.3 303.2,546.3 300.6,546.3 298.0,545.8 296.7,545.3 295.3,544.8Z" stroke="#ffc500"/><path d="M300.6,550.2 298.0,549.8 295.3,550.1 292.7,549.5 290.1,549.2 287.5,549.5 284.8,550.1 282.2,549.8 279.6,550.2 278.8,550.6 277.0,551.4 274.3,552.0 271.7,552.9 271.2,553.2 269.1,554.0 266.5,554.9 265.2,555.8 263.8,556.8 261.2,558.2 260.9,558.5 258.6,560.6 258.1,561.1 256.0,562.5 254.8,563.7 253.3,565.4 252.4,566.3 250.7,567.9 250.0,569.0 248.1,571.6 248.1,571.6 246.3,574.2 245.5,576.0 245.0,576.8 243.5,579.5 243.1,582.1 242.8,582.9 242.1,584.7 241.0,587.3 240.4,590.0 240.2,590.3 239.3,592.6 239.0,595.2 238.8,597.8 237.8,600.5 237.6,601.4 237.3,603.1 237.6,605.7 237.2,608.3 236.7,611.0 236.6,613.6 236.8,616.2 236.6,618.8 236.7,621.5 237.2,624.1 237.6,626.7 237.3,629.3 237.6,631.0 237.8,632.0 238.8,634.6 239.0,637.2 239.3,639.8 240.2,642.1 240.4,642.5 241.0,645.1 242.1,647.7 242.8,649.5 243.1,650.3 243.5,653.0 245.0,655.6 245.5,656.4 246.3,658.2 248.1,660.8 248.1,660.8 250.0,663.5 250.7,664.5 252.4,666.1 253.3,667.0 254.8,668.7 256.0,669.9 258.1,671.3 258.6,671.8 260.9,674.0 261.2,674.2 263.8,675.6 265.2,676.6 266.5,677.5 269.1,678.4 271.2,679.2 271.7,679.5 274.3,680.4 277.0,681.0 278.8,681.8 279.6,682.2 282.2,682.6 284.8,682.3 287.5,682.9 290.1,683.2 292.7,682.9 295.3,682.3 298.0,682.6 300.6,682.2 301.4,681.8 303.2,681.0 305.8,680.4 308.5,679.5 309.0,679.2 311.1,678.4 313.7,677.5 315.0,676.6 316.3,675.6 319.0,674.2 319.3,674.0 321.6,671.8 322.1,671.3 324.2,669.9 325.4,668.7 326.8,667.0 327.8,666.1 329.5,664.5 330.2,663.5 332.1,660.8 332.1,660.8 333.9,658.2 334.7,656.4 335.2,655.6 336.7,653.0 337.1,650.3 337.3,649.5 338.1,647.7 339.2,645.1 339.8,642.5 340.0,642.1 340.9,639.8 341.2,637.2 341.4,634.6 342.4,632.0 342.6,631.0 342.9,629.3 342.6,626.7 343.0,624.1 343.5,621.5 343.6,618.8 343.4,616.2 343.6,613.6 343.5,611.0 343.0,608.3 342.6,605.7 342.9,603.1 342.6,601.4 342.4,600.5 341.4,597.8 341.2,595.2 340.9,592.6 340.0,590.3 339.8,590.0 339.2,587.3 338.1,584.7 337.3,582.9 337.1,582.1 336.7,579.5 335.2,576.8 334.7,576.0 333.9,574.2 332.1,571.6 332.1,571.6 330.2,569.0 329.5,567.9 327.8,566.3 326.8,565.4 325.4,563.7 324.2,562.5 322.1,561.1 321.6,560.6 319.3,558.5 319.0,558.2 316.3,556.8 315.0,555.8 313.7,554.9 311.1,554.0 309.0,553.2 308.5,552.9 305.8,552.0 303.2,551.4 301.4,550.6 300.6,550.2Z" stroke="#f1ff00"/><path d="M305.8,555.8 303.2,554.9 300.6,554.7 298.0,554.1 295.3,553.5 292.7,553.4 290.1,553.5 287.5,553.4 284.8,553.5 282.2,554.1 279.6,554.7 277.0,554.9 274.3,555.8 274.3,555.8 271.7,557.1 269.1,558.1 268.6,558.5 266.5,559.8 263.8,561.0 263.7,561.1 261.2,563.2 260.5,563.7 258.6,564.8 257.0,566.3 256.0,567.7 254.6,569.0 253.3,570.2 252.5,571.6 251.0,574.2 250.7,574.5 249.4,576.8 248.5,579.5 248.1,580.1 246.9,582.1 246.1,584.7 245.5,586.8 245.3,587.3 244.5,590.0 244.2,592.6 243.2,595.2 242.8,596.4 242.4,597.8 242.6,600.5 242.3,603.1 241.4,605.7 241.1,608.3 240.8,611.0 240.8,613.6 240.8,616.2 240.8,618.8 240.8,621.5 241.1,624.1 241.4,626.7 242.3,629.3 242.6,632.0 242.4,634.6 242.8,636.0 243.2,637.2 244.2,639.8 244.5,642.5 245.3,645.1 245.5,645.6 246.1,647.7 246.9,650.3 248.1,652.3 248.5,653.0 249.4,655.6 250.7,657.9 251.0,658.2 252.5,660.8 253.3,662.2 254.6,663.5 256.0,664.7 257.0,666.1 258.6,667.6 260.5,668.7 261.2,669.2 263.7,671.3 263.8,671.4 266.5,672.6 268.6,674.0 269.1,674.3 271.7,675.3 274.3,676.6 274.3,676.6 277.0,677.5 279.6,677.7 282.2,678.3 284.8,678.9 287.5,679.0 290.1,678.9 292.7,679.0 295.3,678.9 298.0,678.3 300.6,677.7 303.2,677.5 305.8,676.6 305.9,676.6 308.5,675.3 311.1,674.3 311.6,674.0 313.7,672.6 316.3,671.4 316.5,671.3 319.0,669.2 319.7,668.7 321.6,667.6 323.2,666.1 324.2,664.7 325.6,663.5 326.8,662.2 327.7,660.8 329.2,658.2 329.5,657.9 330.8,655.6 331.7,653.0 332.1,652.3 333.3,650.3 334.1,647.7 334.7,645.6 334.9,645.1 335.7,642.5 336.0,639.8 337.0,637.2 337.3,636.0 337.8,634.6 337.6,632.0 337.9,629.3 338.7,626.7 339.1,624.1 339.3,621.5 339.4,618.8 339.4,616.2 339.4,613.6 339.3,611.0 339.1,608.3 338.7,605.7 337.9,603.1 337.6,600.5 337.8,597.8 337.3,596.4 337.0,595.2 336.0,592.6 335.7,590.0 334.9,587.3 334.7,586.8 334.1,584.7 333.3,582.1 332.1,580.1 331.7,579.5 330.8,576.8 329.5,574.5 329.2,574.2 327.7,571.6 326.8,570.2 325.6,569.0 324.2,567.7 323.2,566.3 321.6,564.8 319.7,563.7 319.0,563.2 316.5,561.1 316.3,561.0 313.7,559.8 311.6,558.5 311.1,558.1 308.5,557.1 305.9,555.8 305.8,555.8Z M269.4,616.2 269.1,617.0 266.5,617.7 265.8,616.2 266.5,614.7 269.1,615.4 269.4,616.2Z M321.9,616.2 321.6,616.7 320.3,616.2 321.6,615.7 321.9,616.2Z" stroke="#9cff00"/><path d="M303.2,558.4 300.6,557.5 298.0,556.9 295.3,556.2 292.7,556.3 290.1,556.5 287.5,556.3 284.8,556.2 282.2,556.9 279.6,557.5 277.0,558.4 276.8,558.5 274.3,559.1 271.7,559.8 269.5,561.1 269.1,561.3 266.5,562.7 264.9,563.7 263.8,564.6 261.7,566.3 261.2,566.6 258.8,569.0 258.6,569.2 256.1,571.6 256.0,571.7 254.3,574.2 253.3,575.8 252.5,576.8 251.1,579.5 250.7,581.4 250.5,582.1 248.9,584.7 248.6,587.3 248.1,588.9 247.6,590.0 246.7,592.6 246.0,595.2 245.5,597.5 245.4,597.8 245.3,600.5 245.1,603.1 244.2,605.7 243.6,608.3 243.5,611.0 243.2,613.6 242.9,616.2 243.2,618.8 243.5,621.5 243.6,624.1 244.2,626.7 245.1,629.3 245.3,632.0 245.4,634.6 245.5,634.9 246.0,637.2 246.7,639.8 247.6,642.5 248.1,643.5 248.6,645.1 248.9,647.7 250.5,650.3 250.7,651.0 251.1,653.0 252.5,655.6 253.3,656.6 254.3,658.2 256.0,660.7 256.1,660.8 258.6,663.2 258.8,663.5 261.2,665.8 261.7,666.1 263.8,667.8 264.9,668.7 266.5,669.7 269.1,671.1 269.5,671.3 271.7,672.6 274.3,673.3 276.8,674.0 277.0,674.0 279.6,674.9 282.2,675.5 284.8,676.2 287.5,676.1 290.1,675.9 292.7,676.1 295.3,676.2 298.0,675.5 300.6,674.9 303.2,674.0 303.4,674.0 305.8,673.3 308.5,672.6 310.7,671.3 311.1,671.1 313.7,669.7 315.3,668.7 316.3,667.8 318.5,666.1 319.0,665.8 321.4,663.5 321.6,663.2 324.1,660.8 324.2,660.7 325.9,658.2 326.8,656.6 327.7,655.6 329.1,653.0 329.5,651.0 329.7,650.3 331.3,647.7 331.6,645.1 332.1,643.6 332.7,642.5 333.7,639.8 334.3,637.2 334.7,634.6 334.7,632.0 334.7,631.3 335.0,629.3 336.0,626.7 336.6,624.1 336.7,621.5 337.0,618.8 337.3,616.6 337.4,616.2 337.3,615.8 337.0,613.6 336.7,611.0 336.6,608.3 336.0,605.7 335.0,603.1 334.7,601.1 334.7,600.5 334.7,597.8 334.3,595.2 333.7,592.6 332.7,590.0 332.1,588.8 331.6,587.3 331.3,584.7 329.7,582.1 329.5,581.4 329.1,579.5 327.7,576.8 326.8,575.8 325.9,574.2 324.2,571.7 324.1,571.6 321.6,569.2 321.4,569.0 319.0,566.6 318.5,566.3 316.3,564.6 315.3,563.7 313.7,562.7 311.1,561.3 310.7,561.1 308.5,559.8 305.8,559.1 303.4,558.5 303.2,558.4Z M266.5,608.3 267.7,611.0 269.1,611.8 271.2,613.6 271.7,616.2 271.2,618.8 269.1,620.6 267.7,621.5 266.5,624.1 266.5,624.1 263.8,625.3 262.4,624.1 261.2,622.7 260.5,621.5 258.6,619.2 257.9,618.8 256.0,617.4 255.4,616.2 256.0,615.0 257.9,613.6 258.6,613.2 260.5,611.0 261.2,609.7 262.4,608.3 263.8,607.1 266.5,608.3 266.5,608.3Z M317.2,608.3 319.0,610.8 319.1,611.0 321.6,613.0 322.6,613.6 324.2,616.2 322.6,618.8 321.6,619.4 319.1,621.5 319.0,621.6 317.2,624.1 316.3,625.3 313.7,626.0 312.5,624.1 311.5,621.5 311.1,620.9 308.5,618.9 308.4,618.8 307.4,616.2 308.4,613.6 308.5,613.5 311.1,611.5 311.5,611.0 312.5,608.3 313.7,606.4 316.3,607.1 317.2,608.3Z" stroke="#55ff00"/><path d="M298.0,558.1 295.3,557.7 292.7,557.6 290.1,557.6 287.5,557.6 284.8,557.7 282.2,558.0 280.6,558.5 279.6,558.6 277.0,559.5 274.3,560.4 272.3,561.1 271.7,561.2 269.1,562.6 267.0,563.7 266.5,563.9 263.8,566.2 263.7,566.3 261.2,568.0 260.2,569.0 258.6,570.8 257.8,571.6 256.0,573.6 255.6,574.2 253.8,576.8 253.3,577.7 252.2,579.5 251.5,582.1 250.7,583.8 250.1,584.7 249.5,587.3 248.9,590.0 248.1,591.5 247.7,592.6 247.1,595.2 246.5,597.8 246.1,600.5 246.1,603.1 245.8,605.7 245.5,606.1 244.8,608.3 244.4,611.0 244.1,613.6 243.8,616.2 244.1,618.8 244.4,621.5 244.8,624.1 245.5,626.3 245.8,626.7 246.1,629.3 246.1,632.0 246.5,634.6 247.1,637.2 247.7,639.8 248.1,640.9 248.9,642.5 249.5,645.1 250.1,647.7 250.7,648.6 251.5,650.3 252.2,653.0 253.3,654.7 253.8,655.6 255.6,658.2 256.0,658.8 257.8,660.8 258.6,661.6 260.2,663.5 261.2,664.4 263.7,666.1 263.8,666.2 266.5,668.5 267.0,668.7 269.1,669.8 271.7,671.2 272.3,671.3 274.3,672.0 277.0,672.9 279.6,673.8 280.6,674.0 282.2,674.4 284.8,674.7 287.5,674.8 290.1,674.8 292.7,674.8 295.3,674.7 298.0,674.3 299.6,674.0 300.6,673.8 303.2,672.9 305.8,672.0 308.0,671.3 308.5,671.2 311.1,669.7 313.2,668.7 313.7,668.5 316.3,666.2 316.5,666.1 319.0,664.4 320.0,663.5 321.6,661.6 322.4,660.8 324.2,658.8 324.6,658.2 326.3,655.6 326.8,654.7 327.9,653.0 328.7,650.3 329.5,648.6 330.1,647.7 330.7,645.1 331.4,642.5 332.1,641.4 332.8,639.8 333.3,637.2 333.6,634.6 333.7,632.0 333.9,629.3 334.7,626.8 334.8,626.7 335.7,624.1 335.9,621.5 336.0,618.8 336.3,616.2 336.0,613.6 335.9,611.0 335.7,608.3 334.8,605.7 334.7,605.6 333.9,603.1 333.7,600.5 333.6,597.8 333.3,595.2 332.8,592.6 332.1,591.0 331.4,590.0 330.7,587.3 330.1,584.7 329.5,583.8 328.7,582.1 327.9,579.5 326.8,577.7 326.3,576.8 324.6,574.2 324.2,573.6 322.4,571.6 321.6,570.8 320.0,569.0 319.0,568.0 316.5,566.3 316.3,566.2 313.7,563.9 313.2,563.7 311.1,562.7 308.5,561.2 308.0,561.1 305.8,560.4 303.2,559.5 300.6,558.6 299.6,558.5 298.0,558.1Z M315.9,605.7 316.3,605.8 318.1,608.3 319.0,609.6 320.1,611.0 321.6,612.1 323.9,613.6 324.2,614.1 324.9,616.2 324.2,618.3 323.9,618.8 321.6,620.3 320.1,621.5 319.0,622.8 318.1,624.1 316.3,626.6 315.9,626.7 313.7,627.2 313.0,626.7 311.6,624.1 311.1,623.1 310.0,621.5 308.5,620.2 307.1,618.8 306.1,616.2 307.1,613.6 308.5,612.2 310.0,611.0 311.1,609.3 311.6,608.3 313.0,605.7 313.7,605.2 315.9,605.7Z M267.6,608.3 269.1,610.4 270.1,611.0 271.7,612.2 272.5,613.6 272.8,616.2 272.5,618.8 271.7,620.2 270.1,621.5 269.1,622.0 267.6,624.1 266.5,626.6 263.8,626.6 261.2,624.4 261.0,624.1 259.6,621.5 258.6,620.3 256.0,619.0 255.7,618.8 254.5,616.2 255.7,613.6 256.0,613.4 258.6,612.1 259.6,611.0 261.0,608.3 261.2,608.0 263.8,605.8 266.5,605.8 267.6,608.3Z" stroke="#32ff00"/><path d="M303.2,560.6 300.6,559.6 298.0,559.0 295.3,558.8 292.7,558.7 290.1,558.6 287.5,558.9 284.8,558.9 282.2,558.9 279.6,559.4 277.0,560.6 275.8,561.1 274.3,561.6 271.7,562.5 269.5,563.7 269.1,563.9 266.5,565.0 265.0,566.3 263.8,567.1 261.5,569.0 261.2,569.3 259.1,571.6 258.6,572.2 256.7,574.2 256.0,575.2 254.9,576.8 253.3,579.4 253.3,579.5 252.4,582.1 251.3,584.7 250.7,586.1 250.3,587.3 250.1,590.0 250.7,592.5 250.8,592.6 250.7,592.7 248.7,595.2 248.1,595.7 247.5,597.8 246.9,600.5 247.0,603.1 248.1,605.6 248.2,605.7 248.6,608.3 248.1,608.9 245.5,610.0 245.3,611.0 245.0,613.6 244.8,616.2 245.0,618.8 245.3,621.5 245.5,622.4 248.1,623.5 248.6,624.1 248.2,626.7 248.1,626.8 247.0,629.3 246.9,632.0 247.5,634.6 248.1,636.7 248.7,637.2 250.7,639.7 250.8,639.8 250.7,639.9 250.1,642.5 250.3,645.1 250.7,646.3 251.3,647.7 252.4,650.3 253.3,653.0 253.3,653.0 254.9,655.6 256.0,657.2 256.7,658.2 258.6,660.2 259.1,660.8 261.2,663.1 261.5,663.5 263.8,665.3 265.0,666.1 266.5,667.4 269.1,668.5 269.5,668.7 271.7,669.9 274.3,670.8 275.8,671.3 277.0,671.8 279.6,673.0 282.2,673.5 284.8,673.5 287.5,673.5 290.1,673.8 292.7,673.7 295.3,673.6 298.0,673.4 300.6,672.8 303.2,671.8 304.5,671.3 305.8,670.9 308.5,670.0 310.7,668.7 311.1,668.5 313.7,667.4 315.2,666.1 316.3,665.3 318.7,663.5 319.0,663.1 321.0,660.8 321.6,660.2 323.5,658.2 324.2,657.1 325.2,655.6 326.8,653.0 326.8,652.8 327.9,650.3 329.0,647.7 329.5,646.3 329.9,645.1 330.1,642.5 329.5,639.9 326.8,641.1 326.1,639.8 326.8,637.9 329.5,639.7 332.1,638.5 332.3,637.2 332.4,634.6 332.7,632.0 332.8,629.3 332.9,626.7 334.7,624.1 334.7,624.1 335.1,621.5 335.1,618.8 335.1,616.2 335.1,613.6 335.1,611.0 334.7,608.3 334.7,608.3 332.9,605.7 332.8,603.1 332.7,600.5 332.4,597.8 332.3,595.2 332.1,593.9 329.5,592.7 326.8,594.5 326.1,592.6 326.8,591.3 329.5,592.5 330.1,590.0 329.9,587.3 329.5,586.1 329.0,584.7 327.9,582.1 326.8,579.6 326.8,579.5 325.2,576.8 324.2,575.3 323.5,574.2 321.6,572.2 321.0,571.6 319.0,569.3 318.7,569.0 316.3,567.1 315.2,566.3 313.7,565.0 311.1,563.9 310.7,563.7 308.5,562.4 305.8,561.5 304.5,561.1 303.2,560.6Z M268.0,605.7 268.8,608.3 269.1,608.8 271.7,610.4 272.5,611.0 273.7,613.6 273.9,616.2 273.7,618.8 272.5,621.5 271.7,622.0 269.1,623.6 268.8,624.1 268.0,626.7 266.5,628.0 263.8,627.6 262.6,626.7 261.2,625.6 260.2,624.1 258.6,621.5 258.6,621.4 256.0,619.8 254.3,618.8 253.7,616.2 254.3,613.6 256.0,612.6 258.6,611.0 258.6,611.0 260.2,608.3 261.2,606.8 262.6,605.7 263.8,604.8 266.5,604.4 268.0,605.7Z M317.3,605.7 318.9,608.3 319.0,608.4 321.1,611.0 321.6,611.3 324.2,612.7 325.2,613.6 325.6,616.2 325.2,618.8 324.2,619.7 321.6,621.1 321.1,621.5 319.0,624.0 318.9,624.1 317.3,626.7 316.3,627.6 313.7,628.0 311.6,626.7 311.1,625.6 310.6,624.1 308.5,621.5 308.5,621.4 305.8,618.9 305.8,618.8 305.0,616.2 305.8,613.6 305.8,613.5 308.5,611.0 308.5,611.0 310.6,608.3 311.1,606.8 311.6,605.7 313.7,604.4 316.3,604.8 317.3,605.7Z" stroke="#0eff00"/><path d="M300.6,560.5 298.0,559.7 295.3,559.6 292.7,559.6 290.1,559.8 287.5,560.0 284.8,559.7 282.2,559.6 279.6,560.2 277.9,561.1 277.0,561.6 274.3,562.5 271.7,563.7 271.7,563.7 269.1,564.8 266.5,566.2 266.3,566.3 263.8,567.9 262.5,569.0 261.2,570.4 260.1,571.6 258.6,573.4 257.8,574.2 256.0,576.7 255.9,576.8 254.2,579.5 253.3,581.9 253.3,582.1 252.3,584.7 251.5,587.3 252.4,590.0 253.3,590.9 254.0,592.6 253.3,595.1 253.3,595.2 250.7,596.2 248.9,597.8 248.1,599.0 247.7,600.5 247.9,603.1 248.1,603.5 249.4,605.7 250.4,608.3 248.5,611.0 248.1,611.0 246.2,613.6 245.9,616.2 246.2,618.8 248.1,621.4 248.5,621.5 250.4,624.1 249.4,626.7 248.1,628.9 247.9,629.3 247.7,632.0 248.1,633.4 248.9,634.6 250.7,636.2 253.3,637.2 253.3,637.3 254.0,639.8 253.3,641.5 252.4,642.5 251.5,645.1 252.3,647.7 253.3,650.3 253.3,650.5 254.2,653.0 255.9,655.6 256.0,655.7 257.8,658.2 258.6,659.0 260.1,660.8 261.2,662.0 262.5,663.5 263.8,664.5 266.3,666.1 266.5,666.2 269.1,667.6 271.7,668.7 271.7,668.7 274.3,669.9 277.0,670.8 277.9,671.3 279.6,672.2 282.2,672.8 284.8,672.7 287.5,672.4 290.1,672.6 292.7,672.8 295.3,672.8 298.0,672.7 300.6,671.9 302.0,671.3 303.2,670.8 305.8,670.1 308.5,668.8 308.7,668.7 311.1,667.6 313.7,666.3 314.0,666.1 316.3,664.5 317.7,663.5 319.0,661.9 319.9,660.8 321.6,659.1 322.4,658.2 324.2,655.6 324.2,655.5 325.9,653.0 326.8,650.8 327.0,650.3 328.2,647.7 328.9,645.1 326.8,642.7 326.5,642.5 325.1,639.8 325.7,637.2 326.8,636.4 329.5,636.2 331.0,634.6 331.7,632.0 331.8,629.3 331.2,626.7 331.0,624.1 332.1,623.5 333.4,621.5 333.2,618.8 332.2,616.2 333.2,613.6 333.4,611.0 332.1,608.9 331.0,608.3 331.2,605.7 331.8,603.1 331.7,600.5 331.0,597.8 329.5,596.2 326.8,596.0 325.7,595.2 325.1,592.6 326.5,590.0 326.8,589.7 328.9,587.3 328.2,584.7 327.0,582.1 326.8,581.6 325.9,579.5 324.2,576.9 324.2,576.8 322.4,574.2 321.6,573.3 319.9,571.6 319.0,570.5 317.7,569.0 316.3,567.9 314.0,566.3 313.7,566.1 311.1,564.8 308.7,563.7 308.5,563.6 305.8,562.3 303.2,561.6 302.0,561.1 300.6,560.5Z M269.4,603.1 269.5,605.7 270.6,608.3 271.7,609.1 274.3,610.7 274.5,611.0 275.1,613.6 275.5,616.2 275.1,618.8 274.5,621.5 274.3,621.7 271.7,623.3 270.6,624.1 269.5,626.7 269.4,629.3 269.1,629.8 266.5,629.4 266.3,629.3 263.8,628.6 261.2,626.8 261.1,626.7 259.4,624.1 258.6,622.8 257.3,621.5 256.0,620.6 253.3,619.5 252.7,618.8 252.7,616.2 252.7,613.6 253.3,612.9 256.0,611.8 257.3,611.0 258.6,609.6 259.4,608.3 261.1,605.7 261.2,605.6 263.8,603.8 266.3,603.1 266.5,603.0 269.1,602.6 269.4,603.1Z M318.4,605.7 319.0,606.6 319.9,608.3 321.6,610.3 322.9,611.0 324.2,611.6 326.4,613.6 326.3,616.2 326.4,618.8 324.2,620.8 322.9,621.5 321.6,622.1 319.9,624.1 319.0,625.8 318.4,626.7 316.3,628.6 313.7,628.8 311.1,628.6 310.4,626.7 309.7,624.1 308.5,622.6 306.8,621.5 305.8,620.5 304.5,618.8 304.0,616.2 304.5,613.6 305.8,611.9 306.8,611.0 308.5,609.8 309.7,608.3 310.4,605.7 311.1,603.8 313.7,603.6 316.3,603.8 318.4,605.7Z" stroke="#00ff00"/><path d="M298.0,560.5 295.3,560.4 292.7,560.5 290.1,560.9 287.5,561.1 284.8,560.6 282.2,560.4 279.6,561.1 279.6,561.1 277.0,562.5 274.3,563.4 273.7,563.7 271.7,564.6 269.1,565.7 267.9,566.3 266.5,567.1 263.8,568.7 263.6,569.0 261.2,571.5 261.2,571.6 259.0,574.2 258.6,574.5 256.8,576.8 256.0,578.1 255.1,579.5 254.2,582.1 253.5,584.7 256.0,587.2 256.1,587.3 256.0,587.8 255.3,590.0 255.1,592.6 255.4,595.2 256.0,596.7 256.5,597.8 256.0,598.6 254.1,597.8 253.3,597.6 250.7,597.8 250.7,597.8 248.9,600.5 249.2,603.1 250.6,605.7 250.7,606.1 251.6,608.3 253.3,610.8 256.0,610.9 258.6,608.3 258.6,608.3 260.0,605.7 261.2,604.2 263.3,603.1 263.8,602.8 266.5,601.5 268.7,600.5 269.1,600.3 269.4,600.5 270.8,603.1 270.9,605.7 271.7,607.1 274.3,608.0 274.7,608.3 276.2,611.0 276.9,613.6 277.0,613.9 277.8,616.2 277.0,618.5 276.9,618.8 276.2,621.5 274.7,624.1 274.3,624.4 271.7,625.3 270.9,626.7 270.8,629.3 269.4,632.0 269.1,632.1 268.7,632.0 266.5,630.9 263.8,629.6 263.3,629.3 261.2,628.2 260.0,626.7 258.6,624.1 258.6,624.1 256.0,621.5 253.3,621.6 251.6,624.1 250.7,626.3 250.6,626.7 249.2,629.3 248.9,632.0 250.7,634.6 250.7,634.6 253.3,634.8 254.1,634.6 256.0,633.8 256.5,634.6 256.0,635.7 255.4,637.2 255.1,639.8 255.3,642.5 256.0,644.6 256.1,645.1 256.0,645.2 253.5,647.7 254.2,650.3 255.1,653.0 256.0,654.3 256.8,655.6 258.6,657.9 259.0,658.2 261.2,660.8 261.2,660.9 263.6,663.5 263.8,663.7 266.5,665.3 267.9,666.1 269.1,666.7 271.7,667.8 273.7,668.7 274.3,669.0 277.0,669.9 279.6,671.3 279.6,671.3 282.2,672.0 284.8,671.8 287.5,671.3 290.1,671.5 292.7,671.9 295.3,672.0 298.0,671.9 299.7,671.3 300.6,670.9 303.2,669.9 305.8,669.2 306.9,668.7 308.5,667.9 311.1,666.8 312.5,666.1 313.7,665.5 316.3,663.7 316.6,663.5 318.9,660.8 319.0,660.7 321.4,658.2 321.6,658.0 323.4,655.6 324.2,654.1 325.0,653.0 326.2,650.3 326.8,648.8 327.4,647.7 327.7,645.1 326.8,644.1 324.2,642.9 324.1,642.5 324.2,639.8 324.0,637.2 324.2,635.8 326.8,635.3 329.5,634.6 329.5,634.6 330.7,632.0 330.7,629.3 329.7,626.7 329.5,626.3 327.8,624.1 326.8,623.1 324.2,622.1 321.6,623.2 320.9,624.1 319.6,626.7 319.0,628.9 318.1,629.3 316.3,629.6 313.7,629.7 311.1,630.7 309.0,629.3 309.4,626.7 308.8,624.1 308.5,623.7 305.8,622.2 304.5,621.5 303.3,618.8 303.2,618.5 302.9,616.2 303.2,613.9 303.3,613.6 304.5,611.0 305.8,610.2 308.5,608.7 308.8,608.3 309.4,605.7 309.0,603.1 311.1,601.7 313.7,602.7 316.3,602.8 318.1,603.1 319.0,603.5 319.6,605.7 320.9,608.3 321.6,609.2 324.2,610.3 326.8,609.3 327.8,608.3 329.5,606.1 329.7,605.7 330.7,603.1 330.7,600.5 329.5,597.8 329.5,597.8 326.8,597.1 324.2,596.6 324.0,595.2 324.2,592.6 324.1,590.0 324.2,589.5 326.8,588.3 327.7,587.3 327.4,584.7 326.8,583.6 326.2,582.1 325.0,579.5 324.2,578.3 323.4,576.8 321.6,574.4 321.4,574.2 319.0,571.7 318.9,571.6 316.6,569.0 316.3,568.7 313.7,566.9 312.5,566.3 311.1,565.6 308.5,564.5 306.9,563.7 305.8,563.2 303.2,562.5 300.6,561.5 299.7,561.1 298.0,560.5Z M253.3,644.4 253.0,645.1 253.3,647.2 255.5,645.1 253.3,644.4Z M250.7,613.5 248.1,613.6 248.1,613.6 247.7,616.2 248.1,618.8 248.1,618.8 250.7,618.9 250.8,618.8 251.4,616.2 250.8,613.6 250.7,613.5Z M329.5,613.5 329.4,613.6 327.7,616.2 329.4,618.8 329.5,618.9 329.6,618.8 330.5,616.2 329.6,613.6 329.5,613.5Z M253.3,585.2 253.0,587.3 253.3,588.0 255.5,587.3 253.3,585.2Z" stroke="#00ff00"/><path d="M303.2,563.4 300.6,562.6 298.0,561.4 295.3,561.2 292.7,561.4 290.1,562.0 287.5,562.0 284.8,561.4 282.2,561.1 279.6,562.2 277.0,563.4 276.1,563.7 274.3,564.3 271.7,565.4 269.6,566.3 269.1,566.6 266.5,568.0 264.9,569.0 263.8,569.6 262.0,571.6 261.2,573.1 260.3,574.2 258.6,575.8 257.8,576.8 256.0,579.4 256.0,579.5 255.1,582.1 255.9,584.7 256.0,584.7 257.8,587.3 257.7,590.0 256.7,592.6 257.9,595.2 258.6,597.7 258.6,597.8 258.6,597.9 257.4,600.5 256.0,601.4 253.3,601.0 252.2,600.5 250.7,600.0 250.4,600.5 250.6,603.1 250.7,603.4 251.7,605.7 252.6,608.3 253.3,609.4 256.0,609.7 257.4,608.3 258.6,606.2 258.8,605.7 260.7,603.1 261.2,602.7 263.8,601.7 266.0,600.5 266.5,600.1 269.1,599.0 271.3,600.5 271.7,601.5 272.0,603.1 272.8,605.7 274.3,606.6 276.7,608.3 277.0,608.9 277.9,611.0 279.6,613.1 280.0,613.6 280.8,616.2 280.0,618.8 279.6,619.3 277.9,621.5 277.0,623.5 276.7,624.1 274.3,625.8 272.8,626.7 272.0,629.3 271.7,630.9 271.3,632.0 269.1,633.4 266.5,632.3 266.0,632.0 263.8,630.7 261.2,629.7 260.7,629.3 258.8,626.7 258.6,626.2 257.4,624.1 256.0,622.7 253.3,623.0 252.6,624.1 251.7,626.7 250.7,629.0 250.6,629.3 250.4,632.0 250.7,632.4 252.2,632.0 253.3,631.4 256.0,631.0 257.4,632.0 258.6,634.5 258.6,634.6 258.6,634.7 257.9,637.2 256.7,639.8 257.7,642.5 257.8,645.1 256.0,647.7 255.9,647.7 255.1,650.3 256.0,653.0 256.0,653.0 257.8,655.6 258.6,656.6 260.3,658.2 261.2,659.3 262.0,660.8 263.8,662.8 264.9,663.5 266.5,664.4 269.1,665.8 269.6,666.1 271.7,667.0 274.3,668.1 276.1,668.7 277.0,669.0 279.6,670.2 282.2,671.3 284.8,671.0 287.5,670.4 290.1,670.4 292.7,671.0 295.3,671.2 298.0,671.0 300.6,669.8 303.2,669.0 304.4,668.7 305.8,668.2 308.5,666.9 310.7,666.1 311.1,665.9 313.7,664.7 315.5,663.5 316.3,662.8 318.1,660.8 319.0,659.4 320.1,658.2 321.6,656.9 322.6,655.6 324.0,653.0 324.2,652.6 325.3,650.3 325.9,647.7 324.2,646.3 321.6,645.1 321.6,645.1 321.6,645.0 322.7,642.5 323.1,639.8 322.6,637.2 321.6,635.5 321.0,634.6 319.4,632.0 319.0,631.8 316.3,630.7 313.7,630.8 311.8,632.0 311.1,632.5 308.6,634.6 308.5,634.6 307.4,634.6 307.9,632.0 307.7,629.3 308.3,626.7 306.1,624.1 305.8,624.0 303.2,623.5 301.6,621.5 301.4,618.8 301.6,616.2 301.4,613.6 301.6,611.0 303.2,608.9 305.8,608.4 306.1,608.3 308.3,605.7 307.7,603.1 307.9,600.5 307.4,597.8 308.5,597.8 308.6,597.8 311.1,599.9 311.8,600.5 313.7,601.6 316.3,601.7 319.0,600.6 319.4,600.5 321.0,597.8 321.6,596.9 322.6,595.2 323.1,592.6 322.7,590.0 321.6,587.4 321.6,587.3 321.6,587.3 324.2,586.1 325.9,584.7 325.3,582.1 324.2,579.8 324.0,579.5 322.6,576.8 321.6,575.5 320.1,574.2 319.0,573.0 318.1,571.6 316.3,569.6 315.5,569.0 313.7,567.7 311.1,566.5 310.7,566.3 308.5,565.5 305.8,564.2 304.4,563.7 303.2,563.4Z M324.2,623.5 322.6,624.1 321.6,624.8 320.9,626.7 320.8,629.3 321.6,630.7 323.0,632.0 324.2,632.6 326.8,634.0 329.5,632.4 329.7,632.0 329.6,629.3 329.5,629.0 328.2,626.7 326.8,625.1 325.3,624.1 324.2,623.5Z M329.5,600.0 326.8,598.4 324.2,599.8 323.0,600.5 321.6,601.7 320.8,603.1 320.9,605.7 321.6,607.6 322.6,608.3 324.2,608.9 325.3,608.3 326.8,607.3 328.2,605.7 329.5,603.4 329.6,603.1 329.7,600.5 329.5,600.0Z" stroke="#00ff00"/><path d="M298.0,562.6 295.3,562.0 292.7,562.3 290.1,563.0 287.5,562.8 284.8,562.3 282.2,562.2 279.6,563.3 278.6,563.7 277.0,564.5 274.3,565.3 271.7,566.3 271.6,566.3 269.1,567.5 266.5,568.9 266.4,569.0 263.8,570.5 262.8,571.6 261.6,574.2 261.2,575.0 259.2,576.8 258.6,577.3 257.3,579.5 256.0,581.9 255.9,582.1 256.0,582.2 257.9,584.7 258.6,585.7 259.2,587.3 259.8,590.0 261.2,591.8 261.6,592.6 261.2,594.0 260.6,595.2 260.0,597.8 260.2,600.5 261.2,601.0 263.8,600.6 264.1,600.5 266.5,598.6 268.7,597.8 269.1,597.8 271.7,597.1 274.3,596.1 274.9,597.8 274.3,598.2 272.4,600.5 272.9,603.1 274.3,605.2 275.0,605.7 277.0,607.2 277.8,608.3 279.6,611.0 279.6,611.0 281.8,613.6 282.2,614.6 282.6,616.2 282.2,617.8 281.8,618.8 279.6,621.4 279.6,621.5 277.8,624.1 277.0,625.2 275.0,626.7 274.3,627.2 272.9,629.3 272.4,632.0 274.3,634.2 274.9,634.6 274.3,636.3 271.7,635.3 269.1,634.6 268.7,634.6 266.5,633.8 264.1,632.0 263.8,631.8 261.2,631.4 260.2,632.0 260.0,634.6 260.6,637.2 261.2,638.4 261.6,639.8 261.2,640.6 259.8,642.5 259.2,645.1 258.6,646.7 257.9,647.7 256.0,650.2 255.9,650.3 256.0,650.5 257.3,653.0 258.6,655.1 259.2,655.6 261.2,657.4 261.6,658.2 262.8,660.8 263.8,661.9 266.4,663.5 266.5,663.5 269.1,664.9 271.6,666.1 271.7,666.1 274.3,667.1 277.0,667.9 278.6,668.7 279.6,669.1 282.2,670.2 284.8,670.1 287.5,669.6 290.1,669.4 292.7,670.1 295.3,670.4 298.0,669.8 300.3,668.7 300.6,668.5 303.2,667.9 305.8,667.1 308.2,666.1 308.5,666.0 311.1,665.1 313.7,663.9 314.4,663.5 316.3,661.9 317.3,660.8 318.9,658.2 319.0,658.1 321.6,655.8 321.7,655.6 323.0,653.0 324.2,650.8 324.4,650.3 324.2,649.2 321.6,648.6 320.6,647.7 320.4,645.1 321.2,642.5 321.6,641.4 322.0,639.8 321.6,638.3 321.0,637.2 319.5,634.6 319.0,633.8 316.7,632.0 316.3,631.8 313.7,631.9 313.7,632.0 311.1,634.1 310.6,634.6 308.5,635.4 305.8,635.9 304.7,634.6 305.8,633.2 306.7,632.0 306.8,629.3 306.3,626.7 305.8,626.1 303.2,625.2 301.7,624.1 300.6,622.8 299.8,621.5 299.3,618.8 299.6,616.2 299.3,613.6 299.8,611.0 300.6,609.6 301.7,608.3 303.2,607.2 305.8,606.3 306.3,605.7 306.8,603.1 306.7,600.5 305.8,599.2 304.7,597.8 305.8,596.5 308.5,597.0 310.6,597.8 311.1,598.3 313.7,600.5 313.7,600.5 316.3,600.6 316.7,600.5 319.0,598.6 319.5,597.8 321.0,595.2 321.6,594.1 322.0,592.6 321.6,591.0 321.2,590.0 320.4,587.3 320.6,584.7 321.6,583.8 324.2,583.2 324.4,582.1 324.2,581.6 323.0,579.5 321.7,576.8 321.6,576.6 319.0,574.3 318.9,574.2 317.3,571.6 316.3,570.5 314.4,569.0 313.7,568.5 311.1,567.3 308.5,566.4 308.2,566.3 305.8,565.3 303.2,564.5 300.6,563.9 300.3,563.7 298.0,562.6Z M324.2,625.8 323.1,626.7 323.3,629.3 324.2,630.2 326.5,632.0 326.8,632.1 327.2,632.0 327.6,629.3 326.8,627.4 326.0,626.7 324.2,625.8Z M256.0,623.9 255.0,624.1 253.3,625.1 252.8,626.7 253.3,628.3 256.0,629.0 257.2,626.7 256.2,624.1 256.0,623.9Z M291.1,626.7 290.1,628.0 287.5,627.0 287.2,626.7 287.5,626.2 290.1,625.7 291.1,626.7Z M256.0,603.4 253.3,604.1 252.8,605.7 253.3,607.3 255.0,608.3 256.0,608.5 256.2,608.3 257.2,605.7 256.0,603.4Z M291.1,605.7 290.1,606.7 287.5,606.2 287.2,605.7 287.5,605.4 290.1,604.4 291.1,605.7Z M326.8,600.3 326.5,600.5 324.2,602.2 323.3,603.1 323.1,605.7 324.2,606.6 326.0,605.7 326.8,605.0 327.6,603.1 327.2,600.5 326.8,600.3Z" stroke="#00ff00"/><path d="M295.3,562.8 292.7,563.2 291.1,563.7 290.1,563.9 287.5,563.7 287.4,563.7 284.8,563.1 282.2,563.3 281.3,563.7 279.6,565.6 277.0,565.8 274.3,566.2 274.0,566.3 271.7,567.3 269.1,568.4 268.1,569.0 266.5,569.7 263.8,571.4 263.7,571.6 262.7,574.2 262.7,576.8 261.2,578.9 258.6,579.4 258.6,579.5 258.2,582.1 258.6,582.6 259.7,584.7 260.2,587.3 261.2,589.4 261.6,590.0 263.1,592.6 262.9,595.2 261.7,597.8 263.8,598.5 264.9,597.8 266.5,597.3 269.1,597.0 271.7,596.0 273.0,595.2 274.3,592.9 274.7,592.6 277.0,591.8 278.1,592.6 278.8,595.2 277.0,597.6 276.8,597.8 274.3,599.3 273.4,600.5 273.8,603.1 274.3,604.0 276.8,605.7 277.0,605.8 278.8,608.3 279.6,609.5 281.0,611.0 282.2,612.4 283.0,613.6 283.4,616.2 283.0,618.8 282.2,620.0 281.0,621.5 279.6,622.9 278.8,624.1 277.0,626.6 276.8,626.7 274.3,628.4 273.8,629.3 273.4,632.0 274.3,633.1 276.8,634.6 277.0,634.8 278.8,637.2 278.1,639.8 277.0,640.6 274.7,639.8 274.3,639.5 273.0,637.2 271.7,636.4 269.1,635.4 266.5,635.1 264.9,634.6 263.8,633.9 261.7,634.6 262.9,637.2 263.1,639.8 261.6,642.5 261.2,643.0 260.2,645.1 259.7,647.7 258.6,649.8 258.2,650.3 258.6,653.0 258.6,653.0 261.2,653.5 262.7,655.6 262.7,658.2 263.7,660.8 263.8,661.0 266.5,662.7 268.1,663.5 269.1,664.0 271.7,665.1 274.0,666.1 274.3,666.2 277.0,666.6 279.6,666.8 281.3,668.7 282.2,669.1 284.8,669.3 287.4,668.7 287.5,668.7 290.1,668.5 291.1,668.7 292.7,669.2 295.3,669.6 297.9,668.7 298.0,668.7 300.6,667.0 303.2,666.6 305.1,666.1 305.8,665.8 308.5,664.8 311.1,664.3 313.1,663.5 313.7,663.1 316.3,661.0 316.5,660.8 317.6,658.2 319.0,656.5 320.1,655.6 321.6,653.7 322.0,653.0 321.6,651.0 319.4,650.3 319.0,650.1 318.6,647.7 319.0,646.1 319.2,645.1 319.5,642.5 319.0,639.9 318.9,639.8 318.8,637.2 317.2,634.6 316.3,633.9 313.7,634.3 313.4,634.6 311.1,635.3 308.5,636.2 306.1,637.2 305.8,637.4 304.0,639.8 303.2,640.6 300.6,640.4 300.1,639.8 300.1,637.2 300.6,636.7 303.2,634.8 303.4,634.6 305.6,632.0 305.8,629.4 305.9,629.3 305.8,629.3 303.5,626.7 303.2,626.6 300.6,624.8 300.0,624.1 298.6,621.5 298.0,620.0 297.5,618.8 296.8,616.2 297.5,613.6 298.0,612.4 298.6,611.0 300.0,608.3 300.6,607.6 303.2,605.8 303.5,605.7 305.8,603.1 305.9,603.1 305.8,603.0 305.6,600.5 303.4,597.8 303.2,597.6 300.6,595.7 300.1,595.2 300.1,592.6 300.6,592.0 303.2,591.8 304.0,592.6 305.8,595.0 306.1,595.2 308.5,596.2 311.1,597.1 313.4,597.8 313.7,598.1 316.3,598.5 317.2,597.8 318.8,595.2 318.9,592.6 319.0,592.5 319.5,590.0 319.2,587.3 319.0,586.3 318.6,584.7 319.0,582.3 319.4,582.1 321.6,581.4 322.0,579.5 321.6,578.7 320.1,576.8 319.0,575.9 317.6,574.2 316.5,571.6 316.3,571.4 313.7,569.3 313.1,569.0 311.1,568.1 308.5,567.6 305.8,566.6 305.1,566.3 303.2,565.8 300.6,565.4 298.0,563.7 297.9,563.7 295.3,562.8Z M283.8,632.0 282.2,632.9 281.6,632.0 282.2,630.8 283.8,632.0Z M291.1,624.1 292.7,625.7 293.9,626.7 295.3,628.6 296.0,629.3 296.8,632.0 295.3,633.3 292.7,632.0 292.7,632.0 290.1,630.3 287.5,629.6 286.3,629.3 285.4,626.7 286.7,624.1 287.5,623.6 290.1,623.5 291.1,624.1Z M296.8,600.5 296.0,603.1 295.3,603.8 293.9,605.7 292.7,606.7 291.1,608.3 290.1,608.9 287.5,608.8 286.7,608.3 285.4,605.7 286.3,603.1 287.5,602.8 290.1,602.1 292.7,600.5 292.7,600.4 295.3,599.1 296.8,600.5Z M283.8,600.5 282.2,601.6 281.6,600.5 282.2,599.5 283.8,600.5Z" stroke="#00ff00"/><path d="M290.1,631.8 287.5,631.4 286.8,632.0 285.1,634.6 284.8,634.7 282.2,635.4 280.7,637.2 279.9,639.8 279.6,640.3 277.0,642.1 274.3,641.4 273.3,639.8 271.7,637.5 271.4,637.2 269.1,636.2 266.5,636.2 264.9,637.2 264.3,639.8 263.8,641.2 263.2,642.5 261.4,645.1 261.3,647.7 263.8,650.2 264.0,650.3 264.8,653.0 264.5,655.6 263.9,658.2 264.9,660.8 266.5,661.8 269.1,663.0 270.0,663.5 271.7,664.2 274.3,665.2 277.0,665.5 279.6,665.3 282.2,665.9 282.4,666.1 284.8,668.3 287.5,668.1 290.1,668.0 292.7,668.4 294.8,668.7 295.3,668.8 295.6,668.7 298.0,666.4 298.7,666.1 300.6,665.8 303.2,665.5 305.8,664.1 308.5,663.6 311.1,663.5 311.3,663.5 313.7,662.3 315.5,660.8 316.3,658.2 315.3,655.6 314.8,653.0 316.3,650.3 316.3,650.2 317.4,647.7 317.8,645.1 317.3,642.5 316.3,641.2 315.6,639.8 314.4,637.2 313.7,636.7 311.1,636.3 308.5,637.0 308.0,637.2 305.8,639.2 305.3,639.8 303.2,642.1 300.6,641.5 299.1,639.8 298.7,637.2 298.0,635.0 295.3,635.0 294.2,634.6 292.7,633.6 290.4,632.0 290.1,631.8Z M300.6,597.4 298.6,597.8 298.7,600.5 298.4,603.1 298.0,603.8 296.3,605.7 295.3,606.4 293.2,608.3 292.7,608.6 290.1,610.0 287.5,609.9 285.1,608.3 284.8,607.8 283.7,605.7 282.2,604.1 280.7,603.1 279.6,600.5 279.6,600.5 277.0,598.9 274.3,600.4 274.3,600.5 274.3,600.9 274.9,603.1 277.0,604.6 278.4,605.7 279.6,607.9 279.9,608.3 282.2,610.7 282.5,611.0 283.9,613.6 284.3,616.2 283.9,618.8 282.5,621.5 282.2,621.7 279.9,624.1 279.6,624.5 278.4,626.7 277.0,627.8 274.9,629.3 274.3,631.5 274.3,632.0 274.3,632.0 277.0,633.5 279.6,632.0 279.6,631.9 280.7,629.3 282.2,628.3 283.7,626.7 284.8,624.6 285.1,624.1 287.5,622.5 290.1,622.4 292.7,623.8 293.2,624.1 295.3,626.0 296.3,626.7 298.0,628.6 298.4,629.3 298.7,632.0 298.6,634.6 300.6,635.0 301.2,634.6 303.2,633.5 304.6,632.0 304.7,629.3 303.2,627.8 301.0,626.7 300.6,626.4 298.6,624.1 298.0,622.8 297.3,621.5 296.1,618.8 295.3,616.9 295.2,616.2 295.3,615.5 296.1,613.6 297.3,611.0 298.0,609.6 298.6,608.3 300.6,606.0 301.0,605.7 303.2,604.6 304.7,603.1 304.6,600.5 303.2,598.9 301.2,597.8 300.6,597.4Z M295.3,563.6 294.8,563.7 292.7,564.0 290.1,564.4 287.5,564.3 284.8,564.1 282.4,566.3 282.2,566.5 279.6,567.1 277.0,566.9 274.3,567.2 271.7,568.2 270.0,569.0 269.1,569.4 266.5,570.6 264.9,571.6 263.9,574.2 264.5,576.8 264.8,579.5 264.0,582.1 263.8,582.2 261.3,584.7 261.4,587.3 263.2,590.0 263.8,591.2 264.3,592.6 264.9,595.2 266.5,596.2 269.1,596.2 271.4,595.2 271.7,594.9 273.3,592.6 274.3,591.0 277.0,590.3 279.6,592.1 279.9,592.6 280.7,595.2 282.2,597.0 284.8,597.7 285.1,597.8 286.8,600.5 287.5,601.0 290.1,600.6 290.4,600.5 292.7,598.8 294.2,597.8 295.3,597.4 298.0,597.4 298.7,595.2 299.1,592.6 300.6,590.9 303.2,590.3 305.3,592.6 305.8,593.2 308.0,595.2 308.5,595.4 311.1,596.1 313.7,595.7 314.4,595.2 315.6,592.6 316.3,591.2 317.3,590.0 317.8,587.3 317.4,584.7 316.3,582.2 316.3,582.1 314.8,579.5 315.3,576.8 316.3,574.2 315.5,571.6 313.7,570.1 311.3,569.0 311.1,568.9 308.5,568.8 305.8,568.3 303.2,566.9 300.6,566.6 298.7,566.3 298.0,566.0 295.6,563.7 295.3,563.6Z" stroke="#00ff20"/><path d="M292.7,637.0 291.8,637.2 290.1,638.7 287.5,639.0 284.8,638.4 283.1,639.8 282.2,641.1 281.5,642.5 279.6,643.5 277.0,644.2 274.3,644.4 272.5,645.1 272.6,647.7 271.7,648.5 269.7,650.3 269.1,650.8 267.4,653.0 266.5,655.6 266.5,655.8 266.1,658.2 266.5,658.9 269.1,660.5 269.8,660.8 271.7,661.7 274.3,662.8 277.0,663.1 279.6,663.2 281.9,663.5 282.2,663.5 284.8,665.5 286.1,666.1 287.5,666.6 290.1,666.7 292.7,666.4 293.5,666.1 295.3,665.1 298.0,664.2 300.6,664.0 302.2,663.5 303.2,663.1 305.8,662.0 308.5,661.2 311.1,661.0 311.5,660.8 313.7,658.2 312.9,655.6 312.4,653.0 311.1,650.6 310.7,650.3 308.5,649.1 306.2,647.7 305.8,646.0 305.6,645.1 303.2,644.2 300.6,643.5 298.1,642.5 298.0,642.3 296.8,639.8 295.3,637.6 293.6,637.2 292.7,637.0Z M269.1,638.8 266.6,639.8 268.4,642.5 269.1,642.8 270.0,642.5 270.1,639.8 269.1,638.8Z M292.7,612.5 290.1,612.1 287.5,612.4 286.3,613.6 286.0,616.2 286.3,618.8 287.5,620.0 290.1,620.3 292.7,619.9 293.3,618.8 293.4,616.2 293.3,613.6 292.7,612.5Z M292.7,566.0 290.1,565.7 287.5,565.8 286.1,566.3 284.8,566.9 282.2,568.9 281.9,569.0 279.6,569.2 277.0,569.3 274.3,569.6 271.7,570.7 269.8,571.6 269.1,571.9 266.5,573.5 266.1,574.2 266.5,576.6 266.5,576.8 267.4,579.5 269.1,581.6 269.7,582.1 271.7,583.9 272.6,584.7 272.5,587.3 274.3,588.0 277.0,588.2 279.6,588.9 281.5,590.0 282.2,591.3 283.1,592.6 284.8,594.0 287.5,593.4 290.1,593.7 291.8,595.2 292.7,595.4 293.6,595.2 295.3,594.8 296.8,592.6 298.0,590.1 298.1,590.0 300.6,588.9 303.2,588.2 305.6,587.3 305.8,586.4 306.2,584.7 308.5,583.3 310.7,582.1 311.1,581.8 312.4,579.5 312.9,576.8 313.7,574.2 311.5,571.6 311.1,571.4 308.5,571.2 305.8,570.4 303.2,569.3 302.2,569.0 300.6,568.4 298.0,568.2 295.3,567.3 293.5,566.3 292.7,566.0Z M269.1,589.6 268.4,590.0 266.6,592.6 269.1,593.6 270.1,592.6 270.0,590.0 269.1,589.6Z" stroke="#00ff7f"/><path d="M292.7,643.4 290.1,642.9 287.5,643.5 285.3,645.1 284.8,645.3 282.2,645.9 279.6,646.2 277.0,646.8 275.8,647.7 274.3,648.6 272.5,650.3 271.7,650.8 269.2,653.0 269.1,653.2 268.2,655.6 269.0,658.2 269.1,658.2 271.7,659.5 274.2,660.8 274.3,660.9 277.0,661.6 279.6,661.9 282.2,662.4 284.8,663.5 284.8,663.5 287.5,665.3 290.1,665.5 292.7,664.8 294.7,663.5 295.3,663.1 298.0,662.7 300.6,662.5 303.2,661.6 304.9,660.8 305.8,660.4 308.5,659.4 310.8,658.2 311.1,657.3 311.4,655.6 311.1,654.4 310.7,653.0 308.5,650.9 307.2,650.3 305.8,649.4 303.9,647.7 303.2,646.8 300.6,645.3 298.0,645.5 295.3,645.7 293.9,645.1 292.7,643.4Z M290.1,614.3 287.7,616.2 290.1,618.1 291.4,616.2 290.1,614.3Z M292.7,567.6 290.1,566.9 287.5,567.1 284.8,568.9 284.8,569.0 282.2,570.0 279.6,570.5 277.0,570.8 274.3,571.5 274.2,571.6 271.7,572.9 269.1,574.2 269.0,574.2 268.2,576.8 269.1,579.2 269.2,579.5 271.7,581.6 272.5,582.1 274.3,583.8 275.8,584.7 277.0,585.6 279.6,586.2 282.2,586.5 284.8,587.1 285.3,587.3 287.5,588.9 290.1,589.5 292.7,589.0 293.9,587.3 295.3,586.7 298.0,586.9 300.6,587.1 303.2,585.6 303.9,584.7 305.8,583.0 307.2,582.1 308.5,581.5 310.7,579.5 311.1,578.0 311.4,576.8 311.1,575.1 310.8,574.2 308.5,573.0 305.8,572.0 304.9,571.6 303.2,570.8 300.6,569.9 298.0,569.7 295.3,569.3 294.7,569.0 292.7,567.6Z" stroke="#00ffdf"/><path d="M300.6,647.5 298.0,647.5 295.3,647.6 292.7,646.9 290.1,645.6 287.5,646.0 284.8,647.1 283.3,647.7 282.2,647.9 279.6,648.3 277.0,649.0 275.1,650.3 274.3,650.8 271.7,652.5 271.2,653.0 270.4,655.6 271.7,657.0 273.1,658.2 274.3,658.9 277.0,660.1 279.6,660.6 280.3,660.8 282.2,661.3 284.8,662.4 286.7,663.5 287.5,664.0 290.1,664.5 292.5,663.5 292.7,663.4 295.3,662.2 298.0,661.6 300.6,661.0 301.2,660.8 303.2,660.1 305.8,659.0 307.6,658.2 308.5,657.5 309.8,655.6 309.2,653.0 308.5,652.3 305.8,651.0 304.8,650.3 303.2,649.0 300.8,647.7 300.6,647.5Z M290.1,567.9 287.5,568.4 286.7,569.0 284.8,570.0 282.2,571.1 280.3,571.6 279.6,571.8 277.0,572.3 274.3,573.5 273.1,574.2 271.7,575.4 270.4,576.8 271.2,579.5 271.7,579.9 274.3,581.6 275.1,582.1 277.0,583.4 279.6,584.1 282.2,584.5 283.3,584.7 284.8,585.3 287.5,586.4 290.1,586.8 292.7,585.5 295.3,584.8 298.0,584.9 300.6,584.9 300.8,584.7 303.2,583.4 304.8,582.1 305.8,581.4 308.5,580.1 309.2,579.5 309.8,576.8 308.5,574.9 307.6,574.2 305.8,573.4 303.2,572.3 301.2,571.6 300.6,571.4 298.0,570.8 295.3,570.2 292.7,569.0 292.5,569.0 290.1,567.9Z" stroke="#00c6ff"/><path d="M300.6,649.0 298.0,648.7 295.3,648.7 292.7,648.5 290.1,647.9 287.5,647.8 284.8,648.4 282.2,649.0 279.6,649.5 277.7,650.3 277.0,650.7 274.3,652.6 273.8,653.0 273.6,655.6 274.3,656.2 276.0,658.2 277.0,658.7 279.6,659.6 282.2,660.4 283.5,660.8 284.8,661.4 287.5,662.8 290.1,663.4 292.7,662.3 295.3,661.2 296.8,660.8 298.0,660.5 300.6,659.7 303.2,658.7 304.4,658.2 305.8,657.3 308.0,655.6 307.1,653.0 305.8,652.3 303.2,650.7 302.7,650.3 300.6,649.0Z M295.3,571.2 292.7,570.1 290.1,569.0 287.5,569.6 284.8,571.0 283.5,571.6 282.2,572.0 279.6,572.8 277.0,573.7 276.0,574.2 274.3,576.2 273.6,576.8 273.8,579.5 274.3,579.8 277.0,581.7 277.7,582.1 279.6,582.9 282.2,583.4 284.8,584.0 287.5,584.6 290.1,584.5 292.7,583.9 295.3,583.7 298.0,583.7 300.6,583.4 302.7,582.1 303.2,581.7 305.8,580.1 307.1,579.5 308.0,576.8 305.8,575.1 304.4,574.2 303.2,573.7 300.6,572.7 298.0,571.9 296.8,571.6 295.3,571.2Z" stroke="#0071ff"/><path d="M298.0,649.8 295.3,649.8 292.7,649.7 290.1,649.4 287.5,649.2 284.8,649.6 282.2,650.0 281.0,650.3 279.6,650.7 277.0,652.2 275.9,653.0 276.0,655.6 277.0,656.7 278.6,658.2 279.6,658.6 282.2,659.5 284.8,660.5 285.8,660.8 287.5,661.7 290.1,662.2 292.7,661.3 293.8,660.8 295.3,660.3 298.0,659.6 300.6,658.5 301.2,658.2 303.2,656.7 304.9,655.6 304.6,653.0 303.2,652.2 300.6,650.5 300.1,650.3 298.0,649.8Z M292.7,571.1 290.1,570.2 287.5,570.7 285.8,571.6 284.8,571.9 282.2,572.9 279.6,573.8 278.6,574.2 277.0,575.7 276.0,576.8 275.9,579.5 277.0,580.2 279.6,581.7 281.0,582.1 282.2,582.4 284.8,582.8 287.5,583.2 290.1,583.0 292.7,582.7 295.3,582.6 298.0,582.6 300.1,582.1 300.6,581.9 303.2,580.2 304.6,579.5 304.9,576.8 303.2,575.7 301.2,574.2 300.6,573.9 298.0,572.8 295.3,572.1 293.8,571.6 292.7,571.1Z" stroke="#001cff"/><path d="M300.6,651.8 298.0,650.9 295.3,650.8 292.7,650.8 290.1,650.8 287.5,650.6 284.8,650.7 282.2,651.0 279.6,651.7 277.8,653.0 277.7,655.6 279.6,657.4 280.9,658.2 282.2,658.7 284.8,659.6 287.5,660.5 289.4,660.8 290.1,660.9 290.5,660.8 292.7,660.2 295.3,659.6 298.0,658.7 299.0,658.2 300.6,656.9 302.2,655.6 302.3,653.0 300.6,651.8Z M290.1,571.5 289.4,571.6 287.5,571.9 284.8,572.8 282.2,573.7 280.9,574.2 279.6,575.0 277.7,576.8 277.8,579.5 279.6,580.7 282.2,581.4 284.8,581.7 287.5,581.8 290.1,581.6 292.7,581.6 295.3,581.6 298.0,581.5 300.6,580.6 302.3,579.5 302.2,576.8 300.6,575.5 299.0,574.2 298.0,573.7 295.3,572.8 292.7,572.2 290.5,571.6 290.1,571.5Z" stroke="#2500ff"/><path d="M298.0,652.0 295.3,651.8 292.7,651.9 290.1,652.0 287.5,652.0 284.8,651.8 282.2,651.9 279.6,652.8 279.3,653.0 279.1,655.6 279.6,656.1 282.2,657.7 283.3,658.2 284.8,658.7 287.5,659.2 290.1,659.5 292.7,659.2 295.3,658.8 296.9,658.2 298.0,657.5 300.4,655.6 300.2,653.0 298.0,652.0Z M295.3,573.6 292.7,573.2 290.1,572.9 287.5,573.2 284.8,573.7 283.3,574.2 282.2,574.7 279.6,576.3 279.1,576.8 279.3,579.5 279.6,579.6 282.2,580.5 284.8,580.6 287.5,580.4 290.1,580.4 292.7,580.5 295.3,580.6 298.0,580.4 300.2,579.5 300.4,576.8 298.0,574.9 296.9,574.2 295.3,573.6Z" stroke="#5b00ff"/></g><g fill="none" stroke-width="2.4" stroke-linejoin="round" stroke-linecap="round"><path d="M255.9,532.6 249.3,536.6 241.3,546.0 233.3,552.6 229.3,556.6 226.6,563.3 217.3,573.9 209.3,584.6 205.3,597.9 204.0,616.5 205.3,632.5 209.3,645.8 217.3,659.2 226.6,669.8 233.3,680.5 243.9,688.5 249.3,693.8 255.9,699.6" stroke="#ff1a10"/><path d="M324.3,532.6 330.9,536.6 338.9,546.0 346.9,552.6 350.9,556.6 353.6,563.3 362.9,573.9 370.9,584.6 374.9,597.9 376.2,616.5 374.9,632.5 370.9,645.8 362.9,659.2 353.6,669.8 346.9,680.5 336.3,688.5 330.9,693.8 324.3,699.6" stroke="#ff1a10"/><path d="M279.9,524.8 281.5,528.8 298.5,528.8 300.2,524.8" stroke="#ff1a10"/><path d="M279.9,707.6 281.5,703.6 298.5,703.6 300.2,707.6" stroke="#ff1a10"/><path d="M216.5,611.0 213.0,615.5 216.5,620.0Z" stroke="#ff1a10"/><path d="M363.7,611.0 367.2,615.5 363.7,620.0Z" stroke="#ff1a10"/></g></g><rect x="162.2" y="488.2" width="256.7" height="255.8" fill="none" stroke="#111" stroke-width="1.8"/><path d="M147.2 741.2H162.2 M165.1 744.0V759.0 M147.2 678.7H162.2 M227.6 744.0V759.0 M147.2 616.2H162.2 M290.1 744.0V759.0 M147.2 553.7H162.2 M352.6 744.0V759.0 M147.2 491.2H162.2 M415.1 744.0V759.0" stroke="#111" stroke-width="1.9" fill="none"/><text x="140.6" y="748.1" font-size="19.8" text-anchor="end">−4</text><text x="162.7" y="785.4" font-size="19.8" text-anchor="middle">−4</text><text x="140.6" y="685.6" font-size="19.8" text-anchor="end">−2</text><text x="225.2" y="785.4" font-size="19.8" text-anchor="middle">−2</text><text x="140.6" y="623.1" font-size="19.8" text-anchor="end">0</text><text x="290.6" y="785.4" font-size="19.8" text-anchor="middle">0</text><text x="140.6" y="560.6" font-size="19.8" text-anchor="end">2</text><text x="353.1" y="785.4" font-size="19.8" text-anchor="middle">2</text><text x="140.6" y="498.1" font-size="19.8" text-anchor="end">4</text><text x="415.6" y="785.4" font-size="19.8" text-anchor="middle">4</text><text x="188.1" y="817.0" font-size="19.8">momentum (10</text><text x="323.6" y="804.0" font-size="14.4">5</text><text x="336.5" y="817.0" font-size="19.8" font-style="italic">u</text><text x="352.6" y="817.0" font-size="19.8">m/s)</text><g transform="translate(95.5 716.2) rotate(-90)"><text x="-1.4" y="0.0" font-size="19.8">momentum (10</text><text x="134.1" y="-13.0" font-size="14.4">5</text><text x="147.0" y="0.0" font-size="19.8" font-style="italic">u</text><text x="163.1" y="0.0" font-size="19.8">m/s)</text></g><rect x="163.2" y="489.2" width="102.0" height="42.5" fill="#fff"/><text x="170.0" y="525.2" font-size="27.0">(d)</text><text x="209.0" y="507.3" font-size="17.4">35</text><text x="229.8" y="525.2" font-size="27.0">Cl</text><text x="254.8" y="507.7" font-size="18.0">+</text><rect x="428.2" y="494.8" width="5.8" height="74.5" fill="url(#cbg)" stroke="#111" stroke-width="1.6"/><path d="M434.8 527.5H440.3" stroke="#111" stroke-width="1.9"/><text x="448.0" y="534.6" font-size="18.4">2</text><path d="M434.8 565.2H440.3" stroke="#111" stroke-width="1.9"/><text x="448.0" y="572.3" font-size="18.4">0</text><g transform="translate(435.6 581.3) rotate(90)"><text x="0.0" y="0.0" font-size="20.0">×10</text><text x="28.0" y="-13.6" font-size="15.0">−4</text></g><path d="M621.4 489.2V743.0 M557.0 678.7H811.7 M683.9 489.2V743.0 M557.0 616.2H811.7 M746.4 489.2V743.0 M557.0 553.7H811.7" stroke="#a4a4ff" stroke-width="1.3" stroke-dasharray="2.6 2.6" fill="none"/><clipPath id="cpe"><rect x="556.0" y="488.2" width="256.7" height="255.8"/></clipPath><g clip-path="url(#cpe)"><g fill="none" stroke-width="2.4" stroke-linejoin="round" stroke-linecap="round"><path d="M697.0,537.2 694.4,536.6 691.8,536.4 689.1,536.3 686.5,536.3 683.9,536.3 681.3,536.3 678.6,536.3 676.0,536.4 673.4,536.6 670.8,537.2 669.7,537.5 668.1,537.8 665.5,538.4 662.9,539.3 660.9,540.1 660.3,540.3 657.6,541.3 655.0,542.6 654.9,542.7 652.4,543.9 650.0,545.3 649.8,545.5 647.1,547.0 645.9,548.0 644.5,548.9 642.4,550.6 641.9,550.9 639.3,553.2 639.3,553.2 636.6,555.6 636.5,555.8 634.0,558.4 633.9,558.5 631.6,561.1 631.4,561.3 629.4,563.7 628.8,564.5 627.4,566.3 626.1,568.3 625.7,569.0 624.0,571.6 623.5,572.5 622.5,574.2 621.2,576.8 620.9,577.4 619.9,579.5 618.7,582.1 618.3,583.3 617.7,584.7 616.7,587.3 615.9,590.0 615.6,590.9 615.1,592.6 614.4,595.2 613.9,597.8 613.5,600.5 613.0,602.8 613.0,603.1 612.7,605.7 612.6,608.3 612.6,611.0 612.6,613.6 612.6,616.2 612.6,618.8 612.6,621.5 612.6,624.1 612.7,626.7 613.0,629.3 613.0,629.6 613.5,632.0 613.9,634.6 614.4,637.2 615.1,639.8 615.6,641.5 615.9,642.5 616.7,645.1 617.7,647.7 618.3,649.1 618.7,650.3 619.9,653.0 620.9,655.0 621.2,655.6 622.5,658.2 623.5,659.9 624.0,660.8 625.7,663.5 626.1,664.1 627.4,666.1 628.8,667.9 629.4,668.7 631.4,671.1 631.6,671.3 633.9,674.0 634.0,674.0 636.5,676.6 636.6,676.8 639.3,679.2 639.3,679.2 641.9,681.5 642.4,681.8 644.5,683.5 645.9,684.5 647.1,685.4 649.8,686.9 650.0,687.1 652.4,688.5 654.9,689.7 655.0,689.8 657.6,691.1 660.3,692.1 660.9,692.3 662.9,693.1 665.5,694.0 668.1,694.6 669.7,695.0 670.8,695.2 673.4,695.8 676.0,696.0 678.6,696.1 681.3,696.1 683.9,696.1 686.5,696.1 689.1,696.1 691.8,696.0 694.4,695.8 697.0,695.2 698.1,695.0 699.6,694.6 702.3,694.0 704.9,693.1 706.9,692.3 707.5,692.1 710.1,691.1 712.8,689.8 712.9,689.7 715.4,688.5 717.8,687.1 718.0,686.9 720.6,685.4 721.9,684.5 723.3,683.5 725.4,681.8 725.9,681.5 728.5,679.2 728.5,679.2 731.1,676.8 731.3,676.6 733.8,674.0 733.9,674.0 736.2,671.3 736.4,671.1 738.4,668.7 739.0,667.9 740.4,666.1 741.6,664.1 742.1,663.5 743.8,660.8 744.3,659.9 745.3,658.2 746.6,655.6 746.9,655.0 747.9,653.0 749.1,650.3 749.5,649.1 750.1,647.7 751.1,645.1 751.9,642.5 752.1,641.5 752.7,639.8 753.4,637.2 753.9,634.6 754.3,632.0 754.8,629.6 754.8,629.3 755.1,626.7 755.2,624.1 755.2,621.5 755.2,618.8 755.2,616.2 755.2,613.6 755.2,611.0 755.2,608.3 755.1,605.7 754.8,603.1 754.8,602.8 754.3,600.5 753.9,597.8 753.4,595.2 752.7,592.6 752.1,590.9 751.9,590.0 751.1,587.3 750.1,584.7 749.5,583.3 749.1,582.1 747.9,579.5 746.9,577.4 746.6,576.8 745.3,574.2 744.3,572.5 743.8,571.6 742.1,569.0 741.6,568.3 740.4,566.3 739.0,564.5 738.4,563.7 736.4,561.3 736.2,561.1 733.9,558.5 733.8,558.4 731.3,555.8 731.1,555.6 728.5,553.2 728.5,553.2 725.9,550.9 725.4,550.6 723.3,548.9 721.9,548.0 720.6,547.0 718.0,545.5 717.8,545.3 715.4,543.9 712.9,542.7 712.8,542.6 710.1,541.3 707.5,540.3 706.9,540.1 704.9,539.3 702.3,538.4 699.6,537.8 698.1,537.5 697.0,537.2Z" stroke="#ff3a00"/><path d="M689.1,542.5 686.5,542.4 683.9,542.3 681.3,542.4 678.6,542.5 677.1,542.7 676.0,542.8 673.4,543.2 670.8,543.7 668.1,544.3 665.5,545.1 664.9,545.3 662.9,545.9 660.3,546.9 658.0,548.0 657.6,548.1 655.0,549.4 653.0,550.6 652.4,551.0 649.8,552.7 649.1,553.2 647.1,554.7 645.7,555.8 644.5,556.8 642.6,558.5 641.9,559.1 639.9,561.1 639.3,561.7 637.4,563.7 636.6,564.5 635.1,566.3 634.0,567.7 633.1,569.0 631.4,571.3 631.2,571.6 629.5,574.2 628.8,575.4 628.0,576.8 626.5,579.5 626.1,580.9 625.8,582.1 625.6,584.7 625.6,587.3 625.6,590.0 625.6,592.6 625.6,595.2 625.6,597.8 625.6,600.5 625.6,603.1 625.6,605.7 625.6,608.3 625.6,611.0 625.6,613.6 625.6,616.2 625.6,618.8 625.6,621.5 625.6,624.1 625.6,626.7 625.6,629.3 625.6,632.0 625.6,634.6 625.6,637.2 625.6,639.8 625.6,642.5 625.6,645.1 625.6,647.7 625.8,650.3 626.1,651.5 626.5,653.0 628.0,655.6 628.8,657.0 629.5,658.2 631.2,660.8 631.4,661.1 633.1,663.5 634.0,664.7 635.1,666.1 636.6,667.9 637.4,668.7 639.3,670.7 639.9,671.3 641.9,673.3 642.6,674.0 644.5,675.6 645.7,676.6 647.1,677.7 649.1,679.2 649.8,679.7 652.4,681.4 653.0,681.8 655.0,683.0 657.6,684.3 658.0,684.5 660.3,685.5 662.9,686.5 664.9,687.1 665.5,687.3 668.1,688.1 670.8,688.7 673.4,689.2 676.0,689.6 677.1,689.7 678.6,689.9 681.3,690.0 683.9,690.1 686.5,690.0 689.1,689.9 690.7,689.7 691.8,689.6 694.4,689.2 697.0,688.7 699.6,688.1 702.3,687.3 702.9,687.1 704.9,686.5 707.5,685.5 709.8,684.5 710.1,684.3 712.8,683.0 714.8,681.8 715.4,681.4 718.0,679.7 718.7,679.2 720.6,677.7 722.1,676.6 723.3,675.6 725.2,674.0 725.9,673.3 727.9,671.3 728.5,670.7 730.4,668.7 731.1,667.9 732.7,666.1 733.8,664.7 734.7,663.5 736.4,661.1 736.6,660.8 738.3,658.2 739.0,657.0 739.8,655.6 741.3,653.0 741.6,651.5 742.0,650.3 742.2,647.7 742.2,645.1 742.2,642.5 742.2,639.8 742.2,637.2 742.2,634.6 742.2,632.0 742.2,629.3 742.2,626.7 742.2,624.1 742.2,621.5 742.2,618.8 742.2,616.2 742.2,613.6 742.2,611.0 742.2,608.3 742.2,605.7 742.2,603.1 742.2,600.5 742.2,597.8 742.2,595.2 742.2,592.6 742.2,590.0 742.2,587.3 742.2,584.7 742.0,582.1 741.6,580.9 741.3,579.5 739.8,576.8 739.0,575.4 738.3,574.2 736.6,571.6 736.4,571.3 734.7,569.0 733.8,567.7 732.7,566.3 731.1,564.5 730.4,563.7 728.5,561.7 727.9,561.1 725.9,559.1 725.2,558.5 723.3,556.8 722.1,555.8 720.6,554.7 718.7,553.2 718.0,552.7 715.4,551.0 714.8,550.6 712.8,549.4 710.1,548.1 709.8,548.0 707.5,546.9 704.9,545.9 702.9,545.3 702.3,545.1 699.6,544.3 697.0,543.7 694.4,543.2 691.8,542.8 690.7,542.7 689.1,542.5Z" stroke="#ffae00"/><path d="M683.9,547.9 683.7,548.0 681.3,548.0 678.6,548.1 676.0,548.3 673.4,548.6 670.8,549.0 668.1,549.5 665.5,550.2 664.4,550.6 662.9,551.0 660.3,552.0 658.1,553.2 657.6,553.5 655.0,555.3 654.3,555.8 652.4,557.5 651.3,558.5 649.8,560.0 648.6,561.1 647.1,562.5 645.8,563.7 644.5,565.0 643.2,566.3 641.9,567.7 640.8,569.0 639.3,570.8 638.6,571.6 636.7,574.2 636.6,574.2 634.9,576.8 634.0,579.3 634.0,579.5 634.0,582.1 634.0,584.7 634.0,587.3 634.0,590.0 634.0,592.6 634.0,595.2 634.0,597.8 633.9,600.5 633.9,603.1 633.9,605.7 633.9,608.3 633.9,611.0 633.9,613.6 633.9,616.2 633.9,618.8 633.9,621.5 633.9,624.1 633.9,626.7 633.9,629.3 633.9,632.0 634.0,634.6 634.0,637.2 634.0,639.8 634.0,642.5 634.0,645.1 634.0,647.7 634.0,650.3 634.0,653.0 634.0,653.1 634.9,655.6 636.6,658.2 636.7,658.2 638.6,660.8 639.3,661.6 640.8,663.5 641.9,664.7 643.2,666.1 644.5,667.4 645.8,668.7 647.1,669.9 648.6,671.3 649.8,672.4 651.3,674.0 652.4,674.9 654.3,676.6 655.0,677.1 657.6,678.9 658.1,679.2 660.3,680.4 662.9,681.4 664.4,681.8 665.5,682.2 668.1,682.9 670.8,683.4 673.4,683.8 676.0,684.1 678.6,684.3 681.3,684.4 683.7,684.5 683.9,684.5 684.1,684.5 686.5,684.4 689.1,684.3 691.8,684.1 694.4,683.8 697.0,683.4 699.6,682.9 702.3,682.2 703.4,681.8 704.9,681.4 707.5,680.4 709.7,679.2 710.1,678.9 712.8,677.1 713.5,676.6 715.4,674.9 716.5,674.0 718.0,672.4 719.2,671.3 720.6,669.9 722.0,668.7 723.3,667.4 724.6,666.1 725.9,664.7 727.0,663.5 728.5,661.6 729.2,660.8 731.1,658.2 731.1,658.2 732.9,655.6 733.8,653.1 733.8,653.0 733.8,650.3 733.8,647.7 733.8,645.1 733.8,642.5 733.8,639.8 733.8,637.2 733.8,634.6 733.9,632.0 733.9,629.3 733.9,626.7 733.9,624.1 733.9,621.5 733.9,618.8 733.9,616.2 733.9,613.6 733.9,611.0 733.9,608.3 733.9,605.7 733.9,603.1 733.9,600.5 733.8,597.8 733.8,595.2 733.8,592.6 733.8,590.0 733.8,587.3 733.8,584.7 733.8,582.1 733.8,579.5 733.8,579.3 732.9,576.8 731.1,574.2 731.1,574.2 729.2,571.6 728.5,570.8 727.0,569.0 725.9,567.7 724.6,566.3 723.3,565.0 722.0,563.7 720.6,562.5 719.2,561.1 718.0,560.0 716.5,558.5 715.4,557.5 713.5,555.8 712.8,555.3 710.1,553.5 709.7,553.2 707.5,552.0 704.9,551.0 703.4,550.6 702.3,550.2 699.6,549.5 697.0,549.0 694.4,548.6 691.8,548.3 689.1,548.1 686.5,548.0 684.1,548.0 683.9,547.9Z" stroke="#d4ff00"/><path d="M699.6,553.0 697.0,552.4 694.4,552.1 691.8,551.9 689.1,551.7 686.5,551.6 683.9,551.6 681.3,551.6 678.6,551.7 676.0,551.9 673.4,552.1 670.8,552.4 668.1,553.0 667.4,553.2 665.5,553.7 662.9,554.7 660.7,555.8 660.3,556.1 657.6,558.2 657.4,558.5 655.1,561.1 655.0,561.2 653.3,563.7 652.4,565.3 651.7,566.3 649.9,569.0 649.8,569.2 647.9,571.6 647.1,572.6 645.8,574.2 644.5,575.8 643.7,576.8 641.9,579.3 641.8,579.5 641.5,582.1 641.5,584.7 641.5,587.3 641.4,590.0 641.4,592.6 641.4,595.2 641.4,597.8 641.3,600.5 641.3,603.1 641.2,605.7 641.2,608.3 641.1,611.0 641.1,613.6 641.1,616.2 641.1,618.8 641.1,621.5 641.2,624.1 641.2,626.7 641.3,629.3 641.3,632.0 641.4,634.6 641.4,637.2 641.4,639.8 641.4,642.5 641.5,645.1 641.5,647.7 641.5,650.3 641.8,653.0 641.9,653.1 643.7,655.6 644.5,656.6 645.8,658.2 647.1,659.8 647.9,660.8 649.8,663.2 649.9,663.5 651.7,666.1 652.4,667.1 653.3,668.7 655.0,671.2 655.1,671.3 657.4,674.0 657.6,674.2 660.3,676.3 660.7,676.6 662.9,677.7 665.5,678.7 667.4,679.2 668.1,679.4 670.8,680.0 673.4,680.3 676.0,680.5 678.6,680.7 681.3,680.8 683.9,680.8 686.5,680.8 689.1,680.7 691.8,680.5 694.4,680.3 697.0,680.0 699.6,679.4 700.4,679.2 702.3,678.7 704.9,677.7 707.1,676.6 707.5,676.3 710.1,674.2 710.4,674.0 712.7,671.3 712.8,671.2 714.5,668.7 715.4,667.1 716.1,666.1 717.9,663.5 718.0,663.2 719.9,660.8 720.6,659.8 722.0,658.2 723.3,656.6 724.1,655.6 725.9,653.1 726.0,653.0 726.3,650.3 726.3,647.7 726.3,645.1 726.4,642.5 726.4,639.8 726.4,637.2 726.4,634.6 726.5,632.0 726.5,629.3 726.6,626.7 726.6,624.1 726.7,621.5 726.7,618.8 726.7,616.2 726.7,613.6 726.7,611.0 726.6,608.3 726.6,605.7 726.5,603.1 726.5,600.5 726.4,597.8 726.4,595.2 726.4,592.6 726.4,590.0 726.3,587.3 726.3,584.7 726.3,582.1 726.0,579.5 725.9,579.3 724.1,576.8 723.3,575.8 722.0,574.2 720.6,572.6 719.9,571.6 718.0,569.2 717.9,569.0 716.1,566.3 715.4,565.3 714.5,563.7 712.8,561.2 712.7,561.1 710.4,558.5 710.1,558.2 707.5,556.1 707.1,555.8 704.9,554.7 702.3,553.7 700.4,553.2 699.6,553.0Z" stroke="#47ff00"/><path d="M697.0,555.4 694.4,555.0 691.8,554.8 689.1,554.7 686.5,554.6 683.9,554.6 681.3,554.6 678.6,554.7 676.0,554.8 673.4,555.0 670.8,555.4 668.9,555.8 668.1,556.0 665.5,557.0 662.9,558.4 662.8,558.5 660.3,561.0 660.2,561.1 658.5,563.7 657.6,565.4 657.2,566.3 656.0,569.0 655.0,571.3 654.9,571.6 653.6,574.2 652.4,576.8 652.4,576.9 651.0,579.5 650.2,582.1 650.1,584.7 650.1,587.3 650.2,590.0 650.3,592.6 650.1,595.2 649.8,597.1 649.7,597.8 649.0,600.5 648.3,603.1 647.6,605.7 647.1,607.9 647.1,608.3 646.8,611.0 646.7,613.6 646.6,616.2 646.7,618.8 646.8,621.5 647.1,624.1 647.1,624.5 647.6,626.7 648.3,629.3 649.0,632.0 649.7,634.6 649.8,635.3 650.1,637.2 650.3,639.8 650.2,642.5 650.1,645.1 650.1,647.7 650.2,650.3 651.0,653.0 652.4,655.5 652.4,655.6 653.6,658.2 654.9,660.8 655.0,661.1 656.0,663.5 657.2,666.1 657.6,667.0 658.5,668.7 660.2,671.3 660.3,671.4 662.8,674.0 662.9,674.0 665.5,675.4 668.1,676.4 668.9,676.6 670.8,677.0 673.4,677.4 676.0,677.6 678.6,677.7 681.3,677.8 683.9,677.8 686.5,677.8 689.1,677.7 691.8,677.6 694.4,677.4 697.0,677.0 698.9,676.6 699.6,676.4 702.3,675.4 704.9,674.0 705.0,674.0 707.5,671.4 707.6,671.3 709.3,668.7 710.1,667.0 710.6,666.1 711.8,663.5 712.8,661.1 712.9,660.8 714.2,658.2 715.4,655.6 715.4,655.5 716.8,653.0 717.6,650.3 717.7,647.7 717.7,645.1 717.6,642.5 717.5,639.8 717.7,637.2 718.0,635.3 718.1,634.6 718.8,632.0 719.5,629.3 720.2,626.7 720.6,624.5 720.7,624.1 721.0,621.5 721.1,618.8 721.2,616.2 721.1,613.6 721.0,611.0 720.7,608.3 720.6,607.9 720.2,605.7 719.5,603.1 718.8,600.5 718.1,597.8 718.0,597.1 717.7,595.2 717.5,592.6 717.6,590.0 717.7,587.3 717.7,584.7 717.6,582.1 716.8,579.5 715.4,576.9 715.4,576.8 714.2,574.2 712.9,571.6 712.8,571.3 711.8,569.0 710.6,566.3 710.1,565.4 709.3,563.7 707.6,561.1 707.5,561.0 705.0,558.5 704.9,558.4 702.3,557.0 699.6,556.0 698.9,555.8 697.0,555.4Z" stroke="#00ff00"/><path d="M694.4,558.0 691.8,557.7 689.1,557.5 686.5,557.5 683.9,557.4 681.3,557.5 678.6,557.5 676.0,557.7 673.4,558.0 670.9,558.5 670.8,558.5 668.1,559.4 665.5,560.9 665.3,561.1 662.9,563.7 662.9,563.7 661.4,566.3 660.3,569.0 660.3,569.0 659.3,571.6 658.3,574.2 657.7,576.8 657.6,576.9 657.3,579.5 657.3,582.1 657.6,583.8 657.8,584.7 658.9,587.3 660.3,589.1 661.3,590.0 662.9,591.1 665.5,592.3 666.4,592.6 668.1,593.3 670.8,594.3 673.3,595.2 673.4,595.4 675.6,597.8 673.5,600.5 673.4,600.5 671.5,603.1 670.8,604.1 670.0,605.7 669.1,608.3 668.5,611.0 668.1,613.4 668.1,613.6 667.9,616.2 668.1,618.8 668.1,619.0 668.5,621.5 669.1,624.1 670.0,626.7 670.8,628.3 671.5,629.3 673.4,631.9 673.5,632.0 675.6,634.6 673.4,637.0 673.3,637.2 670.8,638.1 668.1,639.1 666.4,639.8 665.5,640.1 662.9,641.3 661.3,642.5 660.3,643.3 658.9,645.1 657.8,647.7 657.6,648.6 657.3,650.3 657.3,653.0 657.6,655.5 657.7,655.6 658.3,658.2 659.3,660.8 660.3,663.4 660.3,663.5 661.4,666.1 662.9,668.7 662.9,668.7 665.3,671.3 665.5,671.5 668.1,673.0 670.8,673.9 670.9,674.0 673.4,674.4 676.0,674.7 678.6,674.9 681.3,674.9 683.9,675.0 686.5,674.9 689.1,674.9 691.8,674.7 694.4,674.4 696.9,674.0 697.0,673.9 699.6,673.0 702.3,671.5 702.5,671.3 704.9,668.7 704.9,668.7 706.4,666.1 707.5,663.5 707.5,663.4 708.5,660.8 709.5,658.2 710.1,655.6 710.1,655.5 710.5,653.0 710.5,650.3 710.1,648.6 710.0,647.7 708.9,645.1 707.5,643.3 706.5,642.5 704.9,641.3 702.3,640.1 701.4,639.8 699.6,639.1 697.0,638.1 694.5,637.2 694.4,637.0 692.2,634.6 694.3,632.0 694.4,631.9 696.3,629.3 697.0,628.3 697.8,626.7 698.7,624.1 699.3,621.5 699.6,619.0 699.7,618.8 699.9,616.2 699.7,613.6 699.6,613.4 699.3,611.0 698.7,608.3 697.8,605.7 697.0,604.1 696.3,603.1 694.4,600.5 694.3,600.5 692.2,597.8 694.4,595.4 694.5,595.2 697.0,594.3 699.6,593.3 701.4,592.6 702.3,592.3 704.9,591.1 706.5,590.0 707.5,589.1 708.9,587.3 710.0,584.7 710.1,583.8 710.5,582.1 710.5,579.5 710.1,576.9 710.1,576.8 709.5,574.2 708.5,571.6 707.5,569.0 707.5,569.0 706.4,566.3 704.9,563.7 704.9,563.7 702.5,561.1 702.3,560.9 699.6,559.4 697.0,558.5 696.9,558.5 694.4,558.0Z" stroke="#00ff30"/><path d="M691.8,642.2 689.1,641.9 686.5,641.7 683.9,641.6 681.3,641.7 678.6,641.9 676.0,642.2 674.6,642.5 673.4,642.6 670.8,643.4 668.1,644.5 666.7,645.1 665.5,645.6 662.9,647.3 662.6,647.7 661.4,650.3 661.7,653.0 662.6,655.6 662.9,657.8 663.0,658.2 663.3,660.8 664.5,663.5 665.5,665.3 666.1,666.1 668.1,668.4 668.5,668.7 670.8,670.0 673.4,670.9 675.7,671.3 676.0,671.4 678.6,671.6 681.3,671.7 683.9,671.7 686.5,671.7 689.1,671.6 691.8,671.4 692.1,671.3 694.4,670.9 697.0,670.0 699.3,668.7 699.6,668.4 701.7,666.1 702.3,665.3 703.3,663.5 704.5,660.8 704.8,658.2 704.9,657.8 705.2,655.6 706.1,653.0 706.4,650.3 705.2,647.7 704.9,647.3 702.3,645.6 701.1,645.1 699.6,644.5 697.0,643.4 694.4,642.6 693.2,642.5 691.8,642.2Z M683.9,603.0 683.6,603.1 681.3,603.4 678.6,604.1 676.0,605.5 675.8,605.7 673.4,608.1 673.3,608.3 672.0,611.0 671.3,613.6 671.1,616.2 671.3,618.8 672.0,621.5 673.3,624.1 673.4,624.3 675.8,626.7 676.0,626.9 678.6,628.3 681.3,629.0 683.6,629.3 683.9,629.4 684.2,629.3 686.5,629.0 689.1,628.3 691.8,626.9 692.0,626.7 694.4,624.3 694.5,624.1 695.8,621.5 696.5,618.8 696.7,616.2 696.5,613.6 695.8,611.0 694.5,608.3 694.4,608.1 692.0,605.7 691.8,605.5 689.1,604.1 686.5,603.4 684.2,603.1 683.9,603.0Z M691.8,561.0 689.1,560.8 686.5,560.7 683.9,560.7 681.3,560.7 678.6,560.8 676.0,561.0 675.7,561.1 673.4,561.5 670.8,562.4 668.5,563.7 668.1,564.0 666.1,566.3 665.5,567.1 664.5,569.0 663.3,571.6 663.0,574.2 662.9,574.6 662.6,576.8 661.7,579.5 661.4,582.1 662.6,584.7 662.9,585.1 665.5,586.8 666.7,587.3 668.1,587.9 670.8,589.0 673.4,589.8 674.6,590.0 676.0,590.2 678.6,590.5 681.3,590.7 683.9,590.8 686.5,590.7 689.1,590.5 691.8,590.2 693.2,590.0 694.4,589.8 697.0,589.0 699.6,587.9 701.1,587.3 702.3,586.8 704.9,585.1 705.2,584.7 706.4,582.1 706.1,579.5 705.2,576.8 704.9,574.6 704.8,574.2 704.5,571.6 703.3,569.0 702.3,567.1 701.7,566.3 699.6,564.0 699.3,563.7 697.0,562.4 694.4,561.5 692.1,561.1 691.8,561.0Z" stroke="#00ffcf"/><path d="M694.4,647.5 691.8,646.7 689.1,646.4 686.5,646.3 683.9,646.1 681.3,646.3 678.6,646.4 676.0,646.7 673.4,647.5 673.0,647.7 670.8,649.0 669.5,650.3 668.8,653.0 668.5,655.6 668.1,657.0 667.8,658.2 667.7,660.8 668.1,661.6 669.6,663.5 670.8,664.4 673.4,665.6 675.7,666.1 676.0,666.2 678.6,666.6 681.3,666.8 683.9,666.9 686.5,666.8 689.1,666.6 691.8,666.2 692.1,666.1 694.4,665.6 697.0,664.4 698.2,663.5 699.6,661.6 700.1,660.8 700.0,658.2 699.6,657.0 699.3,655.6 699.0,653.0 698.3,650.3 697.0,649.0 694.8,647.7 694.4,647.5Z M686.5,607.7 683.9,607.3 681.3,607.7 679.6,608.3 678.6,608.8 676.1,611.0 676.0,611.1 674.8,613.6 674.4,616.2 674.8,618.8 676.0,621.3 676.1,621.5 678.6,623.6 679.6,624.1 681.3,624.7 683.9,625.1 686.5,624.7 688.2,624.1 689.1,623.6 691.7,621.5 691.8,621.3 693.0,618.8 693.4,616.2 693.0,613.6 691.8,611.1 691.7,611.0 689.1,608.8 688.2,608.3 686.5,607.7Z M691.8,566.2 689.1,565.8 686.5,565.6 683.9,565.5 681.3,565.6 678.6,565.8 676.0,566.2 675.7,566.3 673.4,566.8 670.8,568.0 669.6,569.0 668.1,570.8 667.7,571.6 667.8,574.2 668.1,575.4 668.5,576.8 668.8,579.5 669.5,582.1 670.8,583.4 673.0,584.7 673.4,584.9 676.0,585.7 678.6,586.0 681.3,586.1 683.9,586.3 686.5,586.1 689.1,586.0 691.8,585.7 694.4,584.9 694.8,584.7 697.0,583.4 698.3,582.1 699.0,579.5 699.3,576.8 699.6,575.4 700.0,574.2 700.1,571.6 699.6,570.8 698.2,569.0 697.0,568.0 694.4,566.8 692.1,566.3 691.8,566.2Z" stroke="#009cff"/><path d="M691.8,649.4 689.1,649.1 686.5,649.0 683.9,648.9 681.3,649.0 678.6,649.1 676.0,649.4 673.5,650.3 673.4,650.4 671.9,653.0 671.5,655.6 671.1,658.2 671.8,660.8 673.4,661.9 676.0,662.6 678.6,662.9 681.3,663.0 683.9,663.1 686.5,663.0 689.1,662.9 691.8,662.6 694.4,661.9 696.0,660.8 696.7,658.2 696.3,655.6 695.9,653.0 694.4,650.4 694.3,650.3 691.8,649.4Z M686.5,612.8 683.9,611.9 681.3,612.8 680.2,613.6 679.0,616.2 680.2,618.8 681.3,619.6 683.9,620.5 686.5,619.6 687.6,618.8 688.8,616.2 687.6,613.6 686.5,612.8Z M694.4,570.5 691.8,569.8 689.1,569.5 686.5,569.4 683.9,569.3 681.3,569.4 678.6,569.5 676.0,569.8 673.4,570.5 671.8,571.6 671.1,574.2 671.5,576.8 671.9,579.5 673.4,582.0 673.5,582.1 676.0,583.0 678.6,583.3 681.3,583.4 683.9,583.5 686.5,583.4 689.1,583.3 691.8,583.0 694.3,582.1 694.4,582.0 695.9,579.5 696.3,576.8 696.7,574.2 696.0,571.6 694.4,570.5Z" stroke="#000eff"/><path d="M691.8,652.6 689.1,651.9 686.5,651.6 683.9,651.5 681.3,651.6 678.6,651.9 676.0,652.6 675.7,653.0 675.2,655.6 675.3,658.2 676.0,659.0 678.6,660.0 681.3,660.3 683.9,660.5 686.5,660.3 689.1,660.0 691.8,659.0 692.5,658.2 692.6,655.6 692.1,653.0 691.8,652.6Z M691.8,573.4 689.1,572.4 686.5,572.1 683.9,571.9 681.3,572.1 678.6,572.4 676.0,573.4 675.3,574.2 675.2,576.8 675.7,579.5 676.0,579.8 678.6,580.5 681.3,580.8 683.9,580.9 686.5,580.8 689.1,580.5 691.8,579.8 692.1,579.5 692.6,576.8 692.5,574.2 691.8,573.4Z" stroke="#5200ff"/></g></g><rect x="556.0" y="488.2" width="256.7" height="255.8" fill="none" stroke="#111" stroke-width="1.8"/><path d="M541.0 741.2H556.0 M558.9 744.0V759.0 M541.0 678.7H556.0 M621.4 744.0V759.0 M541.0 616.2H556.0 M683.9 744.0V759.0 M541.0 553.7H556.0 M746.4 744.0V759.0 M541.0 491.2H556.0 M808.9 744.0V759.0" stroke="#111" stroke-width="1.9" fill="none"/><text x="534.4" y="748.1" font-size="19.8" text-anchor="end">−4</text><text x="556.5" y="785.4" font-size="19.8" text-anchor="middle">−4</text><text x="534.4" y="685.6" font-size="19.8" text-anchor="end">−2</text><text x="619.0" y="785.4" font-size="19.8" text-anchor="middle">−2</text><text x="534.4" y="623.1" font-size="19.8" text-anchor="end">0</text><text x="684.4" y="785.4" font-size="19.8" text-anchor="middle">0</text><text x="534.4" y="560.6" font-size="19.8" text-anchor="end">2</text><text x="746.9" y="785.4" font-size="19.8" text-anchor="middle">2</text><text x="534.4" y="498.1" font-size="19.8" text-anchor="end">4</text><text x="809.4" y="785.4" font-size="19.8" text-anchor="middle">4</text><text x="581.9" y="817.0" font-size="19.8">momentum (10</text><text x="717.4" y="804.0" font-size="14.4">5</text><text x="730.3" y="817.0" font-size="19.8" font-style="italic">u</text><text x="746.4" y="817.0" font-size="19.8">m/s)</text><g transform="translate(489.3 716.2) rotate(-90)"><text x="-1.4" y="0.0" font-size="19.8">momentum (10</text><text x="134.1" y="-13.0" font-size="14.4">5</text><text x="147.0" y="0.0" font-size="19.8" font-style="italic">u</text><text x="163.1" y="0.0" font-size="19.8">m/s)</text></g><rect x="557.0" y="489.2" width="102.0" height="42.5" fill="#fff"/><text x="563.8" y="525.2" font-size="27.0">(e)</text><text x="602.8" y="507.3" font-size="17.4">35</text><text x="623.6" y="525.2" font-size="27.0">Cl</text><text x="648.6" y="507.7" font-size="18.0">+</text><rect x="822.1" y="494.8" width="6.1" height="74.5" fill="url(#cbg)" stroke="#111" stroke-width="1.6"/><path d="M829.0 527.5H834.5" stroke="#111" stroke-width="1.9"/><text x="843.1" y="534.6" font-size="18.4">1</text><path d="M829.0 564.3H834.5" stroke="#111" stroke-width="1.9"/><text x="843.1" y="571.4" font-size="18.4">0</text><g transform="translate(830.0 582.3) rotate(90)"><text x="0.0" y="0.0" font-size="20.0">×10</text><text x="28.0" y="-13.6" font-size="15.0">−3</text></g><path d="M1017.1 489.2V743.0 M952.5 678.7H1207.3 M1079.6 489.2V743.0 M952.5 616.2H1207.3 M1142.1 489.2V743.0 M952.5 553.7H1207.3" stroke="#a4a4ff" stroke-width="1.3" stroke-dasharray="2.6 2.6" fill="none"/><clipPath id="cpf"><rect x="951.5" y="488.2" width="256.8" height="255.8"/></clipPath><g clip-path="url(#cpf)"><g fill="none" stroke-width="2.4" stroke-linejoin="round" stroke-linecap="round"><path d="M1095.3,524.2 1092.7,524.1 1090.1,524.0 1087.5,523.9 1084.8,523.8 1082.2,523.8 1079.6,523.8 1077.0,523.8 1074.3,523.8 1071.7,523.9 1069.1,524.0 1066.5,524.1 1063.8,524.2 1061.7,524.3 1061.2,524.4 1058.6,525.6 1056.0,526.3 1053.3,526.8 1052.5,527.0 1050.7,527.9 1048.1,529.1 1046.4,529.6 1045.5,530.1 1042.8,531.9 1042.2,532.2 1040.2,533.9 1038.5,534.8 1037.6,535.6 1035.0,537.5 1035.0,537.5 1032.7,540.1 1032.3,540.5 1031.0,542.7 1029.7,544.1 1029.1,545.3 1027.1,547.6 1026.9,548.0 1025.7,550.6 1024.5,552.3 1024.2,553.2 1023.1,555.8 1021.8,557.7 1021.6,558.5 1021.0,561.1 1019.4,563.7 1019.2,564.1 1018.9,566.3 1018.5,569.0 1017.6,571.6 1016.6,573.9 1016.5,574.2 1016.3,576.8 1016.1,579.5 1015.8,582.1 1015.4,584.7 1015.0,587.3 1014.7,590.0 1014.6,592.6 1014.9,595.2 1015.5,597.8 1016.0,600.5 1016.4,603.1 1016.6,603.7 1017.8,605.7 1018.8,608.3 1019.2,611.0 1019.2,611.2 1020.4,613.6 1020.7,616.2 1020.4,618.8 1019.2,621.2 1019.2,621.5 1018.8,624.1 1017.8,626.7 1016.6,628.7 1016.4,629.3 1016.0,632.0 1015.5,634.6 1014.9,637.2 1014.6,639.8 1014.7,642.5 1015.0,645.1 1015.4,647.7 1015.8,650.3 1016.1,653.0 1016.3,655.6 1016.5,658.2 1016.6,658.5 1017.6,660.8 1018.5,663.5 1018.9,666.1 1019.2,668.3 1019.4,668.7 1021.0,671.3 1021.6,674.0 1021.8,674.7 1023.1,676.6 1024.2,679.2 1024.5,680.1 1025.7,681.8 1026.9,684.5 1027.1,684.8 1029.1,687.1 1029.7,688.3 1031.0,689.7 1032.3,691.9 1032.7,692.3 1035.0,694.9 1035.0,695.0 1037.6,696.8 1038.5,697.6 1040.2,698.5 1042.2,700.2 1042.8,700.5 1045.5,702.3 1046.4,702.8 1048.1,703.3 1050.7,704.5 1052.5,705.5 1053.3,705.6 1056.0,706.1 1058.6,706.8 1061.2,708.0 1061.7,708.1 1063.8,708.2 1066.5,708.3 1069.1,708.4 1071.7,708.5 1074.3,708.6 1077.0,708.6 1079.6,708.6 1082.2,708.6 1084.8,708.6 1087.5,708.5 1090.1,708.4 1092.7,708.3 1095.3,708.2 1097.5,708.1 1098.0,708.0 1100.6,706.8 1103.2,706.1 1105.8,705.6 1106.7,705.5 1108.5,704.5 1111.1,703.3 1112.8,702.8 1113.7,702.3 1116.3,700.5 1117.0,700.2 1119.0,698.5 1120.7,697.6 1121.6,696.8 1124.2,695.0 1124.2,694.9 1126.5,692.3 1126.8,691.9 1128.2,689.7 1129.5,688.3 1130.1,687.1 1132.1,684.8 1132.3,684.5 1133.5,681.8 1134.7,680.1 1135.0,679.2 1136.1,676.6 1137.3,674.7 1137.6,674.0 1138.2,671.3 1139.8,668.7 1140.0,668.3 1140.3,666.1 1140.7,663.5 1141.6,660.8 1142.6,658.5 1142.7,658.2 1142.9,655.6 1143.1,653.0 1143.4,650.3 1143.8,647.7 1144.2,645.1 1144.5,642.5 1144.6,639.8 1144.3,637.2 1143.7,634.6 1143.2,632.0 1142.8,629.3 1142.6,628.7 1141.4,626.7 1140.4,624.1 1140.0,621.5 1140.0,621.2 1138.8,618.8 1138.5,616.2 1138.8,613.6 1140.0,611.2 1140.0,611.0 1140.4,608.3 1141.4,605.7 1142.6,603.7 1142.8,603.1 1143.2,600.5 1143.7,597.8 1144.3,595.2 1144.6,592.6 1144.5,590.0 1144.2,587.3 1143.8,584.7 1143.4,582.1 1143.1,579.5 1142.9,576.8 1142.7,574.2 1142.6,573.9 1141.6,571.6 1140.7,569.0 1140.3,566.3 1140.0,564.1 1139.8,563.7 1138.2,561.1 1137.6,558.5 1137.3,557.7 1136.1,555.8 1135.0,553.2 1134.7,552.3 1133.5,550.6 1132.3,548.0 1132.1,547.6 1130.1,545.3 1129.5,544.1 1128.2,542.7 1126.8,540.5 1126.5,540.1 1124.2,537.5 1124.2,537.5 1121.6,535.6 1120.7,534.8 1119.0,533.9 1117.0,532.2 1116.3,531.9 1113.7,530.1 1112.8,529.6 1111.1,529.1 1108.5,527.9 1106.7,527.0 1105.8,526.8 1103.2,526.3 1100.6,525.6 1098.0,524.4 1097.5,524.3 1095.3,524.2Z" stroke="#ff3a00"/><path d="M1082.2,617.8 1079.6,616.2 1077.0,617.8 1076.4,618.8 1074.3,619.5 1071.7,620.7 1070.3,621.5 1069.1,622.1 1066.5,623.5 1065.2,624.1 1063.8,624.7 1061.2,625.9 1059.1,626.7 1058.6,626.9 1056.0,627.9 1053.3,629.0 1052.7,629.3 1050.7,630.2 1048.1,631.6 1047.5,632.0 1045.5,633.2 1043.6,634.6 1042.8,635.2 1040.6,637.2 1040.2,637.6 1038.3,639.8 1037.6,640.8 1036.4,642.5 1035.0,645.1 1035.0,645.1 1033.9,647.7 1033.1,650.3 1032.6,653.0 1032.3,655.0 1032.3,655.6 1032.2,658.2 1032.2,660.8 1032.3,663.5 1032.3,663.9 1032.6,666.1 1033.1,668.7 1033.9,671.3 1034.9,674.0 1035.0,674.2 1036.2,676.6 1037.6,678.8 1037.9,679.2 1040.0,681.8 1040.2,682.1 1042.7,684.5 1042.8,684.6 1045.5,686.6 1046.1,687.1 1048.1,688.3 1050.6,689.7 1050.7,689.8 1053.3,691.0 1056.0,692.0 1057.1,692.3 1058.6,692.8 1061.2,693.5 1063.8,694.1 1066.5,694.6 1069.1,694.9 1070.5,695.0 1071.7,695.1 1074.3,695.2 1077.0,695.3 1079.6,695.3 1082.2,695.3 1084.8,695.2 1087.5,695.1 1088.7,695.0 1090.1,694.9 1092.7,694.6 1095.3,694.1 1098.0,693.5 1100.6,692.8 1102.1,692.3 1103.2,692.0 1105.8,691.0 1108.5,689.8 1108.6,689.7 1111.1,688.3 1113.1,687.1 1113.7,686.6 1116.3,684.6 1116.5,684.5 1119.0,682.1 1119.2,681.8 1121.3,679.2 1121.6,678.8 1123.0,676.6 1124.2,674.2 1124.3,674.0 1125.3,671.3 1126.1,668.7 1126.6,666.1 1126.8,663.9 1126.9,663.5 1127.0,660.8 1127.0,658.2 1126.9,655.6 1126.8,655.0 1126.6,653.0 1126.1,650.3 1125.3,647.7 1124.2,645.1 1124.2,645.1 1122.8,642.5 1121.6,640.8 1120.9,639.8 1119.0,637.6 1118.6,637.2 1116.3,635.2 1115.6,634.6 1113.7,633.2 1111.7,632.0 1111.1,631.6 1108.5,630.2 1106.5,629.3 1105.8,629.0 1103.2,627.9 1100.6,626.9 1100.1,626.7 1098.0,625.9 1095.3,624.7 1094.0,624.1 1092.7,623.5 1090.1,622.1 1088.9,621.5 1087.5,620.7 1084.8,619.5 1082.8,618.8 1082.2,617.8Z M1087.5,537.3 1084.8,537.2 1082.2,537.1 1079.6,537.1 1077.0,537.1 1074.3,537.2 1071.7,537.3 1070.5,537.5 1069.1,537.5 1066.5,537.8 1063.8,538.3 1061.2,538.9 1058.6,539.6 1057.1,540.1 1056.0,540.4 1053.3,541.4 1050.7,542.6 1050.6,542.7 1048.1,544.1 1046.1,545.3 1045.5,545.8 1042.8,547.8 1042.7,548.0 1040.2,550.3 1040.0,550.6 1037.9,553.2 1037.6,553.6 1036.2,555.8 1035.0,558.2 1034.9,558.5 1033.9,561.1 1033.1,563.7 1032.6,566.3 1032.3,568.5 1032.3,569.0 1032.2,571.6 1032.2,574.2 1032.3,576.8 1032.3,577.4 1032.6,579.5 1033.1,582.1 1033.9,584.7 1035.0,587.3 1035.0,587.3 1036.4,590.0 1037.6,591.6 1038.3,592.6 1040.2,594.8 1040.6,595.2 1042.8,597.2 1043.6,597.8 1045.5,599.2 1047.5,600.5 1048.1,600.8 1050.7,602.2 1052.7,603.1 1053.3,603.4 1056.0,604.5 1058.6,605.5 1059.1,605.7 1061.2,606.5 1063.8,607.7 1065.2,608.3 1066.5,608.9 1069.1,610.3 1070.3,611.0 1071.7,611.7 1074.3,612.9 1076.4,613.6 1077.0,614.6 1079.6,616.2 1082.2,614.6 1082.8,613.6 1084.8,612.9 1087.5,611.7 1088.9,611.0 1090.1,610.3 1092.7,608.9 1094.0,608.3 1095.3,607.7 1098.0,606.5 1100.1,605.7 1100.6,605.5 1103.2,604.5 1105.8,603.4 1106.5,603.1 1108.5,602.2 1111.1,600.8 1111.7,600.5 1113.7,599.2 1115.6,597.8 1116.3,597.2 1118.6,595.2 1119.0,594.8 1120.9,592.6 1121.6,591.6 1122.8,590.0 1124.2,587.3 1124.2,587.3 1125.3,584.7 1126.1,582.1 1126.6,579.5 1126.8,577.4 1126.9,576.8 1127.0,574.2 1127.0,571.6 1126.9,569.0 1126.8,568.5 1126.6,566.3 1126.1,563.7 1125.3,561.1 1124.3,558.5 1124.2,558.2 1123.0,555.8 1121.6,553.6 1121.3,553.2 1119.2,550.6 1119.0,550.3 1116.5,548.0 1116.3,547.8 1113.7,545.8 1113.1,545.3 1111.1,544.1 1108.6,542.7 1108.5,542.6 1105.8,541.4 1103.2,540.4 1102.1,540.1 1100.6,539.6 1098.0,538.9 1095.3,538.3 1092.7,537.8 1090.1,537.5 1088.7,537.5 1087.5,537.3Z" stroke="#ffae00"/><path d="M1087.5,628.8 1084.8,628.3 1082.2,628.0 1079.6,627.9 1077.0,628.0 1074.3,628.3 1071.7,628.8 1069.5,629.3 1069.1,629.4 1066.5,630.1 1063.8,630.9 1061.2,631.7 1060.6,632.0 1058.6,632.7 1056.0,633.8 1054.3,634.6 1053.3,635.1 1050.7,636.6 1049.9,637.2 1048.1,638.5 1046.6,639.8 1045.5,641.0 1044.2,642.5 1042.8,644.3 1042.4,645.1 1041.0,647.7 1040.2,649.7 1040.0,650.3 1039.4,653.0 1039.0,655.6 1038.8,658.2 1038.8,660.8 1039.0,663.5 1039.4,666.1 1040.0,668.7 1040.2,669.4 1040.9,671.3 1042.2,674.0 1042.8,675.0 1043.9,676.6 1045.5,678.5 1046.1,679.2 1048.1,681.1 1049.0,681.8 1050.7,683.1 1052.9,684.5 1053.3,684.7 1056.0,686.0 1058.5,687.1 1058.6,687.1 1061.2,688.0 1063.8,688.7 1066.5,689.2 1069.1,689.6 1069.6,689.7 1071.7,689.9 1074.3,690.1 1077.0,690.2 1079.6,690.2 1082.2,690.2 1084.8,690.1 1087.5,689.9 1089.6,689.7 1090.1,689.6 1092.7,689.2 1095.3,688.7 1098.0,688.0 1100.6,687.1 1100.7,687.1 1103.2,686.0 1105.8,684.7 1106.3,684.5 1108.5,683.1 1110.2,681.8 1111.1,681.1 1113.1,679.2 1113.7,678.5 1115.3,676.6 1116.3,675.0 1117.0,674.0 1118.3,671.3 1119.0,669.4 1119.2,668.7 1119.8,666.1 1120.2,663.5 1120.4,660.8 1120.4,658.2 1120.2,655.6 1119.8,653.0 1119.2,650.3 1119.0,649.7 1118.2,647.7 1116.8,645.1 1116.3,644.3 1115.0,642.5 1113.7,641.0 1112.6,639.8 1111.1,638.5 1109.3,637.2 1108.5,636.6 1105.8,635.1 1104.9,634.6 1103.2,633.8 1100.6,632.7 1098.6,632.0 1098.0,631.7 1095.3,630.9 1092.7,630.1 1090.1,629.4 1089.7,629.3 1087.5,628.8Z M1087.5,542.5 1084.8,542.3 1082.2,542.2 1079.6,542.2 1077.0,542.2 1074.3,542.3 1071.7,542.5 1069.6,542.7 1069.1,542.8 1066.5,543.2 1063.8,543.7 1061.2,544.4 1058.6,545.3 1058.5,545.3 1056.0,546.4 1053.3,547.7 1052.9,548.0 1050.7,549.3 1049.0,550.6 1048.1,551.3 1046.1,553.2 1045.5,553.9 1043.9,555.8 1042.8,557.4 1042.2,558.5 1040.9,561.1 1040.2,563.0 1040.0,563.7 1039.4,566.3 1039.0,569.0 1038.8,571.6 1038.8,574.2 1039.0,576.8 1039.4,579.5 1040.0,582.1 1040.2,582.7 1041.0,584.7 1042.4,587.3 1042.8,588.1 1044.2,590.0 1045.5,591.4 1046.6,592.6 1048.1,593.9 1049.9,595.2 1050.7,595.8 1053.3,597.3 1054.3,597.8 1056.0,598.6 1058.6,599.7 1060.6,600.5 1061.2,600.7 1063.8,601.5 1066.5,602.3 1069.1,603.0 1069.5,603.1 1071.7,603.6 1074.3,604.1 1077.0,604.4 1079.6,604.5 1082.2,604.4 1084.8,604.1 1087.5,603.6 1089.7,603.1 1090.1,603.0 1092.7,602.3 1095.3,601.5 1098.0,600.7 1098.6,600.5 1100.6,599.7 1103.2,598.6 1104.9,597.8 1105.8,597.3 1108.5,595.8 1109.3,595.2 1111.1,593.9 1112.6,592.6 1113.7,591.4 1115.0,590.0 1116.3,588.1 1116.8,587.3 1118.2,584.7 1119.0,582.7 1119.2,582.1 1119.8,579.5 1120.2,576.8 1120.4,574.2 1120.4,571.6 1120.2,569.0 1119.8,566.3 1119.2,563.7 1119.0,563.0 1118.3,561.1 1117.0,558.5 1116.3,557.4 1115.3,555.8 1113.7,553.9 1113.1,553.2 1111.1,551.3 1110.2,550.6 1108.5,549.3 1106.3,548.0 1105.8,547.7 1103.2,546.4 1100.7,545.3 1100.6,545.3 1098.0,544.4 1095.3,543.7 1092.7,543.2 1090.1,542.8 1089.6,542.7 1087.5,542.5Z" stroke="#d4ff00"/><path d="M1092.7,634.3 1090.1,633.6 1087.5,633.0 1084.8,632.6 1082.2,632.3 1079.6,632.2 1077.0,632.3 1074.3,632.6 1071.7,633.0 1069.1,633.6 1066.5,634.3 1065.7,634.6 1063.8,635.2 1061.2,636.1 1058.8,637.2 1058.6,637.3 1056.0,638.7 1054.1,639.8 1053.3,640.4 1050.9,642.5 1050.7,642.6 1048.5,645.1 1048.1,645.7 1046.8,647.7 1045.6,650.3 1045.5,650.8 1044.8,653.0 1044.3,655.6 1044.1,658.2 1044.2,660.8 1044.4,663.5 1044.8,666.1 1045.5,668.3 1045.6,668.7 1046.7,671.3 1048.1,673.6 1048.3,674.0 1050.5,676.6 1050.7,676.8 1053.3,679.2 1053.4,679.2 1056.0,680.9 1057.6,681.8 1058.6,682.3 1061.2,683.4 1063.8,684.3 1064.5,684.5 1066.5,685.0 1069.1,685.5 1071.7,685.8 1074.3,686.0 1077.0,686.2 1079.6,686.2 1082.2,686.2 1084.8,686.0 1087.5,685.8 1090.1,685.5 1092.7,685.0 1094.7,684.5 1095.3,684.3 1098.0,683.4 1100.6,682.3 1101.6,681.8 1103.2,680.9 1105.8,679.2 1105.8,679.2 1108.5,676.8 1108.7,676.6 1110.9,674.0 1111.1,673.6 1112.5,671.3 1113.6,668.7 1113.7,668.3 1114.4,666.1 1114.8,663.5 1115.0,660.8 1115.1,658.2 1114.9,655.6 1114.4,653.0 1113.7,650.8 1113.6,650.3 1112.4,647.7 1111.1,645.7 1110.7,645.1 1108.5,642.6 1108.3,642.5 1105.8,640.4 1105.1,639.8 1103.2,638.7 1100.6,637.3 1100.4,637.2 1098.0,636.1 1095.3,635.2 1093.5,634.6 1092.7,634.3Z M1092.7,547.4 1090.1,546.9 1087.5,546.6 1084.8,546.4 1082.2,546.2 1079.6,546.2 1077.0,546.2 1074.3,546.4 1071.7,546.6 1069.1,546.9 1066.5,547.4 1064.5,548.0 1063.8,548.1 1061.2,549.0 1058.6,550.1 1057.6,550.6 1056.0,551.5 1053.4,553.2 1053.3,553.2 1050.7,555.6 1050.5,555.8 1048.3,558.5 1048.1,558.8 1046.7,561.1 1045.6,563.7 1045.5,564.1 1044.8,566.3 1044.4,569.0 1044.2,571.6 1044.1,574.2 1044.3,576.8 1044.8,579.5 1045.5,581.6 1045.6,582.1 1046.8,584.7 1048.1,586.7 1048.5,587.3 1050.7,589.8 1050.9,590.0 1053.3,592.0 1054.1,592.6 1056.0,593.7 1058.6,595.1 1058.8,595.2 1061.2,596.3 1063.8,597.2 1065.7,597.8 1066.5,598.1 1069.1,598.8 1071.7,599.4 1074.3,599.8 1077.0,600.1 1079.6,600.2 1082.2,600.1 1084.8,599.8 1087.5,599.4 1090.1,598.8 1092.7,598.1 1093.5,597.8 1095.3,597.2 1098.0,596.3 1100.4,595.2 1100.6,595.1 1103.2,593.7 1105.1,592.6 1105.8,592.0 1108.3,590.0 1108.5,589.8 1110.7,587.3 1111.1,586.7 1112.4,584.7 1113.6,582.1 1113.7,581.6 1114.4,579.5 1114.9,576.8 1115.1,574.2 1115.0,571.6 1114.8,569.0 1114.4,566.3 1113.7,564.1 1113.6,563.7 1112.5,561.1 1111.1,558.8 1110.9,558.5 1108.7,555.8 1108.5,555.6 1105.8,553.2 1105.8,553.2 1103.2,551.5 1101.6,550.6 1100.6,550.1 1098.0,549.0 1095.3,548.1 1094.7,548.0 1092.7,547.4Z" stroke="#47ff00"/><path d="M1084.8,636.8 1082.2,636.6 1079.6,636.5 1077.0,636.6 1074.3,636.8 1072.1,637.2 1071.7,637.3 1069.1,637.9 1066.5,638.7 1063.8,639.6 1063.4,639.8 1061.2,640.8 1058.6,642.3 1058.4,642.5 1056.0,644.3 1055.1,645.1 1053.3,647.1 1052.9,647.7 1051.3,650.3 1050.7,651.7 1050.3,653.0 1049.6,655.6 1049.4,658.2 1049.5,660.8 1049.8,663.5 1050.4,666.1 1050.7,667.1 1051.3,668.7 1052.8,671.3 1053.3,672.1 1054.9,674.0 1056.0,675.0 1057.9,676.6 1058.6,677.0 1061.2,678.6 1062.6,679.2 1063.8,679.7 1066.5,680.6 1069.1,681.2 1071.7,681.7 1073.2,681.8 1074.3,681.9 1077.0,682.1 1079.6,682.1 1082.2,682.1 1084.8,681.9 1086.0,681.8 1087.5,681.7 1090.1,681.2 1092.7,680.6 1095.3,679.7 1096.6,679.2 1098.0,678.6 1100.6,677.0 1101.3,676.6 1103.2,675.0 1104.3,674.0 1105.8,672.1 1106.4,671.3 1107.9,668.7 1108.5,667.1 1108.8,666.1 1109.4,663.5 1109.7,660.8 1109.8,658.2 1109.6,655.6 1108.9,653.0 1108.5,651.7 1107.9,650.3 1106.3,647.7 1105.8,647.1 1104.1,645.1 1103.2,644.3 1100.8,642.5 1100.6,642.3 1098.0,640.8 1095.8,639.8 1095.3,639.6 1092.7,638.7 1090.1,637.9 1087.5,637.3 1087.1,637.2 1084.8,636.8Z M1084.8,550.5 1082.2,550.3 1079.6,550.3 1077.0,550.3 1074.3,550.5 1073.2,550.6 1071.7,550.7 1069.1,551.2 1066.5,551.8 1063.8,552.7 1062.6,553.2 1061.2,553.8 1058.6,555.4 1057.9,555.8 1056.0,557.4 1054.9,558.5 1053.3,560.3 1052.8,561.1 1051.3,563.7 1050.7,565.3 1050.4,566.3 1049.8,569.0 1049.5,571.6 1049.4,574.2 1049.6,576.8 1050.3,579.5 1050.7,580.7 1051.3,582.1 1052.9,584.7 1053.3,585.3 1055.1,587.3 1056.0,588.1 1058.4,590.0 1058.6,590.1 1061.2,591.6 1063.4,592.6 1063.8,592.8 1066.5,593.7 1069.1,594.5 1071.7,595.1 1072.1,595.2 1074.3,595.6 1077.0,595.8 1079.6,595.9 1082.2,595.8 1084.8,595.6 1087.1,595.2 1087.5,595.1 1090.1,594.5 1092.7,593.7 1095.3,592.8 1095.8,592.6 1098.0,591.6 1100.6,590.1 1100.8,590.0 1103.2,588.1 1104.1,587.3 1105.8,585.3 1106.3,584.7 1107.9,582.1 1108.5,580.7 1108.9,579.5 1109.6,576.8 1109.8,574.2 1109.7,571.6 1109.4,569.0 1108.8,566.3 1108.5,565.3 1107.9,563.7 1106.4,561.1 1105.8,560.3 1104.3,558.5 1103.2,557.4 1101.3,555.8 1100.6,555.4 1098.0,553.8 1096.6,553.2 1095.3,552.7 1092.7,551.8 1090.1,551.2 1087.5,550.7 1086.0,550.6 1084.8,550.5Z" stroke="#00ff00"/><path d="M1090.1,642.0 1087.5,641.3 1084.8,640.9 1082.2,640.7 1079.6,640.6 1077.0,640.7 1074.3,640.9 1071.7,641.3 1069.1,642.0 1067.7,642.5 1066.5,642.8 1063.8,643.9 1061.8,645.1 1061.2,645.5 1058.8,647.7 1058.6,647.9 1056.9,650.3 1056.0,652.1 1055.6,653.0 1054.7,655.6 1054.4,658.2 1054.6,660.8 1055.0,663.5 1055.8,666.1 1056.0,666.4 1057.0,668.7 1058.6,670.8 1059.1,671.3 1061.2,673.2 1062.3,674.0 1063.8,674.8 1066.5,676.0 1068.1,676.6 1069.1,676.9 1071.7,677.5 1074.3,677.8 1077.0,678.0 1079.6,678.1 1082.2,678.0 1084.8,677.8 1087.5,677.5 1090.1,676.9 1091.1,676.6 1092.7,676.0 1095.3,674.8 1096.9,674.0 1098.0,673.2 1100.1,671.3 1100.6,670.8 1102.2,668.7 1103.2,666.4 1103.4,666.1 1104.2,663.5 1104.6,660.8 1104.8,658.2 1104.5,655.6 1103.6,653.0 1103.2,652.1 1102.3,650.3 1100.6,647.9 1100.4,647.7 1098.0,645.5 1097.4,645.1 1095.3,643.9 1092.7,642.8 1091.5,642.5 1090.1,642.0Z M1090.1,555.5 1087.5,554.9 1084.8,554.6 1082.2,554.4 1079.6,554.3 1077.0,554.4 1074.3,554.6 1071.7,554.9 1069.1,555.5 1068.1,555.8 1066.5,556.4 1063.8,557.6 1062.3,558.5 1061.2,559.2 1059.1,561.1 1058.6,561.6 1057.0,563.7 1056.0,566.0 1055.8,566.3 1055.0,569.0 1054.6,571.6 1054.4,574.2 1054.7,576.8 1055.6,579.5 1056.0,580.3 1056.9,582.1 1058.6,584.5 1058.8,584.7 1061.2,586.9 1061.8,587.3 1063.8,588.5 1066.5,589.6 1067.7,590.0 1069.1,590.4 1071.7,591.1 1074.3,591.5 1077.0,591.7 1079.6,591.8 1082.2,591.7 1084.8,591.5 1087.5,591.1 1090.1,590.4 1091.5,590.0 1092.7,589.6 1095.3,588.5 1097.4,587.3 1098.0,586.9 1100.4,584.7 1100.6,584.5 1102.3,582.1 1103.2,580.3 1103.6,579.5 1104.5,576.8 1104.8,574.2 1104.6,571.6 1104.2,569.0 1103.4,566.3 1103.2,566.0 1102.2,563.7 1100.6,561.6 1100.1,561.1 1098.0,559.2 1096.9,558.5 1095.3,557.6 1092.7,556.4 1091.1,555.8 1090.1,555.5Z" stroke="#00ff30"/><path d="M1087.5,644.6 1084.8,644.2 1082.2,644.0 1079.6,643.9 1077.0,644.0 1074.3,644.2 1071.7,644.6 1070.0,645.1 1069.1,645.3 1066.5,646.2 1064.0,647.7 1063.8,647.8 1061.5,650.3 1061.2,650.8 1060.0,653.0 1059.0,655.6 1058.7,658.2 1059.0,660.8 1059.5,663.5 1060.5,666.1 1061.2,667.3 1062.2,668.7 1063.8,670.1 1065.8,671.3 1066.5,671.7 1069.1,672.8 1071.7,673.5 1074.3,673.9 1075.5,674.0 1077.0,674.1 1079.6,674.1 1082.2,674.1 1083.7,674.0 1084.8,673.9 1087.5,673.5 1090.1,672.8 1092.7,671.7 1093.4,671.3 1095.3,670.1 1097.0,668.7 1098.0,667.3 1098.7,666.1 1099.7,663.5 1100.2,660.8 1100.5,658.2 1100.2,655.6 1099.2,653.0 1098.0,650.8 1097.7,650.3 1095.3,647.8 1095.2,647.7 1092.7,646.2 1090.1,645.3 1089.2,645.1 1087.5,644.6Z M1082.2,558.3 1079.6,558.3 1077.0,558.3 1075.5,558.5 1074.3,558.5 1071.7,558.9 1069.1,559.6 1066.5,560.7 1065.8,561.1 1063.8,562.3 1062.2,563.7 1061.2,565.1 1060.5,566.3 1059.5,569.0 1059.0,571.6 1058.7,574.2 1059.0,576.8 1060.0,579.5 1061.2,581.6 1061.5,582.1 1063.8,584.6 1064.0,584.7 1066.5,586.2 1069.1,587.1 1070.0,587.3 1071.7,587.8 1074.3,588.2 1077.0,588.4 1079.6,588.5 1082.2,588.4 1084.8,588.2 1087.5,587.8 1089.2,587.3 1090.1,587.1 1092.7,586.2 1095.2,584.7 1095.3,584.6 1097.7,582.1 1098.0,581.6 1099.2,579.5 1100.2,576.8 1100.5,574.2 1100.2,571.6 1099.7,569.0 1098.7,566.3 1098.0,565.1 1097.0,563.7 1095.3,562.3 1093.4,561.1 1092.7,560.7 1090.1,559.6 1087.5,558.9 1084.8,558.5 1083.7,558.5 1082.2,558.3Z" stroke="#00ffcf"/><path d="M1087.5,647.4 1084.8,646.9 1082.2,646.7 1079.6,646.6 1077.0,646.7 1074.3,646.9 1071.7,647.4 1070.6,647.7 1069.1,648.2 1066.5,649.7 1065.8,650.3 1063.8,652.7 1063.7,653.0 1062.5,655.6 1062.2,658.2 1062.5,660.8 1063.2,663.5 1063.8,664.7 1064.6,666.1 1066.5,667.9 1067.7,668.7 1069.1,669.4 1071.7,670.2 1074.3,670.7 1077.0,671.0 1079.6,671.0 1082.2,671.0 1084.8,670.7 1087.5,670.2 1090.1,669.4 1091.5,668.7 1092.7,667.9 1094.6,666.1 1095.3,664.7 1096.0,663.5 1096.7,660.8 1097.0,658.2 1096.7,655.6 1095.5,653.0 1095.3,652.7 1093.4,650.3 1092.7,649.7 1090.1,648.2 1088.6,647.7 1087.5,647.4Z M1090.1,563.0 1087.5,562.2 1084.8,561.7 1082.2,561.4 1079.6,561.4 1077.0,561.4 1074.3,561.7 1071.7,562.2 1069.1,563.0 1067.7,563.7 1066.5,564.5 1064.6,566.3 1063.8,567.7 1063.2,569.0 1062.5,571.6 1062.2,574.2 1062.5,576.8 1063.7,579.5 1063.8,579.7 1065.8,582.1 1066.5,582.7 1069.1,584.2 1070.6,584.7 1071.7,585.0 1074.3,585.5 1077.0,585.7 1079.6,585.8 1082.2,585.7 1084.8,585.5 1087.5,585.0 1088.6,584.7 1090.1,584.2 1092.7,582.7 1093.4,582.1 1095.3,579.7 1095.5,579.5 1096.7,576.8 1097.0,574.2 1096.7,571.6 1096.0,569.0 1095.3,567.7 1094.6,566.3 1092.7,564.5 1091.5,563.7 1090.1,563.0Z" stroke="#009cff"/><path d="M1087.5,650.2 1084.8,649.6 1082.2,649.3 1079.6,649.2 1077.0,649.3 1074.3,649.6 1071.7,650.2 1071.5,650.3 1069.1,651.6 1067.6,653.0 1066.5,654.5 1065.8,655.6 1065.4,658.2 1065.8,660.8 1066.5,662.5 1066.9,663.5 1069.1,666.0 1069.2,666.1 1071.7,667.3 1074.3,668.0 1077.0,668.3 1079.6,668.4 1082.2,668.3 1084.8,668.0 1087.5,667.3 1090.0,666.1 1090.1,666.0 1092.3,663.5 1092.7,662.5 1093.4,660.8 1093.8,658.2 1093.4,655.6 1092.7,654.5 1091.6,653.0 1090.1,651.6 1087.7,650.3 1087.5,650.2Z M1087.5,565.1 1084.8,564.4 1082.2,564.1 1079.6,564.0 1077.0,564.1 1074.3,564.4 1071.7,565.1 1069.2,566.3 1069.1,566.4 1066.9,569.0 1066.5,569.9 1065.8,571.6 1065.4,574.2 1065.8,576.8 1066.5,577.9 1067.6,579.5 1069.1,580.8 1071.5,582.1 1071.7,582.2 1074.3,582.8 1077.0,583.1 1079.6,583.2 1082.2,583.1 1084.8,582.8 1087.5,582.2 1087.7,582.1 1090.1,580.8 1091.6,579.5 1092.7,577.9 1093.4,576.8 1093.8,574.2 1093.4,571.6 1092.7,569.9 1092.3,569.0 1090.1,566.4 1090.0,566.3 1087.5,565.1Z" stroke="#000eff"/><path d="M1084.8,652.5 1082.2,652.2 1079.6,652.1 1077.0,652.2 1074.3,652.5 1073.2,653.0 1071.7,653.8 1069.6,655.6 1069.1,656.9 1068.7,658.2 1069.1,659.6 1069.6,660.8 1071.7,663.3 1071.9,663.5 1074.3,664.5 1077.0,665.0 1079.6,665.1 1082.2,665.0 1084.8,664.5 1087.3,663.5 1087.5,663.3 1089.6,660.8 1090.1,659.6 1090.5,658.2 1090.1,656.9 1089.6,655.6 1087.5,653.8 1086.0,653.0 1084.8,652.5Z M1084.8,567.9 1082.2,567.4 1079.6,567.3 1077.0,567.4 1074.3,567.9 1071.9,569.0 1071.7,569.1 1069.6,571.6 1069.1,572.8 1068.7,574.2 1069.1,575.5 1069.6,576.8 1071.7,578.6 1073.2,579.5 1074.3,579.9 1077.0,580.2 1079.6,580.3 1082.2,580.2 1084.8,579.9 1086.0,579.5 1087.5,578.6 1089.6,576.8 1090.1,575.5 1090.5,574.2 1090.1,572.8 1089.6,571.6 1087.5,569.1 1087.3,569.0 1084.8,567.9Z" stroke="#5200ff"/></g><g fill="none" stroke-width="2.4" stroke-linejoin="round" stroke-linecap="round"><path d="M998.7,556.5 992.6,564.2 986.0,575.0 979.6,584.2 974.5,592.3 975.1,604.2 976.5,615.5 974.6,622.2 973.5,629.0 976.1,642.2 979.4,656.1 984.6,662.2 990.0,668.0 997.7,676.4" stroke="#ff1a10" stroke-dasharray="16 5"/><path d="M1160.5,556.5 1166.6,564.2 1173.2,575.0 1179.6,584.2 1184.7,592.3 1184.1,604.2 1182.7,615.5 1184.6,622.2 1185.7,629.0 1183.1,642.2 1179.8,656.1 1174.6,662.2 1169.2,668.0 1161.5,676.4" stroke="#ff1a10" stroke-dasharray="16 5"/><path d="M997.7,676.4 1001.6,671.6 994.8,663.9 990.0,648.4 988.0,615.5 990.0,582.6 994.8,567.1 1001.6,561.3 998.7,556.5" stroke="#ff1a10"/><path d="M1161.5,676.4 1157.6,671.6 1164.4,663.9 1169.2,648.4 1171.2,615.5 1169.2,582.6 1164.4,567.1 1157.6,561.3 1160.5,556.5" stroke="#ff1a10"/><path d="M1154.8,547.3 1153.5,548.0 1151.5,547.8 1149.3,546.7 1147.5,545.1 1146.6,543.3 1146.8,541.9 1148.1,541.2 1150.1,541.4 1152.3,542.5 1154.1,544.1 1155.0,545.9 1154.8,547.3Z" stroke="#ff1a10"/><path d="M1154.8,685.1 1155.0,686.5 1154.1,688.3 1152.3,689.9 1150.1,691.0 1148.1,691.2 1146.8,690.5 1146.6,689.1 1147.5,687.3 1149.3,685.7 1151.5,684.6 1153.5,684.4 1154.8,685.1Z" stroke="#ff1a10"/><path d="M1012.4,541.9 1012.6,543.3 1011.7,545.1 1009.9,546.7 1007.7,547.8 1005.7,548.0 1004.4,547.3 1004.2,545.9 1005.1,544.1 1006.9,542.5 1009.1,541.4 1011.1,541.2 1012.4,541.9Z" stroke="#ff1a10"/><path d="M1012.4,690.5 1011.1,691.2 1009.1,691.0 1006.9,689.9 1005.1,688.3 1004.2,686.5 1004.4,685.1 1005.7,684.4 1007.7,684.6 1009.9,685.7 1011.7,687.3 1012.6,689.1 1012.4,690.5Z" stroke="#ff1a10"/></g></g><rect x="951.5" y="488.2" width="256.8" height="255.8" fill="none" stroke="#111" stroke-width="1.8"/><path d="M936.5 741.2H951.5 M954.6 744.0V759.0 M936.5 678.7H951.5 M1017.1 744.0V759.0 M936.5 616.2H951.5 M1079.6 744.0V759.0 M936.5 553.7H951.5 M1142.1 744.0V759.0 M936.5 491.2H951.5 M1204.6 744.0V759.0" stroke="#111" stroke-width="1.9" fill="none"/><text x="929.9" y="748.1" font-size="19.8" text-anchor="end">−4</text><text x="952.2" y="785.4" font-size="19.8" text-anchor="middle">−4</text><text x="929.9" y="685.6" font-size="19.8" text-anchor="end">−2</text><text x="1014.7" y="785.4" font-size="19.8" text-anchor="middle">−2</text><text x="929.9" y="623.1" font-size="19.8" text-anchor="end">0</text><text x="1080.1" y="785.4" font-size="19.8" text-anchor="middle">0</text><text x="929.9" y="560.6" font-size="19.8" text-anchor="end">2</text><text x="1142.6" y="785.4" font-size="19.8" text-anchor="middle">2</text><text x="929.9" y="498.1" font-size="19.8" text-anchor="end">4</text><text x="1205.1" y="785.4" font-size="19.8" text-anchor="middle">4</text><text x="977.6" y="817.0" font-size="19.8">momentum (10</text><text x="1113.1" y="804.0" font-size="14.4">5</text><text x="1126.0" y="817.0" font-size="19.8" font-style="italic">u</text><text x="1142.1" y="817.0" font-size="19.8">m/s)</text><g transform="translate(884.8 716.2) rotate(-90)"><text x="-1.4" y="0.0" font-size="19.8">momentum (10</text><text x="134.1" y="-13.0" font-size="14.4">5</text><text x="147.0" y="0.0" font-size="19.8" font-style="italic">u</text><text x="163.1" y="0.0" font-size="19.8">m/s)</text></g><rect x="952.5" y="489.2" width="94.5" height="42.5" fill="#fff"/><text x="959.3" y="525.2" font-size="27.0">(f)</text><text x="990.8" y="507.3" font-size="17.4">35</text><text x="1011.6" y="525.2" font-size="27.0">Cl</text><text x="1036.6" y="507.7" font-size="18.0">+</text><rect x="1217.5" y="494.7" width="6.7" height="74.5" fill="url(#cbg)" stroke="#111" stroke-width="1.6"/><path d="M1225.0 500.6H1230.5" stroke="#111" stroke-width="1.9"/><text x="1237.2" y="507.7" font-size="18.4">4</text><path d="M1225.0 532.9H1230.5" stroke="#111" stroke-width="1.9"/><text x="1237.2" y="540.0" font-size="18.4">2</text><path d="M1225.0 565.4H1230.5" stroke="#111" stroke-width="1.9"/><text x="1237.2" y="572.5" font-size="18.4">0</text><g transform="translate(1224.6 583.1) rotate(90)"><text x="0.0" y="0.0" font-size="20.0">×10</text><text x="28.0" y="-13.6" font-size="15.0">−4</text></g></svg></body></html>
